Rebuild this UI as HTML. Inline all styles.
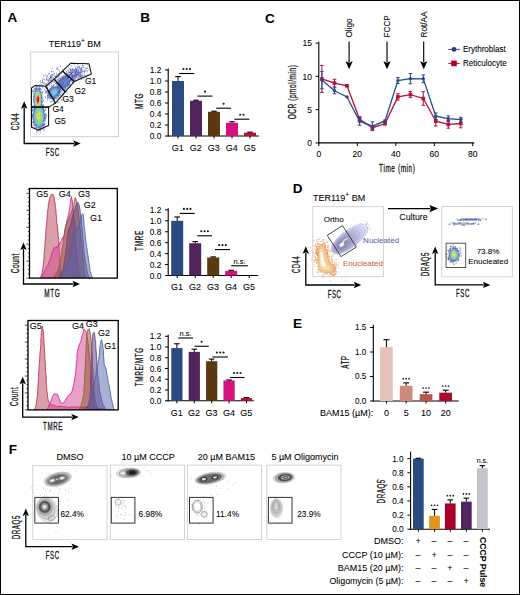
<!DOCTYPE html>
<html><head><meta charset="utf-8"><style>
html,body{margin:0;padding:0;background:#fff;}
body{width:520px;height:595px;overflow:hidden;position:relative;}
svg{position:absolute;left:0;top:0;}
text{font-family:"Liberation Sans", sans-serif;}
</style></head><body>
<svg width="520" height="595" viewBox="0 0 520 595">
<rect x="0" y="0" width="520" height="595" fill="#fff"/>
<clipPath id="h1"><rect x="29.5" y="188.5" width="87.8" height="89.6"/></clipPath>
<g clip-path="url(#h1)">
<path d="M40.00,277.80 L40.00,277.80 L40.24,277.40 L40.59,276.91 L41.02,276.23 L41.31,275.16 L41.70,273.74 L42.32,272.14 L42.51,269.82 L43.01,267.72 L43.25,264.88 L43.77,261.89 L43.96,258.16 L44.16,254.34 L44.54,250.53 L44.86,246.85 L45.08,243.55 L45.33,238.84 L45.69,235.83 L45.91,231.47 L46.15,228.01 L46.42,225.37 L46.83,221.99 L46.95,219.06 L47.17,216.76 L47.39,213.89 L47.44,212.48 L47.84,210.04 L48.25,207.37 L48.15,205.83 L48.58,203.72 L48.87,201.93 L49.19,200.45 L49.42,199.61 L49.82,197.97 L50.12,196.91 L50.58,195.80 L51.06,195.66 L51.19,194.43 L51.39,194.83 L51.90,194.26 L52.27,194.74 L52.43,194.14 L52.89,194.22 L52.94,194.30 L53.18,194.81 L53.28,194.93 L53.54,195.35 L53.81,196.17 L53.95,196.25 L54.14,196.81 L54.26,197.80 L54.43,198.50 L54.38,199.76 L54.70,201.79 L55.24,203.53 L55.13,204.71 L55.44,206.46 L55.54,207.63 L55.79,209.30 L55.91,210.22 L55.99,212.41 L56.20,214.66 L56.49,217.34 L56.60,219.65 L56.66,222.27 L57.14,224.60 L57.45,226.95 L57.73,229.86 L58.04,232.99 L58.08,236.15 L58.65,239.34 L58.69,241.72 L58.81,244.59 L59.04,247.90 L59.17,250.22 L59.27,252.48 L59.50,255.27 L59.61,257.04 L59.66,258.19 L59.78,259.93 L59.87,261.77 L59.97,263.31 L60.16,266.32 L60.46,267.30 L60.46,270.00 L60.73,271.13 L61.07,272.18 L61.21,274.34 L61.45,275.50 L61.58,276.95 L61.70,277.80 L61.70,277.80Z" fill="#b8485a" fill-opacity="0.52" stroke="#c4305a" stroke-width="0.9" stroke-linejoin="round"/>
<path d="M41.40,277.80 L41.40,277.80 L41.40,277.80 L41.37,277.80 L41.38,277.80 L41.50,277.80 L41.80,277.20 L42.31,275.89 L42.91,274.15 L43.81,273.24 L44.70,271.07 L45.45,269.15 L46.22,268.04 L47.03,266.34 L47.86,265.38 L48.46,263.62 L49.30,261.42 L49.81,260.45 L50.49,258.34 L51.06,256.46 L51.65,254.15 L52.09,252.26 L52.60,251.50 L53.16,250.75 L53.29,248.64 L53.80,248.48 L54.39,247.60 L54.42,246.80 L54.93,247.58 L55.19,247.68 L55.28,247.73 L55.60,248.04 L56.03,247.35 L56.30,247.61 L56.47,246.94 L56.73,246.60 L57.02,246.77 L57.42,246.69 L57.54,247.21 L57.97,246.76 L58.10,246.36 L58.58,246.04 L58.71,245.92 L58.97,245.56 L58.77,245.31 L58.96,244.66 L59.34,243.26 L59.71,244.23 L59.98,242.60 L60.48,242.60 L60.85,241.43 L61.28,240.71 L61.54,240.25 L61.87,239.06 L62.21,238.60 L62.34,237.88 L62.46,237.90 L62.96,238.29 L63.05,237.51 L62.85,237.80 L63.29,237.60 L63.39,237.03 L63.73,235.98 L64.06,235.25 L64.48,233.42 L64.57,231.74 L65.06,229.86 L65.26,229.47 L65.43,228.00 L65.65,226.43 L65.97,224.80 L66.36,223.83 L66.65,221.58 L67.36,219.57 L67.70,218.11 L68.06,215.93 L68.69,214.18 L68.93,212.23 L69.28,210.44 L69.54,208.12 L69.92,206.57 L70.16,204.83 L70.33,203.71 L70.63,200.86 L70.74,199.11 L71.28,197.74 L71.28,196.71 L71.56,196.53 L71.63,197.24 L71.87,199.37 L72.34,200.82 L72.46,202.09 L72.60,204.25 L72.69,205.06 L73.20,207.21 L73.17,209.75 L73.45,211.70 L73.73,215.16 L74.04,218.60 L74.27,222.17 L74.53,226.22 L75.00,230.18 L75.05,234.14 L75.31,237.46 L75.36,241.51 L75.82,246.52 L75.82,249.95 L76.21,253.45 L76.82,257.29 L76.80,260.44 L77.19,262.97 L77.38,265.94 L77.68,268.22 L78.21,270.37 L78.35,271.87 L78.69,272.98 L78.96,273.86 L79.17,274.63 L79.65,276.28 L80.11,276.83 L80.30,277.35 L80.50,277.80 L80.50,277.80Z" fill="#d24894" fill-opacity="0.52" stroke="#e0209a" stroke-width="0.9" stroke-linejoin="round"/>
<path d="M53.90,277.80 L53.90,277.80 L54.26,277.14 L54.70,275.61 L55.42,275.20 L56.08,273.89 L56.37,273.07 L57.03,271.74 L57.17,271.31 L57.83,270.70 L58.11,269.79 L58.38,268.30 L58.80,268.43 L59.04,267.29 L59.20,265.96 L59.74,264.82 L60.01,263.36 L60.06,262.51 L60.37,260.62 L60.62,259.05 L60.90,256.99 L61.06,255.14 L61.57,253.69 L61.75,251.31 L61.93,249.73 L62.26,248.37 L62.52,246.72 L62.86,244.49 L63.22,242.25 L63.50,240.62 L63.61,238.82 L64.01,236.96 L64.18,235.44 L64.36,233.14 L64.70,231.46 L65.09,228.79 L65.24,228.19 L65.65,226.03 L66.11,224.80 L66.35,223.82 L66.72,223.26 L67.10,222.15 L67.44,220.52 L68.06,220.59 L68.57,219.05 L69.05,218.04 L69.39,217.67 L69.82,215.50 L70.42,214.66 L70.65,214.47 L71.13,212.68 L71.30,212.49 L71.96,210.76 L72.47,209.31 L72.93,207.16 L73.68,205.35 L73.86,204.69 L73.94,203.15 L74.29,202.60 L74.38,202.13 L74.47,201.22 L74.74,200.99 L74.74,200.88 L74.91,199.09 L75.00,198.33 L75.13,197.89 L75.39,197.81 L75.54,197.80 L75.63,197.90 L75.83,198.70 L76.05,199.53 L76.21,199.52 L76.27,199.83 L76.23,200.35 L76.58,200.69 L76.67,201.09 L76.80,201.97 L77.09,203.51 L77.31,205.54 L77.77,207.81 L78.03,210.11 L78.23,212.89 L78.74,215.59 L79.08,218.51 L79.34,221.31 L79.73,224.92 L79.84,227.87 L80.43,231.02 L80.63,234.23 L81.00,236.38 L80.94,239.91 L81.34,243.13 L81.73,245.60 L82.06,249.56 L82.58,252.27 L82.69,255.74 L82.87,258.02 L83.35,260.79 L83.62,264.15 L83.83,267.22 L84.29,269.46 L84.61,271.90 L84.76,273.64 L84.99,275.10 L85.44,275.59 L85.63,277.09 L85.80,277.80 L85.80,277.80Z" fill="#8c5a2a" fill-opacity="0.52" stroke="#8a6438" stroke-width="0.9" stroke-linejoin="round"/>
<path d="M58.50,277.80 L58.50,277.80 L58.85,277.14 L59.37,276.20 L59.87,274.54 L60.39,273.81 L60.96,272.21 L61.49,272.49 L61.88,271.25 L62.01,270.96 L62.76,269.69 L63.28,268.64 L63.51,267.04 L63.92,264.66 L64.18,262.06 L64.74,260.11 L64.89,257.24 L65.43,254.71 L65.86,251.75 L66.09,248.49 L66.56,245.95 L66.64,243.87 L67.07,240.98 L67.03,239.08 L67.38,237.84 L67.43,235.96 L67.67,234.56 L67.90,233.12 L68.35,231.13 L68.77,229.98 L68.96,229.19 L69.36,228.03 L69.63,227.35 L70.10,226.07 L70.46,226.21 L70.57,224.52 L70.89,223.84 L71.32,221.37 L71.68,219.99 L72.10,217.25 L72.65,216.12 L73.22,214.15 L73.63,212.99 L74.05,211.66 L74.50,210.20 L75.03,209.63 L75.36,207.94 L75.76,207.12 L75.81,205.68 L76.37,205.24 L76.28,204.95 L76.72,204.25 L76.70,203.45 L77.03,203.61 L77.17,203.20 L77.64,203.54 L77.77,203.10 L77.99,202.36 L78.19,203.32 L78.32,204.06 L78.61,203.77 L78.77,204.74 L78.99,205.42 L79.39,205.46 L79.61,207.14 L79.74,208.84 L79.91,209.07 L80.23,211.38 L80.37,214.38 L80.73,217.34 L81.18,220.35 L81.49,223.19 L81.74,226.26 L82.10,229.20 L82.61,233.86 L82.77,237.08 L83.15,239.66 L83.28,243.04 L83.57,246.06 L83.83,249.05 L84.11,251.81 L84.49,255.90 L84.97,257.91 L85.25,261.12 L85.95,263.59 L86.35,266.39 L86.73,269.24 L87.23,270.98 L87.59,273.62 L88.23,274.80 L88.77,276.87 L89.00,277.80 L89.00,277.80Z" fill="#62387e" fill-opacity="0.52" stroke="#6a4890" stroke-width="0.9" stroke-linejoin="round"/>
<path d="M62.20,277.80 L62.20,277.80 L62.38,277.14 L62.46,276.70 L62.88,275.40 L63.27,273.79 L63.28,272.68 L63.59,271.94 L64.02,270.92 L64.40,270.34 L64.37,269.25 L64.80,268.14 L65.42,267.11 L65.71,266.51 L66.50,266.15 L67.13,265.08 L67.70,264.02 L68.32,262.87 L68.91,261.06 L69.43,258.75 L70.03,257.37 L70.67,255.02 L70.80,253.34 L71.28,250.28 L71.58,248.32 L71.91,245.88 L72.22,243.69 L72.71,241.21 L72.78,239.84 L73.06,236.60 L73.30,235.11 L73.70,233.13 L73.89,231.92 L74.06,231.48 L74.54,230.75 L74.87,230.99 L75.15,229.88 L75.58,230.23 L75.74,229.36 L76.11,229.06 L76.43,227.90 L76.92,228.31 L77.28,227.78 L77.75,227.36 L78.57,226.62 L78.73,226.50 L79.23,225.57 L79.51,225.16 L79.85,223.09 L80.18,222.57 L80.47,221.87 L80.58,220.58 L81.17,219.48 L81.21,218.25 L81.58,216.87 L81.59,215.47 L81.88,215.16 L82.03,214.31 L82.20,214.01 L82.24,213.86 L82.63,213.84 L82.67,213.56 L82.75,214.31 L82.90,214.47 L83.40,215.25 L83.27,216.10 L83.41,216.26 L83.63,216.58 L83.60,216.58 L83.65,217.68 L83.49,218.78 L83.78,220.40 L83.99,222.69 L84.03,225.52 L84.68,229.37 L84.97,232.45 L85.25,235.76 L85.59,237.79 L85.76,240.94 L86.14,243.33 L86.63,244.84 L86.66,247.47 L87.20,249.59 L87.36,252.27 L87.77,254.07 L88.04,255.78 L88.24,258.09 L88.61,260.13 L88.86,262.60 L89.34,264.69 L89.61,266.99 L89.86,269.12 L89.97,270.92 L90.25,271.56 L90.69,272.89 L90.64,272.44 L91.08,274.23 L91.30,275.17 L91.72,275.97 L92.10,276.60 L92.29,277.31 L92.50,277.80 L92.50,277.80Z" fill="#5868aa" fill-opacity="0.52" stroke="#4864a8" stroke-width="0.9" stroke-linejoin="round"/>
</g>
<clipPath id="h2"><rect x="28.0" y="320.5" width="90.2" height="89.4"/></clipPath>
<g clip-path="url(#h2)">
<path d="M34.50,410.20 L34.50,410.20 L34.92,408.31 L35.45,407.35 L35.84,405.77 L36.41,403.47 L36.84,399.68 L37.46,395.43 L37.77,390.15 L38.14,383.99 L38.53,377.47 L38.76,372.37 L39.11,367.00 L39.36,362.41 L39.72,358.30 L39.96,353.95 L40.34,350.13 L40.73,346.45 L40.88,343.69 L40.79,341.16 L41.07,338.19 L41.21,336.02 L41.20,333.66 L41.36,331.55 L41.72,329.90 L41.98,328.09 L42.05,327.60 L42.28,326.52 L42.47,326.43 L42.65,328.25 L42.82,329.15 L43.17,331.10 L43.53,334.16 L43.79,338.99 L43.99,343.21 L44.38,348.38 L44.70,353.29 L44.76,358.35 L45.31,362.54 L45.38,367.47 L45.57,372.33 L46.26,377.04 L46.18,381.86 L46.54,385.61 L46.81,390.48 L47.36,393.65 L47.66,397.30 L47.97,398.91 L48.31,400.71 L48.99,402.41 L49.96,403.26 L50.68,404.41 L52.28,405.12 L53.66,405.16 L55.44,405.82 L57.44,406.71 L59.97,406.11 L62.57,406.64 L65.32,406.92 L68.14,407.26 L71.51,406.90 L75.02,407.05 L78.69,406.83 L82.92,407.58 L87.33,407.25 L91.09,408.52 L95.26,408.11 L98.58,408.67 L102.02,408.83 L105.32,409.42 L108.04,409.88 L110.00,410.20 L110.00,410.20Z" fill="#b8485a" fill-opacity="0.52" stroke="#c4305a" stroke-width="0.9" stroke-linejoin="round"/>
<path d="M47.00,410.20 L47.00,410.20 L47.39,409.30 L47.89,407.97 L48.56,406.82 L49.15,404.84 L49.81,403.48 L50.61,401.90 L51.16,400.41 L51.72,398.75 L52.25,397.10 L52.69,396.27 L53.23,395.71 L53.53,394.49 L53.93,394.24 L54.39,394.06 L54.46,393.93 L55.02,393.84 L55.95,394.05 L56.32,394.37 L57.25,394.11 L57.60,394.91 L58.29,395.88 L58.40,396.91 L58.78,397.67 L58.96,398.42 L59.40,399.62 L60.03,400.52 L60.50,402.37 L61.17,402.43 L61.91,403.32 L62.31,403.33 L62.89,402.81 L63.57,403.10 L64.12,401.85 L64.79,401.41 L65.27,400.39 L65.73,399.13 L66.15,399.37 L66.93,397.68 L67.36,396.71 L68.00,395.98 L68.37,395.45 L69.05,395.18 L69.75,394.76 L70.44,394.56 L71.10,392.93 L71.86,391.55 L72.54,389.15 L73.47,385.75 L74.17,382.23 L74.76,379.31 L75.22,375.38 L75.83,372.09 L76.08,368.44 L76.31,364.23 L76.67,361.14 L77.12,358.51 L76.94,355.99 L77.10,353.65 L77.60,351.58 L77.64,350.08 L78.44,348.15 L78.87,345.74 L79.67,343.76 L80.44,342.20 L81.02,340.62 L81.47,339.01 L81.86,336.41 L82.25,335.59 L82.63,334.47 L83.15,332.68 L83.27,332.23 L83.54,331.46 L83.31,330.55 L83.67,329.68 L83.92,329.26 L84.09,329.99 L84.62,329.41 L84.55,330.04 L85.00,330.71 L85.28,330.75 L85.31,331.04 L85.68,331.40 L85.81,331.30 L86.27,331.86 L86.35,332.35 L86.44,333.53 L86.82,334.88 L87.06,336.45 L87.29,337.61 L87.76,340.38 L88.15,343.84 L88.72,347.54 L88.88,351.43 L89.34,355.27 L89.81,360.36 L90.30,364.26 L90.65,368.57 L90.81,372.02 L91.12,375.98 L91.40,379.31 L91.54,383.17 L91.94,385.47 L92.45,388.02 L92.77,390.46 L93.12,392.54 L93.38,395.77 L93.36,399.09 L93.96,401.72 L94.26,405.17 L94.35,406.79 L94.94,408.60 L94.96,409.01 L95.20,409.54 L95.37,409.89 L95.50,410.20 L95.50,410.20Z" fill="#d24894" fill-opacity="0.52" stroke="#e0209a" stroke-width="0.9" stroke-linejoin="round"/>
<path d="M79.00,410.20 L79.00,410.20 L79.69,407.96 L80.54,407.13 L81.51,403.87 L82.52,400.14 L83.08,397.17 L83.66,395.08 L83.94,392.61 L84.00,389.48 L84.28,386.55 L84.47,382.04 L84.68,377.06 L84.98,370.46 L85.45,364.30 L85.51,358.52 L86.00,352.06 L86.08,347.59 L86.28,344.08 L86.37,339.38 L86.73,336.76 L86.80,333.62 L87.17,332.52 L87.39,331.08 L87.36,330.95 L87.82,330.30 L87.78,329.80 L88.32,329.41 L88.26,329.68 L88.63,329.77 L89.11,329.08 L89.22,329.14 L89.45,328.64 L89.29,329.21 L89.78,331.01 L89.76,331.35 L90.17,332.01 L90.14,332.82 L90.24,332.65 L90.21,333.26 L90.43,335.35 L90.69,337.04 L91.05,340.08 L91.28,342.11 L91.37,344.95 L91.53,348.94 L91.76,352.20 L92.29,356.47 L92.35,360.80 L92.42,365.58 L92.91,370.20 L93.05,375.83 L93.34,378.74 L93.62,382.67 L93.86,386.51 L94.09,390.05 L94.32,392.96 L94.73,396.11 L95.19,399.30 L95.77,402.24 L96.11,404.20 L96.78,406.37 L97.40,408.70 L98.18,408.87 L98.74,409.54 L99.36,409.89 L99.80,410.20 L99.80,410.20Z" fill="#8c5a2a" fill-opacity="0.52" stroke="#8a6438" stroke-width="0.9" stroke-linejoin="round"/>
<path d="M84.00,410.20 L84.00,410.20 L84.77,409.30 L86.04,407.61 L86.84,406.40 L88.48,405.60 L89.22,401.84 L89.76,398.98 L90.03,394.79 L90.36,391.32 L90.52,387.24 L90.62,383.32 L90.69,378.19 L91.17,373.05 L91.21,368.47 L91.16,364.17 L91.35,359.68 L91.62,355.32 L91.62,351.39 L91.85,346.71 L92.10,343.27 L92.29,341.13 L92.44,337.68 L92.65,335.34 L93.02,333.73 L93.47,332.91 L93.68,332.46 L94.18,332.38 L94.51,333.83 L94.79,335.27 L95.00,336.60 L95.07,339.55 L95.62,341.16 L95.74,343.39 L95.80,346.47 L95.99,349.21 L96.23,352.06 L96.53,355.79 L96.57,359.87 L97.06,364.48 L97.15,368.14 L97.56,371.87 L97.70,376.10 L98.62,380.40 L98.88,383.60 L99.27,388.28 L99.67,392.09 L100.51,394.65 L100.90,397.19 L101.52,399.67 L102.09,402.32 L102.66,404.01 L103.44,405.70 L104.14,406.09 L104.77,407.95 L105.39,409.41 L105.80,410.20 L105.80,410.20Z" fill="#62387e" fill-opacity="0.52" stroke="#6a4890" stroke-width="0.9" stroke-linejoin="round"/>
<path d="M86.00,410.20 L86.00,410.20 L86.44,409.91 L87.06,409.59 L87.66,409.65 L88.68,407.90 L89.37,407.04 L89.73,405.22 L90.58,402.66 L91.06,400.32 L91.64,397.23 L92.41,394.39 L92.60,392.12 L93.29,389.42 L93.66,387.34 L94.10,384.48 L94.36,381.90 L94.80,380.75 L95.29,378.70 L95.44,377.01 L95.78,375.84 L96.08,373.27 L96.21,371.97 L96.58,370.39 L96.88,368.23 L97.15,367.37 L97.46,365.31 L97.82,364.19 L98.19,362.04 L98.40,360.19 L98.65,359.21 L99.12,356.62 L99.21,354.57 L99.56,352.54 L99.56,349.41 L99.74,347.71 L100.01,345.89 L100.28,344.52 L100.71,342.67 L100.99,340.83 L101.33,340.68 L101.59,339.67 L101.93,340.34 L102.13,342.52 L102.64,344.23 L102.84,346.53 L103.01,348.83 L103.58,351.87 L103.53,355.30 L103.80,358.72 L104.07,362.28 L104.32,365.12 L104.61,366.19 L104.73,366.40 L105.18,366.30 L105.27,366.52 L105.76,367.71 L106.06,368.63 L106.40,370.38 L106.54,371.91 L106.96,374.49 L107.24,376.37 L107.70,378.44 L108.05,381.54 L108.73,384.15 L109.21,385.97 L109.42,388.09 L110.02,390.61 L110.47,393.45 L110.76,396.08 L111.30,398.62 L111.86,400.47 L112.24,402.51 L112.89,404.79 L113.44,407.42 L113.72,408.60 L114.10,410.20 L114.10,410.20Z" fill="#5868aa" fill-opacity="0.52" stroke="#4864a8" stroke-width="0.9" stroke-linejoin="round"/>
</g>
<line x1="26.30" y1="278.10" x2="29.50" y2="278.10" stroke="#111" stroke-width="0.75"/>
<line x1="27.90" y1="273.86" x2="29.50" y2="273.86" stroke="#111" stroke-width="0.75"/>
<line x1="27.90" y1="269.62" x2="29.50" y2="269.62" stroke="#111" stroke-width="0.75"/>
<line x1="27.90" y1="265.39" x2="29.50" y2="265.39" stroke="#111" stroke-width="0.75"/>
<line x1="26.30" y1="261.15" x2="29.50" y2="261.15" stroke="#111" stroke-width="0.75"/>
<line x1="27.90" y1="256.91" x2="29.50" y2="256.91" stroke="#111" stroke-width="0.75"/>
<line x1="27.90" y1="252.67" x2="29.50" y2="252.67" stroke="#111" stroke-width="0.75"/>
<line x1="27.90" y1="248.44" x2="29.50" y2="248.44" stroke="#111" stroke-width="0.75"/>
<line x1="26.30" y1="244.20" x2="29.50" y2="244.20" stroke="#111" stroke-width="0.75"/>
<line x1="27.90" y1="239.96" x2="29.50" y2="239.96" stroke="#111" stroke-width="0.75"/>
<line x1="27.90" y1="235.72" x2="29.50" y2="235.72" stroke="#111" stroke-width="0.75"/>
<line x1="27.90" y1="231.49" x2="29.50" y2="231.49" stroke="#111" stroke-width="0.75"/>
<line x1="26.30" y1="227.25" x2="29.50" y2="227.25" stroke="#111" stroke-width="0.75"/>
<line x1="27.90" y1="223.01" x2="29.50" y2="223.01" stroke="#111" stroke-width="0.75"/>
<line x1="27.90" y1="218.77" x2="29.50" y2="218.77" stroke="#111" stroke-width="0.75"/>
<line x1="27.90" y1="214.54" x2="29.50" y2="214.54" stroke="#111" stroke-width="0.75"/>
<line x1="26.30" y1="210.30" x2="29.50" y2="210.30" stroke="#111" stroke-width="0.75"/>
<line x1="27.90" y1="206.06" x2="29.50" y2="206.06" stroke="#111" stroke-width="0.75"/>
<line x1="27.90" y1="201.82" x2="29.50" y2="201.82" stroke="#111" stroke-width="0.75"/>
<line x1="27.90" y1="197.59" x2="29.50" y2="197.59" stroke="#111" stroke-width="0.75"/>
<line x1="26.30" y1="193.35" x2="29.50" y2="193.35" stroke="#111" stroke-width="0.75"/>
<line x1="27.90" y1="189.11" x2="29.50" y2="189.11" stroke="#111" stroke-width="0.75"/>
<line x1="24.80" y1="409.90" x2="28.00" y2="409.90" stroke="#111" stroke-width="0.75"/>
<line x1="26.40" y1="405.66" x2="28.00" y2="405.66" stroke="#111" stroke-width="0.75"/>
<line x1="26.40" y1="401.42" x2="28.00" y2="401.42" stroke="#111" stroke-width="0.75"/>
<line x1="26.40" y1="397.19" x2="28.00" y2="397.19" stroke="#111" stroke-width="0.75"/>
<line x1="24.80" y1="392.95" x2="28.00" y2="392.95" stroke="#111" stroke-width="0.75"/>
<line x1="26.40" y1="388.71" x2="28.00" y2="388.71" stroke="#111" stroke-width="0.75"/>
<line x1="26.40" y1="384.47" x2="28.00" y2="384.47" stroke="#111" stroke-width="0.75"/>
<line x1="26.40" y1="380.24" x2="28.00" y2="380.24" stroke="#111" stroke-width="0.75"/>
<line x1="24.80" y1="376.00" x2="28.00" y2="376.00" stroke="#111" stroke-width="0.75"/>
<line x1="26.40" y1="371.76" x2="28.00" y2="371.76" stroke="#111" stroke-width="0.75"/>
<line x1="26.40" y1="367.52" x2="28.00" y2="367.52" stroke="#111" stroke-width="0.75"/>
<line x1="26.40" y1="363.29" x2="28.00" y2="363.29" stroke="#111" stroke-width="0.75"/>
<line x1="24.80" y1="359.05" x2="28.00" y2="359.05" stroke="#111" stroke-width="0.75"/>
<line x1="26.40" y1="354.81" x2="28.00" y2="354.81" stroke="#111" stroke-width="0.75"/>
<line x1="26.40" y1="350.57" x2="28.00" y2="350.57" stroke="#111" stroke-width="0.75"/>
<line x1="26.40" y1="346.34" x2="28.00" y2="346.34" stroke="#111" stroke-width="0.75"/>
<line x1="24.80" y1="342.10" x2="28.00" y2="342.10" stroke="#111" stroke-width="0.75"/>
<line x1="26.40" y1="337.86" x2="28.00" y2="337.86" stroke="#111" stroke-width="0.75"/>
<line x1="26.40" y1="333.62" x2="28.00" y2="333.62" stroke="#111" stroke-width="0.75"/>
<line x1="26.40" y1="329.39" x2="28.00" y2="329.39" stroke="#111" stroke-width="0.75"/>
<line x1="24.80" y1="325.15" x2="28.00" y2="325.15" stroke="#111" stroke-width="0.75"/>
<path d="M83.4 62.7h0.85v0.85h-0.85zM78.1 66.6h0.85v0.85h-0.85zM57.3 68.8h0.85v0.85h-0.85zM79.5 68.5h0.85v0.85h-0.85zM51.4 70.8h0.85v0.85h-0.85zM54.3 75.7h0.85v0.85h-0.85zM44.3 79.3h0.85v0.85h-0.85zM51.5 79.7h0.85v0.85h-0.85zM51.5 80.8h0.85v0.85h-0.85zM44.3 82.4h0.85v0.85h-0.85zM49.4 82.5h0.85v0.85h-0.85zM46.3 84.8h0.85v0.85h-0.85zM58.2 98.6h0.85v0.85h-0.85zM61.2 99.3h0.85v0.85h-0.85zM31.5 110.5h0.85v0.85h-0.85z" fill="rgb(40, 48, 144)"/>
<path d="M77.0 63.6h0.85v0.85h-0.85zM86.1 67.8h0.85v0.85h-0.85zM56.4 68.7h0.85v0.85h-0.85zM49.2 73.5h0.85v0.85h-0.85zM55.5 76.4h0.85v0.85h-0.85zM57.4 77.7h0.85v0.85h-0.85zM73.1 77.8h0.85v0.85h-0.85zM71.4 79.8h0.85v0.85h-0.85zM43.1 85.4h0.85v0.85h-0.85zM62.4 92.5h0.85v0.85h-0.85zM61.4 94.4h0.85v0.85h-0.85z" fill="rgb(88, 96, 176)"/>
<path d="M79.0 63.4h0.85v0.85h-0.85zM81.3 66.6h0.85v0.85h-0.85zM87.2 70.6h0.85v0.85h-0.85zM53.4 71.6h0.85v0.85h-0.85zM85.3 75.5h0.85v0.85h-0.85zM52.3 76.5h0.85v0.85h-0.85zM76.3 80.4h0.85v0.85h-0.85zM42.4 86.7h0.85v0.85h-0.85zM47.1 88.7h0.85v0.85h-0.85zM43.2 127.4h0.85v0.85h-0.85z" fill="rgb(104, 112, 192)"/>
<path d="M87.2 63.7h0.85v0.85h-0.85zM81.3 78.6h0.85v0.85h-0.85zM51.4 100.8h0.85v0.85h-0.85z" fill="rgb(56, 64, 152)"/>
<path d="M74.2 64.6h0.85v0.85h-0.85z" fill="rgb(120, 128, 200)"/>
<path d="M82.2 64.8h0.85v0.85h-0.85zM79.1 66.4h0.85v0.85h-0.85zM77.1 67.4h0.85v0.85h-0.85zM84.3 70.7h0.85v0.85h-0.85zM72.2 72.3h0.85v0.85h-0.85zM50.2 76.8h0.85v0.85h-0.85zM51.2 76.7h0.85v0.85h-0.85zM61.2 76.6h0.85v0.85h-0.85zM47.0 79.6h0.85v0.85h-0.85zM48.4 79.8h0.85v0.85h-0.85zM73.1 79.7h0.85v0.85h-0.85zM49.5 80.5h0.85v0.85h-0.85zM48.0 81.4h0.85v0.85h-0.85zM55.2 82.7h0.85v0.85h-0.85zM36.1 84.8h0.85v0.85h-0.85zM34.4 87.8h0.85v0.85h-0.85zM61.3 89.7h0.85v0.85h-0.85zM45.3 90.4h0.85v0.85h-0.85zM59.4 93.4h0.85v0.85h-0.85zM62.2 93.7h0.85v0.85h-0.85zM33.1 95.6h0.85v0.85h-0.85zM32.1 109.5h0.85v0.85h-0.85zM41.5 127.6h0.85v0.85h-0.85zM36.4 129.4h0.85v0.85h-0.85z" fill="rgb(48, 64, 152)"/>
<path d="M60.1 65.8h0.85v0.85h-0.85zM50.3 101.4h0.85v0.85h-0.85zM43.3 129.7h0.85v0.85h-0.85z" fill="rgb(48, 56, 144)"/>
<path d="M70.5 65.5h0.85v0.85h-0.85zM71.5 87.7h0.85v0.85h-0.85zM53.1 102.7h0.85v0.85h-0.85z" fill="rgb(120, 136, 200)"/>
<path d="M71.3 65.7h0.85v0.85h-0.85zM45.4 74.6h0.85v0.85h-0.85zM57.2 82.7h0.85v0.85h-0.85zM62.1 96.5h0.85v0.85h-0.85zM32.3 118.7h0.85v0.85h-0.85zM44.2 125.5h0.85v0.85h-0.85zM33.2 127.4h0.85v0.85h-0.85z" fill="rgb(96, 112, 184)"/>
<path d="M78.1 65.6h0.85v0.85h-0.85zM85.2 76.3h0.85v0.85h-0.85zM42.5 78.5h0.85v0.85h-0.85zM56.4 79.5h0.85v0.85h-0.85zM47.3 86.8h0.85v0.85h-0.85zM62.4 99.5h0.85v0.85h-0.85z" fill="rgb(112, 120, 192)"/>
<path d="M83.3 65.5h0.85v0.85h-0.85zM75.3 66.4h0.85v0.85h-0.85zM77.0 66.7h0.85v0.85h-0.85zM66.2 71.4h0.85v0.85h-0.85zM51.0 75.8h0.85v0.85h-0.85zM55.2 75.8h0.85v0.85h-0.85zM52.2 79.5h0.85v0.85h-0.85zM72.4 80.5h0.85v0.85h-0.85zM46.4 83.6h0.85v0.85h-0.85zM65.5 88.3h0.85v0.85h-0.85zM41.5 89.5h0.85v0.85h-0.85zM42.1 91.6h0.85v0.85h-0.85zM64.2 92.5h0.85v0.85h-0.85zM66.5 92.4h0.85v0.85h-0.85zM63.3 94.3h0.85v0.85h-0.85zM58.1 95.4h0.85v0.85h-0.85zM53.5 103.4h0.85v0.85h-0.85zM32.1 105.8h0.85v0.85h-0.85zM32.1 121.8h0.85v0.85h-0.85zM34.5 123.4h0.85v0.85h-0.85z" fill="rgb(72, 80, 168)"/>
<path d="M60.2 66.5h0.85v0.85h-0.85zM88.3 69.6h0.85v0.85h-0.85zM86.4 76.7h0.85v0.85h-0.85zM57.3 102.6h0.85v0.85h-0.85z" fill="rgb(128, 144, 208)"/>
<path d="M82.5 66.8h0.85v0.85h-0.85zM68.5 67.5h0.85v0.85h-0.85zM85.3 68.3h0.85v0.85h-0.85zM51.0 71.4h0.85v0.85h-0.85zM59.2 72.4h0.85v0.85h-0.85zM84.1 72.5h0.85v0.85h-0.85zM56.4 75.3h0.85v0.85h-0.85zM63.5 75.4h0.85v0.85h-0.85zM54.1 78.5h0.85v0.85h-0.85zM75.2 78.5h0.85v0.85h-0.85zM42.1 82.5h0.85v0.85h-0.85zM43.1 82.5h0.85v0.85h-0.85zM72.1 82.4h0.85v0.85h-0.85zM47.1 83.7h0.85v0.85h-0.85zM46.1 87.6h0.85v0.85h-0.85zM44.2 88.8h0.85v0.85h-0.85zM62.2 89.5h0.85v0.85h-0.85zM61.5 90.6h0.85v0.85h-0.85zM60.1 94.8h0.85v0.85h-0.85zM45.3 120.5h0.85v0.85h-0.85z" fill="rgb(80, 96, 176)"/>
<path d="M56.3 67.6h0.85v0.85h-0.85zM83.4 67.3h0.85v0.85h-0.85zM61.0 71.6h0.85v0.85h-0.85zM48.4 72.7h0.85v0.85h-0.85zM67.5 72.8h0.85v0.85h-0.85zM42.2 80.5h0.85v0.85h-0.85zM38.2 82.5h0.85v0.85h-0.85zM41.2 82.5h0.85v0.85h-0.85zM47.2 84.6h0.85v0.85h-0.85zM64.3 90.7h0.85v0.85h-0.85zM47.1 99.7h0.85v0.85h-0.85zM34.4 125.5h0.85v0.85h-0.85z" fill="rgb(104, 120, 192)"/>
<path d="M57.5 67.4h0.85v0.85h-0.85zM84.1 74.7h0.85v0.85h-0.85zM52.5 77.5h0.85v0.85h-0.85zM77.5 78.8h0.85v0.85h-0.85zM41.4 92.6h0.85v0.85h-0.85zM46.1 92.5h0.85v0.85h-0.85zM48.5 98.4h0.85v0.85h-0.85zM33.4 123.4h0.85v0.85h-0.85z" fill="rgb(40, 56, 144)"/>
<path d="M75.5 67.8h0.85v0.85h-0.85zM83.5 70.8h0.85v0.85h-0.85zM66.1 72.8h0.85v0.85h-0.85zM81.5 74.8h0.85v0.85h-0.85zM48.4 78.6h0.85v0.85h-0.85zM40.1 80.4h0.85v0.85h-0.85zM52.5 80.7h0.85v0.85h-0.85zM53.5 81.5h0.85v0.85h-0.85zM41.3 84.4h0.85v0.85h-0.85zM49.4 84.5h0.85v0.85h-0.85zM45.1 87.4h0.85v0.85h-0.85zM64.1 89.5h0.85v0.85h-0.85zM32.5 91.4h0.85v0.85h-0.85zM32.3 108.5h0.85v0.85h-0.85z" fill="rgb(64, 72, 160)"/>
<path d="M79.0 67.5h0.85v0.85h-0.85zM80.5 67.8h0.85v0.85h-0.85zM81.5 68.6h0.85v0.85h-0.85zM72.3 69.6h0.85v0.85h-0.85zM78.5 69.5h0.85v0.85h-0.85zM80.3 69.4h0.85v0.85h-0.85zM81.1 69.6h0.85v0.85h-0.85zM84.4 69.8h0.85v0.85h-0.85zM71.5 70.4h0.85v0.85h-0.85zM82.1 73.4h0.85v0.85h-0.85zM66.5 74.7h0.85v0.85h-0.85zM64.5 75.4h0.85v0.85h-0.85zM66.1 75.7h0.85v0.85h-0.85zM80.3 75.8h0.85v0.85h-0.85zM70.4 76.6h0.85v0.85h-0.85zM76.4 77.5h0.85v0.85h-0.85zM59.2 79.8h0.85v0.85h-0.85zM58.5 80.6h0.85v0.85h-0.85zM52.4 84.7h0.85v0.85h-0.85zM68.1 84.6h0.85v0.85h-0.85zM42.2 85.5h0.85v0.85h-0.85zM50.5 87.6h0.85v0.85h-0.85zM40.0 88.4h0.85v0.85h-0.85zM35.2 89.4h0.85v0.85h-0.85zM33.2 91.3h0.85v0.85h-0.85zM57.3 96.7h0.85v0.85h-0.85zM54.2 98.3h0.85v0.85h-0.85zM33.3 105.6h0.85v0.85h-0.85zM41.1 105.6h0.85v0.85h-0.85zM34.0 106.5h0.85v0.85h-0.85zM43.3 106.5h0.85v0.85h-0.85zM40.4 127.5h0.85v0.85h-0.85zM39.3 130.4h0.85v0.85h-0.85z" fill="rgb(40, 56, 152)"/>
<path d="M87.1 67.7h0.85v0.85h-0.85zM69.4 68.5h0.85v0.85h-0.85zM72.2 68.6h0.85v0.85h-0.85zM54.4 81.5h0.85v0.85h-0.85zM48.4 84.4h0.85v0.85h-0.85zM43.2 100.5h0.85v0.85h-0.85zM58.5 101.7h0.85v0.85h-0.85z" fill="rgb(32, 40, 136)"/>
<path d="M51.4 68.4h0.85v0.85h-0.85z" fill="rgb(136, 152, 216)"/>
<path d="M52.3 68.5h0.85v0.85h-0.85zM43.0 76.7h0.85v0.85h-0.85z" fill="rgb(128, 136, 208)"/>
<path d="M70.3 68.4h0.85v0.85h-0.85zM68.4 70.7h0.85v0.85h-0.85zM78.2 70.5h0.85v0.85h-0.85zM70.2 72.3h0.85v0.85h-0.85zM52.1 74.3h0.85v0.85h-0.85zM50.1 75.6h0.85v0.85h-0.85zM50.1 77.3h0.85v0.85h-0.85zM59.2 77.8h0.85v0.85h-0.85zM71.4 77.6h0.85v0.85h-0.85zM80.3 77.6h0.85v0.85h-0.85zM71.5 78.3h0.85v0.85h-0.85zM73.2 78.5h0.85v0.85h-0.85zM74.2 78.7h0.85v0.85h-0.85zM46.1 79.4h0.85v0.85h-0.85zM72.2 81.8h0.85v0.85h-0.85zM58.3 84.8h0.85v0.85h-0.85zM51.2 85.5h0.85v0.85h-0.85zM70.1 86.5h0.85v0.85h-0.85zM47.4 89.6h0.85v0.85h-0.85zM46.5 90.7h0.85v0.85h-0.85zM47.3 90.6h0.85v0.85h-0.85zM33.5 93.4h0.85v0.85h-0.85zM47.3 93.7h0.85v0.85h-0.85zM42.0 101.8h0.85v0.85h-0.85zM33.3 111.7h0.85v0.85h-0.85zM32.2 113.7h0.85v0.85h-0.85zM45.3 113.5h0.85v0.85h-0.85zM32.1 115.6h0.85v0.85h-0.85zM45.3 118.4h0.85v0.85h-0.85zM44.3 123.7h0.85v0.85h-0.85zM33.4 124.7h0.85v0.85h-0.85zM42.1 125.3h0.85v0.85h-0.85zM34.2 127.4h0.85v0.85h-0.85zM36.3 127.5h0.85v0.85h-0.85zM40.1 128.5h0.85v0.85h-0.85zM42.5 128.4h0.85v0.85h-0.85zM38.2 129.8h0.85v0.85h-0.85zM40.4 129.5h0.85v0.85h-0.85z" fill="rgb(32, 48, 144)"/>
<path d="M73.1 68.7h0.85v0.85h-0.85zM71.3 69.6h0.85v0.85h-0.85zM70.3 71.6h0.85v0.85h-0.85zM80.2 71.7h0.85v0.85h-0.85zM68.3 72.3h0.85v0.85h-0.85zM56.4 73.7h0.85v0.85h-0.85zM58.1 73.4h0.85v0.85h-0.85zM65.1 74.4h0.85v0.85h-0.85zM83.1 74.7h0.85v0.85h-0.85zM58.4 75.7h0.85v0.85h-0.85zM57.4 76.4h0.85v0.85h-0.85zM73.3 76.4h0.85v0.85h-0.85zM51.3 82.8h0.85v0.85h-0.85zM56.2 82.6h0.85v0.85h-0.85zM35.3 87.6h0.85v0.85h-0.85zM66.5 87.4h0.85v0.85h-0.85zM34.5 89.4h0.85v0.85h-0.85zM40.4 89.5h0.85v0.85h-0.85zM48.5 90.6h0.85v0.85h-0.85zM45.2 96.8h0.85v0.85h-0.85zM58.2 96.5h0.85v0.85h-0.85zM42.4 97.6h0.85v0.85h-0.85zM49.2 97.7h0.85v0.85h-0.85zM53.5 98.4h0.85v0.85h-0.85zM44.1 110.4h0.85v0.85h-0.85zM43.3 123.6h0.85v0.85h-0.85zM41.2 126.4h0.85v0.85h-0.85zM34.3 128.5h0.85v0.85h-0.85z" fill="rgb(64, 80, 168)"/>
<path d="M75.2 68.5h1v1h-1zM78.3 68.7h0.85v0.85h-0.85zM76.1 69.7h0.85v0.85h-0.85zM73.2 70.4h0.85v0.85h-0.85zM74.1 70.4h0.85v0.85h-0.85zM75.5 70.7h0.85v0.85h-0.85zM76.2 70.5h1v1h-1zM80.2 70.5h1v1h-1zM74.5 71.4h0.85v0.85h-0.85zM79.2 71.5h1v1h-1zM82.2 71.4h0.85v0.85h-0.85zM77.4 72.4h0.85v0.85h-0.85zM69.4 73.8h0.85v0.85h-0.85zM73.4 73.4h0.85v0.85h-0.85zM74.3 73.6h0.85v0.85h-0.85zM75.1 73.5h0.85v0.85h-0.85zM76.2 73.5h1v1h-1zM78.2 73.5h1v1h-1zM75.2 74.4h0.85v0.85h-0.85zM76.2 74.5h1v1h-1zM79.2 74.5h1v1h-1zM80.2 74.5h1v1h-1zM65.2 75.5h1v1h-1zM67.2 75.5h1v1h-1zM77.3 75.4h0.85v0.85h-0.85zM62.2 76.5h1v1h-1zM63.2 76.5h1v1h-1zM65.2 76.5h1v1h-1zM72.2 76.5h1v1h-1zM74.2 76.5h1v1h-1zM75.2 76.5h1v1h-1zM72.2 77.5h1v1h-1zM78.4 77.3h0.85v0.85h-0.85zM49.3 78.6h0.85v0.85h-0.85zM70.2 78.5h1v1h-1zM70.2 79.5h1v1h-1zM57.4 81.4h0.85v0.85h-0.85zM69.1 82.4h0.85v0.85h-0.85zM57.1 83.5h0.85v0.85h-0.85zM69.4 83.5h0.85v0.85h-0.85zM67.2 84.5h1v1h-1zM58.2 85.5h1v1h-1zM37.0 86.5h0.85v0.85h-0.85zM38.3 87.7h0.85v0.85h-0.85zM39.3 87.6h0.85v0.85h-0.85zM58.2 87.5h1v1h-1zM35.2 88.5h1v1h-1zM60.2 88.5h1v1h-1zM60.2 89.4h0.85v0.85h-0.85zM34.2 90.5h1v1h-1zM60.4 90.6h0.85v0.85h-0.85zM47.1 92.5h0.85v0.85h-0.85zM34.2 93.5h1v1h-1zM48.2 94.5h1v1h-1zM58.2 94.6h0.85v0.85h-0.85zM59.1 94.5h0.85v0.85h-0.85zM33.2 96.5h1v1h-1zM55.2 97.5h1v1h-1zM33.3 98.5h0.85v0.85h-0.85zM33.2 99.5h1v1h-1zM33.2 101.8h0.85v0.85h-0.85zM41.2 104.5h1v1h-1zM42.2 104.7h0.85v0.85h-0.85zM43.2 108.5h0.85v0.85h-0.85zM33.2 109.5h1v1h-1zM43.1 109.3h0.85v0.85h-0.85zM33.3 110.7h0.85v0.85h-0.85zM33.2 112.5h1v1h-1zM32.2 114.5h1v1h-1zM45.4 116.7h0.85v0.85h-0.85zM33.5 117.7h0.85v0.85h-0.85zM33.3 119.7h0.85v0.85h-0.85zM44.4 119.4h0.85v0.85h-0.85zM33.2 120.8h0.85v0.85h-0.85zM33.2 121.5h1v1h-1zM44.4 122.8h0.85v0.85h-0.85zM34.2 124.5h1v1h-1zM43.2 124.5h1v1h-1zM43.2 125.5h0.85v0.85h-0.85zM36.3 126.8h0.85v0.85h-0.85zM39.2 127.5h1v1h-1zM39.4 128.8h0.85v0.85h-0.85z" fill="rgb(32, 48, 152)"/>
<path d="M76.2 68.6h0.85v0.85h-0.85zM56.3 72.7h0.85v0.85h-0.85zM68.3 74.6h0.85v0.85h-0.85zM58.3 78.6h0.85v0.85h-0.85zM65.1 87.3h0.85v0.85h-0.85zM45.5 115.4h0.85v0.85h-0.85z" fill="rgb(72, 88, 176)"/>
<path d="M80.5 68.4h0.85v0.85h-0.85zM43.4 74.8h0.85v0.85h-0.85zM71.4 74.7h0.85v0.85h-0.85zM81.0 76.8h0.85v0.85h-0.85zM55.5 77.3h0.85v0.85h-0.85zM70.1 77.3h0.85v0.85h-0.85zM79.4 77.7h0.85v0.85h-0.85zM46.1 78.4h0.85v0.85h-0.85zM51.5 78.4h0.85v0.85h-0.85zM42.0 81.6h0.85v0.85h-0.85zM53.2 84.6h0.85v0.85h-0.85zM66.4 90.8h0.85v0.85h-0.85zM59.4 97.3h0.85v0.85h-0.85zM52.2 98.7h0.85v0.85h-0.85zM45.4 108.6h0.85v0.85h-0.85zM37.4 130.4h0.85v0.85h-0.85z" fill="rgb(72, 88, 168)"/>
<path d="M62.1 69.4h0.85v0.85h-0.85zM54.2 73.5h0.85v0.85h-0.85zM64.2 73.5h0.85v0.85h-0.85zM47.1 75.6h0.85v0.85h-0.85zM82.3 75.8h0.85v0.85h-0.85zM60.4 77.6h0.85v0.85h-0.85zM70.5 84.4h0.85v0.85h-0.85zM40.2 85.3h0.85v0.85h-0.85zM47.2 97.8h0.85v0.85h-0.85zM56.3 98.5h0.85v0.85h-0.85zM32.3 110.4h0.85v0.85h-0.85zM44.2 111.4h0.85v0.85h-0.85zM43.3 126.7h0.85v0.85h-0.85zM37.1 128.7h0.85v0.85h-0.85z" fill="rgb(48, 56, 152)"/>
<path d="M67.4 69.6h0.85v0.85h-0.85zM73.4 69.7h0.85v0.85h-0.85zM82.3 70.5h0.85v0.85h-0.85zM76.4 72.8h0.85v0.85h-0.85zM66.5 73.6h0.85v0.85h-0.85zM51.2 74.6h0.85v0.85h-0.85zM77.1 74.5h0.85v0.85h-0.85zM81.4 75.7h0.85v0.85h-0.85zM46.1 76.4h0.85v0.85h-0.85zM71.1 76.4h0.85v0.85h-0.85zM78.4 76.6h0.85v0.85h-0.85zM51.2 77.7h0.85v0.85h-0.85zM57.1 79.6h0.85v0.85h-0.85zM48.0 80.4h0.85v0.85h-0.85zM70.5 83.5h0.85v0.85h-0.85zM39.1 85.5h0.85v0.85h-0.85zM55.5 85.8h0.85v0.85h-0.85zM57.1 85.8h0.85v0.85h-0.85zM66.1 85.8h0.85v0.85h-0.85zM60.2 87.4h0.85v0.85h-0.85zM62.0 88.7h0.85v0.85h-0.85zM64.5 88.7h0.85v0.85h-0.85zM48.5 89.7h0.85v0.85h-0.85zM41.4 91.7h0.85v0.85h-0.85zM46.4 91.6h0.85v0.85h-0.85zM60.5 92.5h0.85v0.85h-0.85zM42.0 93.5h0.85v0.85h-0.85zM33.4 97.5h0.85v0.85h-0.85zM50.1 97.7h0.85v0.85h-0.85zM43.3 104.4h0.85v0.85h-0.85zM42.3 105.5h0.85v0.85h-0.85zM44.3 109.6h0.85v0.85h-0.85zM45.4 114.4h0.85v0.85h-0.85zM35.4 126.7h0.85v0.85h-0.85z" fill="rgb(56, 72, 160)"/>
<path d="M70.1 69.3h0.85v0.85h-0.85zM70.2 70.3h0.85v0.85h-0.85zM42.4 79.6h0.85v0.85h-0.85zM74.5 79.5h0.85v0.85h-0.85zM45.2 84.5h0.85v0.85h-0.85zM63.2 88.7h0.85v0.85h-0.85zM65.5 89.4h0.85v0.85h-0.85zM63.1 96.7h0.85v0.85h-0.85zM56.5 97.6h0.85v0.85h-0.85zM42.2 99.4h0.85v0.85h-0.85zM46.3 115.4h0.85v0.85h-0.85zM32.3 116.5h0.85v0.85h-0.85zM32.1 117.5h0.85v0.85h-0.85z" fill="rgb(56, 64, 160)"/>
<path d="M74.2 69.4h0.85v0.85h-0.85zM81.3 71.8h0.85v0.85h-0.85zM69.2 72.5h0.85v0.85h-0.85zM74.1 72.4h0.85v0.85h-0.85zM80.5 73.8h0.85v0.85h-0.85zM67.4 74.3h0.85v0.85h-0.85zM69.3 74.7h0.85v0.85h-0.85zM73.3 74.7h0.85v0.85h-0.85zM52.5 75.5h0.85v0.85h-0.85zM78.1 75.5h0.85v0.85h-0.85zM79.2 75.6h0.85v0.85h-0.85zM46.5 77.4h0.85v0.85h-0.85zM74.4 77.7h0.85v0.85h-0.85zM77.5 77.5h0.85v0.85h-0.85zM50.1 79.6h0.85v0.85h-0.85zM56.0 83.4h0.85v0.85h-0.85zM69.2 84.6h0.85v0.85h-0.85zM53.4 85.4h0.85v0.85h-0.85zM68.5 85.4h0.85v0.85h-0.85zM51.1 86.4h0.85v0.85h-0.85zM49.4 88.6h0.85v0.85h-0.85zM33.4 92.8h0.85v0.85h-0.85zM47.3 96.5h0.85v0.85h-0.85zM48.4 96.8h0.85v0.85h-0.85zM50.5 98.3h0.85v0.85h-0.85zM33.2 100.5h0.85v0.85h-0.85zM42.1 106.6h0.85v0.85h-0.85zM45.2 117.6h0.85v0.85h-0.85zM37.5 129.7h0.85v0.85h-0.85z" fill="rgb(48, 64, 160)"/>
<path d="M75.2 69.5h1v1h-1zM71.2 71.5h1v1h-1zM72.2 71.5h1v1h-1zM73.2 71.5h1v1h-1zM75.2 71.5h1v1h-1zM77.2 71.5h1v1h-1zM75.2 72.5h1v1h-1zM78.2 72.5h1v1h-1zM79.2 72.5h1v1h-1zM68.2 75.5h1v1h-1zM73.2 75.5h1v1h-1zM74.2 75.5h1v1h-1zM64.2 76.5h1v1h-1zM66.2 76.5h1v1h-1zM67.2 76.5h1v1h-1zM67.2 77.5h1v1h-1zM62.2 78.5h1v1h-1zM63.2 78.5h1v1h-1zM65.2 78.5h1v1h-1zM64.2 79.5h1v1h-1zM68.2 79.5h1v1h-1zM69.2 79.5h1v1h-1zM59.2 80.5h1v1h-1zM61.2 80.5h1v1h-1zM70.2 80.5h1v1h-1zM59.2 82.5h1v1h-1zM58.2 83.5h1v1h-1zM57.2 84.5h1v1h-1zM57.2 86.5h1v1h-1zM58.2 86.5h1v1h-1zM62.2 86.5h1v1h-1zM65.2 86.5h1v1h-1zM36.2 88.5h1v1h-1zM59.2 88.5h1v1h-1zM39.2 89.5h1v1h-1zM50.2 89.5h1v1h-1zM49.2 90.5h1v1h-1zM40.2 91.5h1v1h-1zM48.2 92.5h1v1h-1zM57.2 94.5h1v1h-1zM41.2 95.5h1v1h-1zM48.2 95.5h1v1h-1zM57.2 95.5h1v1h-1zM49.2 96.5h1v1h-1zM50.2 96.5h1v1h-1zM52.2 97.5h1v1h-1zM53.2 97.5h1v1h-1zM54.2 97.5h1v1h-1zM44.2 114.5h1v1h-1zM44.2 116.5h1v1h-1zM33.2 118.5h1v1h-1zM44.2 118.5h1v1h-1zM35.2 125.5h1v1h-1zM40.2 126.5h1v1h-1z" fill="rgb(32, 56, 160)"/>
<path d="M77.2 69.5h1v1h-1zM78.2 71.5h1v1h-1zM71.2 72.5h1v1h-1zM80.2 72.5h1v1h-1zM70.2 73.5h1v1h-1zM71.2 73.5h1v1h-1zM70.2 74.5h1v1h-1zM72.2 74.5h1v1h-1zM78.2 74.5h0.85v0.85h-0.85zM69.2 75.5h1v1h-1zM71.2 75.5h1v1h-1zM72.2 75.5h1v1h-1zM75.2 75.5h1v1h-1zM76.2 75.5h1v1h-1zM68.2 76.5h1v1h-1zM62.2 77.5h1v1h-1zM63.2 77.5h1v1h-1zM64.2 77.5h1v1h-1zM68.2 77.5h1v1h-1zM75.2 77.5h1v1h-1zM60.2 78.5h1v1h-1zM60.2 79.5h1v1h-1zM61.2 79.5h1v1h-1zM58.4 81.8h0.85v0.85h-0.85zM68.2 83.5h1v1h-1zM38.4 86.4h0.85v0.85h-0.85zM63.2 86.5h1v1h-1zM36.2 87.5h1v1h-1zM59.2 87.5h1v1h-1zM39.2 88.5h1v1h-1zM47.1 95.6h0.85v0.85h-0.85zM41.2 103.5h1v1h-1zM34.2 107.5h1v1h-1zM44.2 113.5h1v1h-1zM44.2 115.5h1v1h-1zM44.2 117.5h1v1h-1zM44.1 120.5h0.85v0.85h-0.85zM33.1 122.7h0.85v0.85h-0.85zM42.2 124.5h1v1h-1z" fill="rgb(32, 56, 152)"/>
<path d="M59.2 70.6h0.85v0.85h-0.85zM84.2 71.4h0.85v0.85h-0.85zM62.3 75.7h0.85v0.85h-0.85zM41.5 85.4h0.85v0.85h-0.85zM44.3 124.4h0.85v0.85h-0.85zM36.1 130.8h0.85v0.85h-0.85z" fill="rgb(80, 88, 176)"/>
<path d="M81.5 70.8h0.85v0.85h-0.85zM68.4 71.4h0.85v0.85h-0.85zM48.3 73.6h0.85v0.85h-0.85zM73.3 82.8h0.85v0.85h-0.85zM36.3 86.3h0.85v0.85h-0.85zM33.4 88.8h0.85v0.85h-0.85zM45.2 92.7h0.85v0.85h-0.85z" fill="rgb(96, 104, 184)"/>
<path d="M85.5 70.5h0.85v0.85h-0.85zM53.1 78.5h0.85v0.85h-0.85zM45.3 83.5h0.85v0.85h-0.85zM39.5 84.3h0.85v0.85h-0.85zM42.3 87.5h0.85v0.85h-0.85zM44.3 126.5h0.85v0.85h-0.85z" fill="rgb(96, 112, 192)"/>
<path d="M69.3 71.8h0.85v0.85h-0.85zM53.5 73.5h0.85v0.85h-0.85zM59.3 74.6h0.85v0.85h-0.85zM80.1 76.4h0.85v0.85h-0.85zM49.4 81.7h0.85v0.85h-0.85zM40.3 82.5h0.85v0.85h-0.85zM56.1 84.4h0.85v0.85h-0.85zM47.1 87.6h0.85v0.85h-0.85zM45.2 91.5h0.85v0.85h-0.85zM60.1 91.5h0.85v0.85h-0.85zM47.5 94.8h0.85v0.85h-0.85zM61.1 96.4h0.85v0.85h-0.85zM33.5 107.3h0.85v0.85h-0.85zM45.4 109.7h0.85v0.85h-0.85zM31.0 115.5h0.85v0.85h-0.85zM31.0 116.8h0.85v0.85h-0.85zM32.2 125.5h0.85v0.85h-0.85zM44.3 128.5h0.85v0.85h-0.85z" fill="rgb(64, 80, 160)"/>
<path d="M76.2 71.5h1v1h-1zM77.2 73.5h1v1h-1zM74.2 74.5h1v1h-1zM61.2 82.5h1v1h-1zM65.2 84.5h1v1h-1zM66.2 84.5h1v1h-1zM63.2 85.5h1v1h-1zM65.2 85.5h1v1h-1zM67.2 85.5h1v1h-1zM52.2 86.5h1v1h-1zM53.2 86.5h1v1h-1zM64.2 86.5h1v1h-1zM61.2 87.5h1v1h-1zM58.2 88.5h1v1h-1zM49.2 89.5h1v1h-1zM59.2 89.5h1v1h-1zM59.2 90.5h1v1h-1zM48.2 91.5h1v1h-1zM41.2 94.5h1v1h-1zM49.2 95.5h1v1h-1zM51.2 97.5h1v1h-1zM34.2 105.5h1v1h-1zM41.2 106.5h1v1h-1zM42.2 107.5h1v1h-1zM33.2 114.5h1v1h-1zM33.2 116.5h1v1h-1z" fill="rgb(32, 64, 160)"/>
<path d="M86.1 71.5h0.85v0.85h-0.85zM54.3 99.3h0.85v0.85h-0.85z" fill="rgb(88, 104, 176)"/>
<path d="M61.3 72.6h0.85v0.85h-0.85z" fill="rgb(32, 48, 136)"/>
<path d="M86.2 75.7h0.85v0.85h-0.85z" fill="rgb(40, 48, 136)"/>
<path d="M58.1 76.4h0.85v0.85h-0.85z" fill="rgb(112, 128, 192)"/>
<path d="M69.2 76.5h1v1h-1zM66.2 77.5h1v1h-1zM61.2 78.5h1v1h-1zM64.2 78.5h1v1h-1zM67.2 78.5h1v1h-1zM68.2 78.5h1v1h-1zM62.2 79.5h1v1h-1zM60.2 80.5h1v1h-1zM67.2 80.5h1v1h-1zM68.2 80.5h1v1h-1zM69.2 80.5h1v1h-1zM59.2 81.5h1v1h-1zM69.2 81.5h1v1h-1zM58.2 82.5h1v1h-1zM67.2 82.5h1v1h-1zM68.2 82.5h1v1h-1zM59.2 83.5h1v1h-1zM61.2 83.5h1v1h-1zM67.2 83.5h1v1h-1zM59.2 84.5h1v1h-1zM60.2 84.5h1v1h-1zM61.2 84.5h1v1h-1zM64.2 84.5h1v1h-1zM59.2 85.5h1v1h-1zM62.2 85.5h1v1h-1zM55.2 86.5h1v1h-1zM56.2 86.5h1v1h-1zM61.2 86.5h1v1h-1zM51.2 87.5h1v1h-1zM52.2 87.5h1v1h-1zM57.2 87.5h1v1h-1zM62.2 87.5h1v1h-1zM63.2 87.5h1v1h-1zM64.2 87.5h1v1h-1zM38.2 88.5h1v1h-1zM50.2 88.5h1v1h-1zM59.2 91.5h1v1h-1zM59.2 92.5h1v1h-1zM48.2 93.5h1v1h-1zM58.2 93.5h1v1h-1zM56.2 95.5h1v1h-1zM51.2 96.5h1v1h-1zM55.2 96.5h1v1h-1zM34.2 104.5h1v1h-1zM34.2 108.5h1v1h-1zM34.2 109.5h1v1h-1zM43.2 110.5h1v1h-1zM33.2 113.5h1v1h-1zM43.2 121.5h1v1h-1zM42.2 123.5h1v1h-1zM35.2 124.5h1v1h-1zM41.2 125.5h1v1h-1zM38.2 127.5h1v1h-1z" fill="rgb(32, 64, 168)"/>
<path d="M65.2 77.5h1v1h-1zM66.2 78.5h1v1h-1zM63.2 79.5h1v1h-1zM62.2 80.5h1v1h-1zM64.2 80.5h1v1h-1zM66.2 80.5h1v1h-1zM60.2 81.5h1v1h-1zM63.2 81.5h1v1h-1zM67.2 81.5h1v1h-1zM60.2 82.5h1v1h-1zM62.2 82.5h1v1h-1zM63.2 82.5h1v1h-1zM66.2 82.5h1v1h-1zM62.2 83.5h1v1h-1zM62.2 84.5h1v1h-1zM63.2 84.5h1v1h-1zM60.2 85.5h1v1h-1zM61.2 85.5h1v1h-1zM64.2 85.5h1v1h-1zM54.2 86.5h1v1h-1zM59.2 86.5h1v1h-1zM60.2 86.5h1v1h-1zM53.2 87.5h1v1h-1zM56.2 87.5h1v1h-1zM51.2 88.5h1v1h-1zM35.2 90.5h1v1h-1zM58.2 90.5h1v1h-1zM58.2 91.5h1v1h-1zM58.2 92.5h1v1h-1zM49.2 93.5h1v1h-1zM57.2 93.5h1v1h-1zM50.2 95.5h1v1h-1zM55.2 95.5h1v1h-1zM41.2 96.5h1v1h-1zM52.2 96.5h1v1h-1zM53.2 96.5h1v1h-1zM41.2 97.5h1v1h-1zM41.2 100.5h1v1h-1zM41.2 101.5h1v1h-1zM33.2 115.5h1v1h-1zM34.2 122.5h1v1h-1zM36.2 125.5h1v1h-1z" fill="rgb(40, 72, 176)"/>
<path d="M83.2 78.4h0.85v0.85h-0.85zM40.1 132.4h0.85v0.85h-0.85z" fill="rgb(112, 128, 200)"/>
<path d="M58.2 79.7h0.85v0.85h-0.85z" fill="rgb(40, 64, 160)"/>
<path d="M65.2 79.5h1v1h-1zM61.2 81.5h1v1h-1zM62.2 81.5h1v1h-1zM64.2 81.5h1v1h-1zM65.2 81.5h1v1h-1zM35.2 91.5h1v1h-1zM34.2 94.5h1v1h-1zM34.2 102.5h1v1h-1zM43.2 116.5h1v1h-1zM39.2 126.5h1v1h-1z" fill="rgb(40, 88, 192)"/>
<path d="M66.2 79.5h1v1h-1zM65.2 80.5h1v1h-1zM66.2 81.5h1v1h-1zM68.2 81.5h1v1h-1zM60.2 83.5h1v1h-1zM63.2 83.5h1v1h-1zM64.2 83.5h1v1h-1zM54.2 87.5h1v1h-1zM55.2 87.5h1v1h-1zM37.2 88.5h1v1h-1zM52.2 88.5h1v1h-1zM36.2 89.5h1v1h-1zM50.2 90.5h1v1h-1zM49.2 91.5h1v1h-1zM40.2 92.5h1v1h-1zM49.2 94.5h1v1h-1zM34.2 95.5h1v1h-1zM41.2 98.5h1v1h-1zM41.2 102.5h1v1h-1zM35.2 107.5h1v1h-1zM43.2 111.5h1v1h-1zM43.2 112.5h1v1h-1zM43.2 120.5h1v1h-1zM41.2 124.5h1v1h-1zM37.2 126.5h1v1h-1z" fill="rgb(40, 80, 184)"/>
<path d="M67.2 79.5h1v1h-1zM65.2 82.5h1v1h-1zM39.2 90.5h1v1h-1zM50.2 91.5h1v1h-1zM49.2 92.5h1v1h-1zM53.2 95.5h1v1h-1zM54.2 95.5h1v1h-1zM35.2 106.5h1v1h-1zM42.2 108.5h1v1h-1zM43.2 118.5h1v1h-1zM34.2 121.5h1v1h-1zM38.2 126.5h1v1h-1z" fill="rgb(40, 96, 192)"/>
<path d="M63.2 80.5h1v1h-1zM64.2 82.5h1v1h-1zM40.2 93.5h1v1h-1zM50.2 93.5h1v1h-1zM50.2 94.5h1v1h-1zM51.2 95.5h1v1h-1zM34.2 111.5h1v1h-1zM42.2 122.5h1v1h-1zM35.2 123.5h1v1h-1zM39.2 125.5h1v1h-1z" fill="rgb(40, 104, 192)"/>
<path d="M71.3 80.7h0.85v0.85h-0.85zM67.4 86.6h0.85v0.85h-0.85z" fill="rgb(40, 64, 152)"/>
<path d="M47.5 81.7h0.85v0.85h-0.85zM43.5 83.6h0.85v0.85h-0.85zM63.0 92.6h0.85v0.85h-0.85zM43.1 105.3h0.85v0.85h-0.85zM40.1 130.5h0.85v0.85h-0.85z" fill="rgb(88, 104, 184)"/>
<path d="M79.3 82.5h0.85v0.85h-0.85zM32.1 90.3h0.85v0.85h-0.85zM36.4 132.5h0.85v0.85h-0.85z" fill="rgb(80, 88, 168)"/>
<path d="M65.2 83.5h1v1h-1zM66.2 83.5h1v1h-1zM57.2 88.5h1v1h-1zM58.2 89.5h1v1h-1zM54.2 96.5h1v1h-1zM41.2 99.5h1v1h-1z" fill="rgb(40, 80, 176)"/>
<path d="M53.2 88.5h1v1h-1zM54.2 88.5h1v1h-1zM56.2 88.5h1v1h-1zM37.2 89.5h1v1h-1zM36.2 90.5h1v1h-1zM55.2 94.5h1v1h-1zM35.2 108.5h1v1h-1zM37.2 125.5h1v1h-1z" fill="rgb(40, 120, 200)"/>
<path d="M55.2 88.5h1v1h-1zM51.2 90.5h1v1h-1zM36.2 107.5h1v1h-1zM34.2 118.5h1v1h-1zM42.2 120.5h1v1h-1z" fill="rgb(40, 136, 208)"/>
<path d="M38.2 89.5h1v1h-1zM34.2 98.5h1v1h-1zM34.2 101.5h1v1h-1zM34.2 112.5h1v1h-1zM43.2 117.5h1v1h-1zM40.2 124.5h1v1h-1z" fill="rgb(48, 136, 208)"/>
<path d="M51.2 89.5h1v1h-1z" fill="rgb(40, 128, 200)"/>
<path d="M52.2 89.5h1v1h-1zM53.2 89.5h1v1h-1zM38.2 90.5h1v1h-1zM56.2 90.5h1v1h-1zM51.2 91.5h1v1h-1zM40.2 95.5h1v1h-1zM40.2 106.5h1v1h-1zM35.2 109.5h1v1h-1zM34.2 117.5h1v1h-1zM42.2 121.5h1v1h-1zM36.2 123.5h1v1h-1z" fill="rgb(48, 152, 216)"/>
<path d="M54.2 89.5h1v1h-1zM36.2 91.5h1v1h-1zM52.2 91.5h1v1h-1zM56.2 91.5h1v1h-1zM35.2 93.5h1v1h-1zM53.2 94.5h1v1h-1zM40.2 101.5h1v1h-1zM40.2 103.5h1v1h-1zM39.2 107.5h1v1h-1zM42.2 111.5h1v1h-1zM34.2 113.5h1v1h-1zM36.2 122.5h1v1h-1zM39.2 124.5h1v1h-1z" fill="rgb(56, 176, 192)"/>
<path d="M55.2 89.5h1v1h-1zM52.2 90.5h1v1h-1zM35.2 92.5h1v1h-1zM55.2 93.5h1v1h-1zM34.2 96.5h1v1h-1zM34.2 116.5h1v1h-1zM35.2 122.5h1v1h-1z" fill="rgb(48, 160, 208)"/>
<path d="M56.2 89.5h1v1h-1zM37.2 90.5h1v1h-1zM34.2 99.5h1v1h-1zM35.2 105.5h1v1h-1zM41.2 108.5h1v1h-1z" fill="rgb(48, 144, 216)"/>
<path d="M57.2 89.5h1v1h-1zM57.2 91.5h1v1h-1zM57.2 92.5h1v1h-1zM56.2 93.5h1v1h-1zM56.2 94.5h1v1h-1zM52.2 95.5h1v1h-1zM34.2 103.5h1v1h-1zM40.2 105.5h1v1h-1zM34.2 110.5h1v1h-1zM43.2 113.5h1v1h-1zM43.2 115.5h1v1h-1zM36.2 124.5h1v1h-1zM40.2 125.5h1v1h-1z" fill="rgb(40, 112, 200)"/>
<path d="M53.2 90.5h1v1h-1zM55.2 90.5h1v1h-1zM35.2 94.5h1v1h-1zM35.2 103.5h1v1h-1zM36.2 108.5h1v1h-1zM36.2 109.5h1v1h-1zM42.2 112.5h1v1h-1zM42.2 114.5h1v1h-1zM42.2 118.5h1v1h-1zM35.2 120.5h1v1h-1z" fill="rgb(64, 192, 160)"/>
<path d="M54.2 90.5h1v1h-1z" fill="rgb(56, 192, 176)"/>
<path d="M57.2 90.5h1v1h-1zM39.2 91.5h1v1h-1zM50.2 92.5h1v1h-1zM51.2 94.5h1v1h-1zM54.2 94.5h1v1h-1zM41.2 107.5h1v1h-1zM42.2 109.5h1v1h-1zM34.2 119.5h1v1h-1zM41.2 123.5h1v1h-1z" fill="rgb(40, 128, 208)"/>
<path d="M37.2 91.5h1v1h-1zM39.2 104.5h1v1h-1zM37.2 110.5h1v1h-1zM39.2 111.5h1v1h-1zM36.2 112.5h1v1h-1zM36.2 113.5h1v1h-1zM41.2 115.5h1v1h-1zM42.2 115.5h1v1h-1zM41.2 119.5h1v1h-1zM36.2 120.5h1v1h-1zM38.2 123.5h1v1h-1zM39.2 123.5h1v1h-1z" fill="rgb(96, 192, 88)"/>
<path d="M38.2 91.5h1v1h-1zM55.2 91.5h1v1h-1zM39.2 109.5h1v1h-1zM42.2 116.5h1v1h-1zM35.2 118.5h1v1h-1z" fill="rgb(80, 192, 128)"/>
<path d="M53.2 91.5h1v1h-1zM37.2 108.5h1v1h-1zM35.2 112.5h1v1h-1z" fill="rgb(72, 192, 136)"/>
<path d="M54.2 91.5h1v1h-1zM39.2 108.5h1v1h-1zM40.2 109.5h1v1h-1z" fill="rgb(80, 192, 104)"/>
<path d="M36.2 92.5h1v1h-1zM36.2 105.5h1v1h-1zM40.2 110.5h1v1h-1zM35.2 113.5h1v1h-1zM35.2 116.5h1v1h-1zM36.2 117.5h1v1h-1zM36.2 119.5h1v1h-1zM40.2 120.5h1v1h-1zM40.2 122.5h1v1h-1z" fill="rgb(88, 192, 96)"/>
<path d="M37.2 92.5h1v1h-1zM35.2 98.5h1v1h-1zM39.2 110.5h1v1h-1zM41.2 114.5h1v1h-1zM36.2 115.5h1v1h-1zM41.2 116.5h1v1h-1zM37.2 119.5h1v1h-1z" fill="rgb(120, 200, 64)"/>
<path d="M38.2 92.5h1v1h-1zM36.2 110.5h1v1h-1zM39.2 121.5h1v1h-1zM40.2 121.5h1v1h-1z" fill="rgb(104, 200, 80)"/>
<path d="M39.2 92.5h1v1h-1zM53.2 92.5h1v1h-1zM54.2 92.5h1v1h-1zM39.2 93.5h1v1h-1zM40.2 98.5h1v1h-1zM35.2 102.5h1v1h-1zM41.2 120.5h1v1h-1zM41.2 121.5h1v1h-1z" fill="rgb(80, 192, 112)"/>
<path d="M51.2 92.5h1v1h-1zM53.2 93.5h1v1h-1zM39.2 106.5h1v1h-1zM37.2 107.5h1v1h-1zM40.2 107.5h1v1h-1zM34.2 114.5h1v1h-1zM34.2 115.5h1v1h-1z" fill="rgb(48, 168, 200)"/>
<path d="M52.2 92.5h1v1h-1zM40.2 102.5h1v1h-1z" fill="rgb(64, 192, 168)"/>
<path d="M55.2 92.5h1v1h-1zM54.2 93.5h1v1h-1zM41.2 109.5h1v1h-1zM35.2 110.5h1v1h-1zM35.2 119.5h1v1h-1zM42.2 119.5h1v1h-1zM35.2 121.5h1v1h-1zM41.2 122.5h1v1h-1z" fill="rgb(56, 184, 184)"/>
<path d="M56.2 92.5h1v1h-1zM40.2 94.5h1v1h-1zM42.2 110.5h1v1h-1z" fill="rgb(48, 152, 208)"/>
<path d="M36.2 93.5h1v1h-1zM37.2 105.5h1v1h-1zM36.2 111.5h1v1h-1zM37.2 112.5h1v1h-1zM40.2 113.5h1v1h-1zM40.2 118.5h1v1h-1z" fill="rgb(128, 200, 64)"/>
<path d="M37.2 93.5h1v1h-1zM36.2 103.5h1v1h-1z" fill="rgb(232, 200, 40)"/>
<path d="M38.2 93.5h1v1h-1zM37.2 113.5h1v1h-1zM39.2 118.5h1v1h-1z" fill="rgb(168, 208, 48)"/>
<path d="M51.2 93.5h1v1h-1z" fill="rgb(48, 160, 200)"/>
<path d="M52.2 93.5h1v1h-1zM40.2 123.5h1v1h-1z" fill="rgb(56, 168, 192)"/>
<path d="M36.2 94.5h1v1h-1zM39.2 95.5h1v1h-1z" fill="rgb(192, 216, 48)"/>
<path d="M37.2 94.5h1v1h-1zM37.2 104.5h1v1h-1z" fill="rgb(232, 192, 32)"/>
<path d="M38.2 94.5h1v1h-1zM39.2 97.5h1v1h-1z" fill="rgb(240, 144, 32)"/>
<path d="M39.2 94.5h1v1h-1zM40.2 112.5h1v1h-1zM38.2 119.5h1v1h-1z" fill="rgb(128, 200, 56)"/>
<path d="M52.2 94.5h1v1h-1zM34.2 97.5h1v1h-1zM34.2 100.5h1v1h-1zM40.2 104.5h1v1h-1zM38.2 125.5h1v1h-1z" fill="rgb(48, 144, 208)"/>
<path d="M35.2 95.5h1v1h-1zM40.2 96.5h1v1h-1zM40.2 108.5h1v1h-1zM42.2 117.5h1v1h-1z" fill="rgb(72, 192, 144)"/>
<path d="M36.2 95.5h1v1h-1zM39.2 98.5h1v1h-1zM38.2 114.5h1v1h-1zM39.2 115.5h1v1h-1zM38.2 116.5h1v1h-1z" fill="rgb(232, 176, 32)"/>
<path d="M37.2 95.5h1v1h-1z" fill="rgb(216, 56, 24)"/>
<path d="M38.2 95.5h1v1h-1z" fill="rgb(224, 80, 24)"/>
<path d="M35.2 96.5h1v1h-1zM40.2 97.5h1v1h-1zM41.2 112.5h1v1h-1zM41.2 118.5h1v1h-1zM37.2 122.5h1v1h-1z" fill="rgb(96, 192, 80)"/>
<path d="M36.2 96.5h1v1h-1zM39.2 99.5h1v1h-1zM36.2 101.5h1v1h-1z" fill="rgb(240, 128, 32)"/>
<path d="M37.2 96.5h1v1h-1zM38.2 96.5h1v1h-1zM37.2 97.5h1v1h-1zM38.2 97.5h1v1h-1zM36.2 98.5h1v1h-1zM37.2 98.5h1v1h-1zM38.2 98.5h1v1h-1zM37.2 99.5h1v1h-1zM38.2 99.5h1v1h-1zM36.2 100.5h1v1h-1zM37.2 100.5h1v1h-1zM38.2 100.5h1v1h-1zM37.2 101.5h1v1h-1zM38.2 101.5h1v1h-1zM37.2 102.5h1v1h-1z" fill="rgb(208, 24, 24)"/>
<path d="M39.2 96.5h1v1h-1zM39.2 116.5h1v1h-1zM38.2 117.5h1v1h-1z" fill="rgb(232, 184, 32)"/>
<path d="M35.2 97.5h1v1h-1zM35.2 101.5h1v1h-1zM36.2 104.5h1v1h-1zM41.2 111.5h1v1h-1zM41.2 113.5h1v1h-1zM39.2 119.5h1v1h-1zM39.2 122.5h1v1h-1z" fill="rgb(112, 200, 72)"/>
<path d="M36.2 97.5h1v1h-1z" fill="rgb(216, 64, 24)"/>
<path d="M35.2 99.5h1v1h-1zM37.2 111.5h1v1h-1zM40.2 111.5h1v1h-1zM35.2 115.5h1v1h-1zM35.2 117.5h1v1h-1zM41.2 117.5h1v1h-1zM37.2 120.5h1v1h-1zM39.2 120.5h1v1h-1zM38.2 121.5h1v1h-1z" fill="rgb(104, 192, 80)"/>
<path d="M36.2 99.5h1v1h-1z" fill="rgb(224, 64, 24)"/>
<path d="M40.2 99.5h1v1h-1zM39.2 105.5h1v1h-1zM41.2 110.5h1v1h-1z" fill="rgb(72, 192, 152)"/>
<path d="M35.2 100.5h1v1h-1zM38.2 105.5h1v1h-1zM40.2 117.5h1v1h-1zM37.2 118.5h1v1h-1z" fill="rgb(144, 200, 56)"/>
<path d="M39.2 100.5h1v1h-1z" fill="rgb(240, 152, 32)"/>
<path d="M40.2 100.5h1v1h-1zM38.2 108.5h1v1h-1z" fill="rgb(80, 192, 120)"/>
<path d="M39.2 101.5h1v1h-1zM36.2 102.5h1v1h-1zM39.2 114.5h1v1h-1zM37.2 115.5h1v1h-1z" fill="rgb(224, 208, 40)"/>
<path d="M38.2 102.5h1v1h-1z" fill="rgb(224, 88, 24)"/>
<path d="M39.2 102.5h1v1h-1zM38.2 113.5h1v1h-1zM39.2 113.5h1v1h-1zM37.2 114.5h1v1h-1zM39.2 117.5h1v1h-1zM38.2 118.5h1v1h-1z" fill="rgb(224, 216, 40)"/>
<path d="M37.2 103.5h1v1h-1z" fill="rgb(232, 112, 32)"/>
<path d="M38.2 103.5h1v1h-1z" fill="rgb(240, 160, 32)"/>
<path d="M39.2 103.5h1v1h-1zM39.2 112.5h1v1h-1z" fill="rgb(176, 208, 48)"/>
<path d="M35.2 104.5h1v1h-1zM36.2 106.5h1v1h-1z" fill="rgb(56, 192, 184)"/>
<path d="M38.2 104.5h1v1h-1zM38.2 111.5h1v1h-1z" fill="rgb(160, 208, 48)"/>
<path d="M37.2 106.5h1v1h-1zM37.2 109.5h1v1h-1zM35.2 114.5h1v1h-1z" fill="rgb(88, 192, 104)"/>
<path d="M38.2 106.5h1v1h-1zM38.2 109.5h1v1h-1zM36.2 121.5h1v1h-1zM37.2 121.5h1v1h-1zM38.2 122.5h1v1h-1z" fill="rgb(88, 192, 88)"/>
<path d="M38.2 107.5h1v1h-1zM35.2 111.5h1v1h-1zM42.2 113.5h1v1h-1zM37.2 123.5h1v1h-1z" fill="rgb(64, 192, 176)"/>
<path d="M38.2 110.5h1v1h-1zM36.2 116.5h1v1h-1z" fill="rgb(112, 200, 80)"/>
<path d="M38.2 112.5h1v1h-1zM40.2 115.5h1v1h-1zM40.2 116.5h1v1h-1z" fill="rgb(152, 208, 56)"/>
<path d="M36.2 114.5h1v1h-1zM40.2 114.5h1v1h-1zM40.2 119.5h1v1h-1z" fill="rgb(136, 200, 56)"/>
<path d="M43.2 114.5h1v1h-1zM43.2 119.5h1v1h-1zM34.2 120.5h1v1h-1z" fill="rgb(40, 88, 184)"/>
<path d="M46.2 114.8h0.85v0.85h-0.85z" fill="rgb(120, 136, 208)"/>
<path d="M38.2 115.5h1v1h-1z" fill="rgb(240, 136, 32)"/>
<path d="M37.2 116.5h1v1h-1z" fill="rgb(224, 200, 40)"/>
<path d="M37.2 117.5h1v1h-1z" fill="rgb(208, 216, 40)"/>
<path d="M36.2 118.5h1v1h-1z" fill="rgb(120, 200, 72)"/>
<path d="M38.2 120.5h1v1h-1z" fill="rgb(160, 208, 56)"/>
<path d="M37.2 124.5h1v1h-1z" fill="rgb(48, 168, 192)"/>
<path d="M38.2 124.5h1v1h-1z" fill="rgb(64, 192, 152)"/>
<path d="M52.4 495.9h0.6v0.6h-0.6zM66.7 480.9h0.6v0.6h-0.6zM48.4 480.8h0.6v0.6h-0.6zM58.8 484.6h0.6v0.6h-0.6zM61.0 470.2h0.6v0.6h-0.6zM70.8 484.2h0.6v0.6h-0.6zM60.2 483.9h0.6v0.6h-0.6zM47.5 488.7h0.6v0.6h-0.6zM61.9 483.4h0.6v0.6h-0.6zM50.2 490.5h0.6v0.6h-0.6zM41.6 472.9h0.6v0.6h-0.6zM56.7 479.6h0.6v0.6h-0.6zM29.0 478.5h0.6v0.6h-0.6zM46.4 475.5h0.6v0.6h-0.6zM34.1 485.3h0.6v0.6h-0.6zM62.8 483.1h0.6v0.6h-0.6zM43.1 488.1h0.6v0.6h-0.6zM60.6 482.6h0.6v0.6h-0.6zM58.5 493.3h0.6v0.6h-0.6zM49.5 478.5h0.6v0.6h-0.6zM56.2 487.0h0.6v0.6h-0.6zM65.2 474.7h0.6v0.6h-0.6zM44.1 478.3h0.6v0.6h-0.6zM31.2 486.0h0.6v0.6h-0.6zM58.3 479.1h0.6v0.6h-0.6zM68.6 491.6h0.6v0.6h-0.6zM59.5 488.2h0.6v0.6h-0.6zM63.5 474.3h0.6v0.6h-0.6zM59.4 489.8h0.6v0.6h-0.6zM30.8 487.8h0.6v0.6h-0.6zM49.0 491.3h0.6v0.6h-0.6zM46.7 484.9h0.6v0.6h-0.6zM56.1 478.0h0.6v0.6h-0.6zM59.2 484.2h0.6v0.6h-0.6zM57.9 480.8h0.6v0.6h-0.6zM65.0 489.8h0.6v0.6h-0.6zM49.9 490.1h0.6v0.6h-0.6zM67.1 499.3h0.6v0.6h-0.6zM33.1 492.1h0.6v0.6h-0.6zM57.6 484.2h0.6v0.6h-0.6zM39.9 495.1h0.6v0.6h-0.6zM36.9 489.5h0.6v0.6h-0.6zM67.6 472.2h0.6v0.6h-0.6zM48.4 474.5h0.6v0.6h-0.6zM54.9 497.1h0.6v0.6h-0.6zM76.3 470.8h0.6v0.6h-0.6zM45.1 490.6h0.6v0.6h-0.6zM71.0 488.4h0.6v0.6h-0.6zM43.0 487.4h0.6v0.6h-0.6zM51.8 483.4h0.6v0.6h-0.6zM43.2 488.1h0.6v0.6h-0.6zM55.7 484.3h0.6v0.6h-0.6zM49.3 474.7h0.6v0.6h-0.6zM46.2 494.7h0.6v0.6h-0.6zM49.7 473.5h0.6v0.6h-0.6zM68.0 489.2h0.6v0.6h-0.6zM77.3 485.5h0.6v0.6h-0.6zM46.5 473.4h0.6v0.6h-0.6zM67.9 505.6h0.6v0.6h-0.6zM42.1 479.8h0.6v0.6h-0.6z" fill="#999"/>
<path d="M46.9 521.4h0.6v0.6h-0.6zM52.9 518.5h0.6v0.6h-0.6zM60.0 501.1h0.6v0.6h-0.6zM42.0 500.1h0.6v0.6h-0.6zM46.1 521.0h0.6v0.6h-0.6zM46.8 516.5h0.6v0.6h-0.6zM31.7 513.3h0.6v0.6h-0.6zM39.7 528.0h0.6v0.6h-0.6zM54.1 520.5h0.6v0.6h-0.6zM46.5 517.5h0.6v0.6h-0.6zM52.3 508.9h0.6v0.6h-0.6zM43.0 511.0h0.6v0.6h-0.6zM42.2 506.7h0.6v0.6h-0.6zM44.7 505.4h0.6v0.6h-0.6zM53.1 497.6h0.6v0.6h-0.6zM53.6 506.4h0.6v0.6h-0.6zM42.6 499.8h0.6v0.6h-0.6zM45.8 509.8h0.6v0.6h-0.6zM48.5 507.2h0.6v0.6h-0.6zM47.8 528.4h0.6v0.6h-0.6zM50.3 506.8h0.6v0.6h-0.6zM54.6 510.8h0.6v0.6h-0.6zM51.8 517.5h0.6v0.6h-0.6zM43.9 494.6h0.6v0.6h-0.6zM44.2 517.0h0.6v0.6h-0.6zM44.0 516.0h0.6v0.6h-0.6zM54.8 507.1h0.6v0.6h-0.6zM56.9 526.6h0.6v0.6h-0.6zM55.6 522.5h0.6v0.6h-0.6zM55.8 532.3h0.6v0.6h-0.6zM48.5 512.0h0.6v0.6h-0.6zM51.8 503.8h0.6v0.6h-0.6zM34.6 504.1h0.6v0.6h-0.6zM50.0 516.3h0.6v0.6h-0.6zM34.7 495.0h0.6v0.6h-0.6zM44.5 510.3h0.6v0.6h-0.6zM46.6 518.0h0.6v0.6h-0.6zM56.8 514.1h0.6v0.6h-0.6zM51.9 502.1h0.6v0.6h-0.6zM37.6 514.1h0.6v0.6h-0.6z" fill="#999"/>
<ellipse cx="57.90" cy="479.30" rx="14.00" ry="6.80" fill="#dadada" stroke="#bbb" stroke-width="0.4" opacity="1.0" transform="rotate(-14 57.90 479.30)"/>
<ellipse cx="57.90" cy="479.30" rx="12.60" ry="5.90" fill="#bdbdbd" stroke="#999" stroke-width="0.4" opacity="1.0" transform="rotate(-14 57.90 479.30)"/>
<ellipse cx="57.70" cy="479.40" rx="11.00" ry="4.90" fill="#989898" stroke="#777" stroke-width="0.4" opacity="1.0" transform="rotate(-14 57.70 479.40)"/>
<ellipse cx="57.50" cy="479.50" rx="9.20" ry="3.90" fill="#6a6a6a" stroke="#555" stroke-width="0.4" opacity="1.0" transform="rotate(-14 57.50 479.50)"/>
<ellipse cx="52.30" cy="480.50" rx="3.20" ry="1.80" fill="#b8b8b8" stroke="none" stroke-width="0.5" opacity="1.0" transform="rotate(-14 52.30 480.50)"/>
<ellipse cx="62.00" cy="478.10" rx="3.20" ry="1.70" fill="#b8b8b8" stroke="none" stroke-width="0.5" opacity="1.0" transform="rotate(-14 62.00 478.10)"/>
<ellipse cx="52.30" cy="480.50" rx="1.70" ry="0.90" fill="#f4f4f4" stroke="none" stroke-width="0.5" opacity="1.0" transform="rotate(-14 52.30 480.50)"/>
<ellipse cx="62.00" cy="478.10" rx="1.70" ry="0.90" fill="#f0f0f0" stroke="none" stroke-width="0.5" opacity="1.0" transform="rotate(-14 62.00 478.10)"/>
<ellipse cx="57.20" cy="479.30" rx="1.20" ry="0.80" fill="#d0d0d0" stroke="none" stroke-width="0.5" opacity="1.0" transform="rotate(-14 57.20 479.30)"/>
<ellipse cx="47.00" cy="509.50" rx="10.50" ry="13.00" fill="#e8e8e8" stroke="#bbb" stroke-width="0.4" opacity="1.0" transform="rotate(-15 47.00 509.50)"/>
<ellipse cx="46.00" cy="508.50" rx="9.00" ry="11.00" fill="#d0d0d0" stroke="#999" stroke-width="0.4" opacity="1.0" transform="rotate(-15 46.00 508.50)"/>
<ellipse cx="45.20" cy="507.50" rx="7.20" ry="8.00" fill="#b0b0b0" stroke="#777" stroke-width="0.4" opacity="1.0"/>
<ellipse cx="44.80" cy="507.00" rx="5.60" ry="5.80" fill="#555" stroke="#333" stroke-width="0.4" opacity="1.0"/>
<ellipse cx="44.60" cy="506.80" rx="3.60" ry="3.80" fill="#909090" stroke="none" stroke-width="0.5" opacity="1.0"/>
<ellipse cx="44.60" cy="506.80" rx="2.20" ry="2.30" fill="#d0d0d0" stroke="none" stroke-width="0.5" opacity="1.0"/>
<ellipse cx="44.60" cy="506.80" rx="0.90" ry="0.90" fill="#fff" stroke="none" stroke-width="0.5" opacity="1.0"/>
<ellipse cx="51.50" cy="518.00" rx="3.50" ry="2.20" fill="none" stroke="#777" stroke-width="0.5" opacity="1.0" transform="rotate(-20 51.50 518.00)"/>
<path d="M123.8 519.1h0.6v0.6h-0.6zM113.1 520.5h0.6v0.6h-0.6zM121.8 500.6h0.6v0.6h-0.6zM118.0 498.3h0.6v0.6h-0.6zM120.9 513.7h0.6v0.6h-0.6zM124.9 512.1h0.6v0.6h-0.6zM113.5 494.4h0.6v0.6h-0.6zM129.8 514.8h0.6v0.6h-0.6zM132.9 516.7h0.6v0.6h-0.6zM116.9 517.3h0.6v0.6h-0.6zM125.1 508.7h0.6v0.6h-0.6zM117.9 507.0h0.6v0.6h-0.6zM121.3 514.1h0.6v0.6h-0.6zM122.6 519.7h0.6v0.6h-0.6zM118.1 510.8h0.6v0.6h-0.6zM124.5 500.1h0.6v0.6h-0.6zM116.1 515.1h0.6v0.6h-0.6zM124.6 505.7h0.6v0.6h-0.6zM124.0 501.6h0.6v0.6h-0.6zM123.2 502.2h0.6v0.6h-0.6zM122.9 514.9h0.6v0.6h-0.6zM120.3 513.8h0.6v0.6h-0.6zM116.8 504.7h0.6v0.6h-0.6zM115.2 506.2h0.6v0.6h-0.6zM122.4 505.4h0.6v0.6h-0.6zM120.7 517.7h0.6v0.6h-0.6zM129.1 497.3h0.6v0.6h-0.6zM127.9 493.2h0.6v0.6h-0.6zM118.3 505.6h0.6v0.6h-0.6zM122.6 498.6h0.6v0.6h-0.6zM118.4 507.6h0.6v0.6h-0.6zM118.5 501.9h0.6v0.6h-0.6zM125.3 514.5h0.6v0.6h-0.6zM121.7 507.1h0.6v0.6h-0.6zM121.9 503.4h0.6v0.6h-0.6zM119.4 498.7h0.6v0.6h-0.6zM125.2 506.3h0.6v0.6h-0.6zM121.3 508.6h0.6v0.6h-0.6zM124.7 518.4h0.6v0.6h-0.6zM120.6 503.8h0.6v0.6h-0.6zM123.0 500.2h0.6v0.6h-0.6zM128.4 514.4h0.6v0.6h-0.6zM125.5 506.0h0.6v0.6h-0.6zM125.7 515.4h0.6v0.6h-0.6zM124.5 504.8h0.6v0.6h-0.6z" fill="#999"/>
<path d="M119.4 468.4h0.6v0.6h-0.6zM120.3 470.1h0.6v0.6h-0.6zM145.0 467.2h0.6v0.6h-0.6zM140.5 475.8h0.6v0.6h-0.6zM128.8 469.9h0.6v0.6h-0.6zM136.2 475.6h0.6v0.6h-0.6zM151.4 474.7h0.6v0.6h-0.6zM146.3 470.6h0.6v0.6h-0.6zM124.1 466.8h0.6v0.6h-0.6zM121.6 470.9h0.6v0.6h-0.6zM133.7 468.1h0.6v0.6h-0.6zM139.3 471.7h0.6v0.6h-0.6zM126.2 469.7h0.6v0.6h-0.6zM150.2 472.5h0.6v0.6h-0.6zM123.9 469.1h0.6v0.6h-0.6zM148.5 470.3h0.6v0.6h-0.6zM142.7 476.3h0.6v0.6h-0.6zM111.1 476.1h0.6v0.6h-0.6zM130.1 468.7h0.6v0.6h-0.6zM127.1 473.7h0.6v0.6h-0.6z" fill="#999"/>
<ellipse cx="128.60" cy="473.00" rx="12.20" ry="4.80" fill="#e4e4e4" stroke="#999" stroke-width="0.45" opacity="1.0" transform="rotate(-4 128.60 473.00)"/>
<ellipse cx="129.40" cy="472.90" rx="10.40" ry="4.10" fill="#d2d2d2" stroke="#888" stroke-width="0.45" opacity="1.0" transform="rotate(-4 129.40 472.90)"/>
<ellipse cx="130.60" cy="472.70" rx="8.40" ry="3.50" fill="#a8a8a8" stroke="#666" stroke-width="0.45" opacity="1.0" transform="rotate(-4 130.60 472.70)"/>
<ellipse cx="131.80" cy="472.60" rx="6.00" ry="2.90" fill="#555" stroke="#444" stroke-width="0.4" opacity="1.0" transform="rotate(-4 131.80 472.60)"/>
<ellipse cx="132.40" cy="472.50" rx="3.60" ry="2.10" fill="#222" stroke="none" stroke-width="0.5" opacity="1.0" transform="rotate(-4 132.40 472.50)"/>
<ellipse cx="122.80" cy="473.20" rx="3.20" ry="2.20" fill="#f0f0f0" stroke="#777" stroke-width="0.45" opacity="1.0" transform="rotate(-4 122.80 473.20)"/>
<ellipse cx="122.80" cy="473.20" rx="1.80" ry="1.20" fill="#fff" stroke="#999" stroke-width="0.4" opacity="1.0" transform="rotate(-4 122.80 473.20)"/>
<ellipse cx="118.00" cy="502.30" rx="3.00" ry="3.00" fill="#f2f2f2" stroke="#777" stroke-width="0.5" opacity="1.0"/>
<path d="M197.2 512.1h0.6v0.6h-0.6zM204.2 502.2h0.6v0.6h-0.6zM205.4 512.0h0.6v0.6h-0.6zM205.5 512.2h0.6v0.6h-0.6zM208.1 502.5h0.6v0.6h-0.6zM212.4 519.6h0.6v0.6h-0.6zM195.8 515.3h0.6v0.6h-0.6zM203.1 496.0h0.6v0.6h-0.6zM204.2 505.3h0.6v0.6h-0.6zM198.2 505.2h0.6v0.6h-0.6zM197.0 510.6h0.6v0.6h-0.6zM200.7 497.5h0.6v0.6h-0.6zM198.1 499.2h0.6v0.6h-0.6zM191.1 507.2h0.6v0.6h-0.6zM206.0 515.0h0.6v0.6h-0.6zM195.8 504.3h0.6v0.6h-0.6zM194.2 511.1h0.6v0.6h-0.6zM206.6 510.1h0.6v0.6h-0.6zM204.8 512.5h0.6v0.6h-0.6zM210.5 493.9h0.6v0.6h-0.6zM185.1 508.4h0.6v0.6h-0.6zM204.5 506.7h0.6v0.6h-0.6zM203.0 500.6h0.6v0.6h-0.6zM191.2 504.3h0.6v0.6h-0.6zM205.9 515.6h0.6v0.6h-0.6zM195.0 511.4h0.6v0.6h-0.6zM195.5 510.2h0.6v0.6h-0.6zM192.2 509.6h0.6v0.6h-0.6zM194.8 509.6h0.6v0.6h-0.6zM195.4 503.4h0.6v0.6h-0.6zM200.8 507.3h0.6v0.6h-0.6zM200.2 506.6h0.6v0.6h-0.6zM204.3 503.5h0.6v0.6h-0.6zM205.4 520.7h0.6v0.6h-0.6zM198.1 524.0h0.6v0.6h-0.6zM214.2 513.5h0.6v0.6h-0.6zM190.5 497.1h0.6v0.6h-0.6zM198.8 524.2h0.6v0.6h-0.6zM204.0 516.1h0.6v0.6h-0.6zM198.2 504.0h0.6v0.6h-0.6zM202.6 501.1h0.6v0.6h-0.6zM198.6 514.1h0.6v0.6h-0.6zM200.3 514.2h0.6v0.6h-0.6zM196.9 514.8h0.6v0.6h-0.6zM202.8 496.8h0.6v0.6h-0.6zM192.7 504.2h0.6v0.6h-0.6zM204.6 512.4h0.6v0.6h-0.6zM202.0 511.4h0.6v0.6h-0.6zM204.5 517.6h0.6v0.6h-0.6zM196.1 497.3h0.6v0.6h-0.6zM204.7 508.3h0.6v0.6h-0.6zM200.3 508.6h0.6v0.6h-0.6zM192.2 497.9h0.6v0.6h-0.6zM206.7 518.7h0.6v0.6h-0.6zM206.5 511.7h0.6v0.6h-0.6zM201.9 506.6h0.6v0.6h-0.6zM200.5 506.8h0.6v0.6h-0.6zM196.2 511.6h0.6v0.6h-0.6zM211.9 494.9h0.6v0.6h-0.6zM204.2 515.4h0.6v0.6h-0.6z" fill="#999"/>
<path d="M222.9 485.8h0.6v0.6h-0.6zM211.7 485.3h0.6v0.6h-0.6zM204.2 472.9h0.6v0.6h-0.6zM232.1 484.4h0.6v0.6h-0.6zM187.2 476.7h0.6v0.6h-0.6zM204.6 483.7h0.6v0.6h-0.6zM227.9 483.5h0.6v0.6h-0.6zM206.8 484.3h0.6v0.6h-0.6zM209.3 482.9h0.6v0.6h-0.6zM204.0 476.0h0.6v0.6h-0.6zM227.4 480.4h0.6v0.6h-0.6zM213.4 479.0h0.6v0.6h-0.6zM205.5 480.2h0.6v0.6h-0.6zM219.9 488.1h0.6v0.6h-0.6zM218.5 479.2h0.6v0.6h-0.6zM245.6 486.2h0.6v0.6h-0.6zM223.3 479.3h0.6v0.6h-0.6zM209.1 485.0h0.6v0.6h-0.6zM191.1 478.1h0.6v0.6h-0.6zM216.8 494.1h0.6v0.6h-0.6zM217.1 476.8h0.6v0.6h-0.6zM197.4 486.9h0.6v0.6h-0.6zM202.3 480.3h0.6v0.6h-0.6zM235.6 482.3h0.6v0.6h-0.6zM207.7 478.1h0.6v0.6h-0.6zM227.9 488.6h0.6v0.6h-0.6zM203.9 474.9h0.6v0.6h-0.6zM210.5 488.9h0.6v0.6h-0.6zM217.5 475.9h0.6v0.6h-0.6zM216.0 485.8h0.6v0.6h-0.6z" fill="#999"/>
<ellipse cx="210.40" cy="478.20" rx="15.60" ry="5.60" fill="#dcdcdc" stroke="#aaa" stroke-width="0.4" opacity="1.0" transform="rotate(-10 210.40 478.20)"/>
<ellipse cx="210.00" cy="478.30" rx="13.80" ry="4.70" fill="#b4b4b4" stroke="#888" stroke-width="0.4" opacity="1.0" transform="rotate(-10 210.00 478.30)"/>
<ellipse cx="209.60" cy="478.40" rx="12.00" ry="3.80" fill="#6e6e6e" stroke="#444" stroke-width="0.4" opacity="1.0" transform="rotate(-10 209.60 478.40)"/>
<ellipse cx="203.80" cy="479.30" rx="3.40" ry="2.20" fill="#303030" stroke="none" stroke-width="0.5" opacity="1.0" transform="rotate(-10 203.80 479.30)"/>
<ellipse cx="215.00" cy="477.40" rx="3.40" ry="2.00" fill="#303030" stroke="none" stroke-width="0.5" opacity="1.0" transform="rotate(-10 215.00 477.40)"/>
<ellipse cx="203.80" cy="479.30" rx="2.20" ry="1.20" fill="#e0e0e0" stroke="none" stroke-width="0.5" opacity="1.0" transform="rotate(-10 203.80 479.30)"/>
<ellipse cx="215.00" cy="477.40" rx="2.20" ry="1.00" fill="#e0e0e0" stroke="none" stroke-width="0.5" opacity="1.0" transform="rotate(-10 215.00 477.40)"/>
<ellipse cx="197.30" cy="506.60" rx="5.00" ry="6.50" fill="#f0f0f0" stroke="#666" stroke-width="0.6" opacity="1.0"/>
<ellipse cx="197.30" cy="506.60" rx="3.60" ry="5.00" fill="#fff" stroke="#888" stroke-width="0.5" opacity="1.0"/>
<ellipse cx="204.20" cy="514.30" rx="3.20" ry="3.00" fill="#f0f0f0" stroke="#777" stroke-width="0.5" opacity="1.0"/>
<ellipse cx="204.20" cy="514.30" rx="1.80" ry="1.60" fill="#fff" stroke="#999" stroke-width="0.4" opacity="1.0"/>
<path d="M270.6 512.4h0.6v0.6h-0.6zM278.0 514.5h0.6v0.6h-0.6zM270.0 520.0h0.6v0.6h-0.6zM278.6 499.5h0.6v0.6h-0.6zM269.9 498.2h0.6v0.6h-0.6zM273.7 520.7h0.6v0.6h-0.6zM283.4 505.1h0.6v0.6h-0.6zM274.7 527.4h0.6v0.6h-0.6zM283.4 502.8h0.6v0.6h-0.6zM277.1 506.1h0.6v0.6h-0.6zM278.9 517.9h0.6v0.6h-0.6zM276.4 513.3h0.6v0.6h-0.6zM281.4 517.1h0.6v0.6h-0.6zM274.2 508.0h0.6v0.6h-0.6zM289.8 508.3h0.6v0.6h-0.6zM278.2 514.0h0.6v0.6h-0.6zM274.5 506.5h0.6v0.6h-0.6zM288.1 521.7h0.6v0.6h-0.6zM271.4 510.6h0.6v0.6h-0.6zM270.3 496.2h0.6v0.6h-0.6zM278.0 523.7h0.6v0.6h-0.6zM277.5 523.2h0.6v0.6h-0.6zM271.7 511.2h0.6v0.6h-0.6zM278.5 510.8h0.6v0.6h-0.6zM284.0 515.2h0.6v0.6h-0.6zM274.7 497.8h0.6v0.6h-0.6zM274.7 509.8h0.6v0.6h-0.6zM274.7 496.3h0.6v0.6h-0.6zM267.4 517.3h0.6v0.6h-0.6zM279.5 504.7h0.6v0.6h-0.6z" fill="#aaa"/>
<ellipse cx="283.80" cy="477.70" rx="10.80" ry="5.20" fill="#d8d8d8" stroke="#aaa" stroke-width="0.4" opacity="1.0" transform="rotate(-5 283.80 477.70)"/>
<ellipse cx="284.30" cy="477.60" rx="9.00" ry="4.30" fill="#a8a8a8" stroke="#777" stroke-width="0.4" opacity="1.0" transform="rotate(-5 284.30 477.60)"/>
<ellipse cx="285.00" cy="477.50" rx="6.80" ry="3.30" fill="#4a4a4a" stroke="#333" stroke-width="0.4" opacity="1.0" transform="rotate(-5 285.00 477.50)"/>
<ellipse cx="285.40" cy="477.50" rx="4.60" ry="2.20" fill="#9a9a9a" stroke="none" stroke-width="0.5" opacity="1.0" transform="rotate(-5 285.40 477.50)"/>
<ellipse cx="285.60" cy="477.50" rx="2.40" ry="1.20" fill="#5a5a5a" stroke="none" stroke-width="0.5" opacity="1.0" transform="rotate(-5 285.60 477.50)"/>
<ellipse cx="285.60" cy="477.50" rx="0.80" ry="0.60" fill="#ddd" stroke="none" stroke-width="0.5" opacity="1.0" transform="rotate(-5 285.60 477.50)"/>
<ellipse cx="276.50" cy="508.00" rx="6.00" ry="9.50" fill="#e0e0e0" stroke="#aaa" stroke-width="0.5" opacity="1.0"/>
<ellipse cx="276.30" cy="507.60" rx="4.80" ry="7.80" fill="#d0d0d0" stroke="#999" stroke-width="0.5" opacity="1.0"/>
<ellipse cx="276.20" cy="507.00" rx="3.60" ry="6.00" fill="#c8c8c8" stroke="#888" stroke-width="0.5" opacity="1.0"/>
<ellipse cx="276.10" cy="506.50" rx="2.40" ry="3.80" fill="#e0e0e0" stroke="#888" stroke-width="0.5" opacity="1.0"/>
<ellipse cx="276.10" cy="506.00" rx="1.20" ry="1.40" fill="#fff" stroke="#777" stroke-width="0.4" opacity="1.0"/>
<path d="M344.7 241.9h0.6v0.6h-0.6zM353.1 240.6h0.6v0.6h-0.6zM352.2 242.5h0.6v0.6h-0.6zM358.2 228.1h0.6v0.6h-0.6zM366.3 224.6h0.6v0.6h-0.6zM359.4 230.0h0.6v0.6h-0.6zM362.1 233.3h0.6v0.6h-0.6zM342.2 246.8h0.6v0.6h-0.6zM341.5 241.3h0.6v0.6h-0.6zM367.5 223.3h0.6v0.6h-0.6zM356.6 236.4h0.6v0.6h-0.6zM357.8 234.1h0.6v0.6h-0.6zM349.6 239.3h0.6v0.6h-0.6zM365.0 233.8h0.6v0.6h-0.6zM358.1 235.2h0.6v0.6h-0.6zM339.7 246.9h0.6v0.6h-0.6zM351.4 230.7h0.6v0.6h-0.6zM340.5 248.5h0.6v0.6h-0.6zM342.0 246.2h0.6v0.6h-0.6zM353.1 233.0h0.6v0.6h-0.6zM369.3 227.3h0.6v0.6h-0.6zM332.8 234.6h0.6v0.6h-0.6zM351.0 232.7h0.6v0.6h-0.6zM357.3 233.0h0.6v0.6h-0.6zM354.1 234.6h0.6v0.6h-0.6zM359.1 233.5h0.6v0.6h-0.6zM363.3 234.9h0.6v0.6h-0.6zM367.9 229.5h0.6v0.6h-0.6zM342.7 250.0h0.6v0.6h-0.6zM351.1 241.1h0.6v0.6h-0.6zM360.0 232.5h0.6v0.6h-0.6zM336.5 249.0h0.6v0.6h-0.6zM350.2 244.4h0.6v0.6h-0.6zM347.4 238.2h0.6v0.6h-0.6zM349.1 238.8h0.6v0.6h-0.6zM366.7 228.5h0.6v0.6h-0.6zM338.2 247.0h0.6v0.6h-0.6zM348.4 242.0h0.6v0.6h-0.6zM335.8 248.1h0.6v0.6h-0.6zM349.1 240.7h0.6v0.6h-0.6zM346.3 243.3h0.6v0.6h-0.6zM353.9 237.6h0.6v0.6h-0.6zM358.9 223.6h0.6v0.6h-0.6zM351.0 247.1h0.6v0.6h-0.6zM348.2 244.3h0.6v0.6h-0.6zM365.9 224.2h0.6v0.6h-0.6zM341.9 247.4h0.6v0.6h-0.6zM351.7 241.1h0.6v0.6h-0.6zM338.9 243.8h0.6v0.6h-0.6zM366.8 232.5h0.6v0.6h-0.6zM350.9 242.1h0.6v0.6h-0.6zM355.0 233.2h0.6v0.6h-0.6zM361.3 230.6h0.6v0.6h-0.6zM368.5 225.4h0.6v0.6h-0.6zM348.5 234.5h0.6v0.6h-0.6zM339.7 249.8h0.6v0.6h-0.6zM355.4 233.2h0.6v0.6h-0.6zM363.5 229.1h0.6v0.6h-0.6zM364.4 234.8h0.6v0.6h-0.6zM360.0 226.7h0.6v0.6h-0.6zM343.3 250.1h0.6v0.6h-0.6zM342.3 245.4h0.6v0.6h-0.6zM336.7 238.9h0.6v0.6h-0.6zM338.4 252.2h0.6v0.6h-0.6zM347.5 236.3h0.6v0.6h-0.6zM364.9 229.0h0.6v0.6h-0.6zM354.1 235.8h0.6v0.6h-0.6zM335.2 252.0h0.6v0.6h-0.6zM343.9 241.3h0.6v0.6h-0.6zM340.3 250.6h0.6v0.6h-0.6zM351.3 238.5h0.6v0.6h-0.6zM352.6 241.1h0.6v0.6h-0.6zM339.4 243.6h0.6v0.6h-0.6zM367.0 223.2h0.6v0.6h-0.6zM365.4 222.1h0.6v0.6h-0.6zM355.1 228.7h0.6v0.6h-0.6zM366.0 230.6h0.6v0.6h-0.6zM342.8 240.7h0.6v0.6h-0.6zM347.4 245.9h0.6v0.6h-0.6zM342.1 242.5h0.6v0.6h-0.6zM357.8 230.4h0.6v0.6h-0.6zM343.1 249.2h0.6v0.6h-0.6zM343.5 242.1h0.6v0.6h-0.6zM341.0 243.7h0.6v0.6h-0.6zM348.9 240.5h0.6v0.6h-0.6zM358.4 229.8h0.6v0.6h-0.6zM336.9 249.3h0.6v0.6h-0.6zM342.8 247.7h0.6v0.6h-0.6zM338.3 244.6h0.6v0.6h-0.6zM358.2 234.0h0.6v0.6h-0.6zM366.2 227.2h0.6v0.6h-0.6zM346.8 242.4h0.6v0.6h-0.6zM350.5 240.2h0.6v0.6h-0.6zM336.8 248.0h0.6v0.6h-0.6zM340.5 251.6h0.6v0.6h-0.6zM338.4 249.4h0.6v0.6h-0.6zM363.1 233.4h0.6v0.6h-0.6zM364.2 230.2h0.6v0.6h-0.6zM364.3 225.3h0.6v0.6h-0.6zM336.1 246.2h0.6v0.6h-0.6zM340.7 247.6h0.6v0.6h-0.6zM341.4 245.9h0.6v0.6h-0.6zM362.2 228.4h0.6v0.6h-0.6zM356.3 235.7h0.6v0.6h-0.6zM332.8 247.6h0.6v0.6h-0.6zM348.9 235.2h0.6v0.6h-0.6zM350.5 237.5h0.6v0.6h-0.6zM343.1 233.4h0.6v0.6h-0.6z" fill="#9090c8"/>
<path d="M343.0 240.4h0.6v0.6h-0.6zM342.5 249.4h0.6v0.6h-0.6zM371.1 228.0h0.6v0.6h-0.6zM338.5 255.8h0.6v0.6h-0.6zM356.4 229.5h0.6v0.6h-0.6zM365.5 230.6h0.6v0.6h-0.6zM347.1 248.8h0.6v0.6h-0.6zM338.1 244.6h0.6v0.6h-0.6zM363.7 227.1h0.6v0.6h-0.6zM339.2 247.8h0.6v0.6h-0.6zM372.7 235.1h0.6v0.6h-0.6zM350.1 242.0h0.6v0.6h-0.6zM346.7 242.1h0.6v0.6h-0.6zM352.2 234.3h0.6v0.6h-0.6zM357.0 234.3h0.6v0.6h-0.6zM359.6 234.5h0.6v0.6h-0.6zM358.1 238.4h0.6v0.6h-0.6zM358.0 225.9h0.6v0.6h-0.6zM357.9 231.2h0.6v0.6h-0.6zM364.6 226.4h0.6v0.6h-0.6zM348.4 228.1h0.6v0.6h-0.6zM355.7 230.9h0.6v0.6h-0.6zM364.7 228.9h0.6v0.6h-0.6zM356.3 234.7h0.6v0.6h-0.6zM339.1 246.8h0.6v0.6h-0.6zM336.7 249.8h0.6v0.6h-0.6zM358.1 239.4h0.6v0.6h-0.6zM355.9 238.4h0.6v0.6h-0.6zM347.1 241.7h0.6v0.6h-0.6zM343.7 238.6h0.6v0.6h-0.6zM339.2 247.3h0.6v0.6h-0.6zM354.1 238.3h0.6v0.6h-0.6zM359.5 231.0h0.6v0.6h-0.6zM361.4 228.5h0.6v0.6h-0.6zM339.1 245.2h0.6v0.6h-0.6zM351.3 240.9h0.6v0.6h-0.6zM363.1 229.7h0.6v0.6h-0.6zM340.7 247.2h0.6v0.6h-0.6zM357.4 232.2h0.6v0.6h-0.6zM344.1 244.3h0.6v0.6h-0.6zM367.1 227.2h0.6v0.6h-0.6zM338.8 248.0h0.6v0.6h-0.6zM349.9 238.1h0.6v0.6h-0.6zM330.7 251.6h0.6v0.6h-0.6zM340.4 244.7h0.6v0.6h-0.6zM349.4 244.9h0.6v0.6h-0.6zM375.3 230.1h0.6v0.6h-0.6zM356.5 229.2h0.6v0.6h-0.6zM357.7 242.8h0.6v0.6h-0.6zM354.5 224.8h0.6v0.6h-0.6zM360.0 231.4h0.6v0.6h-0.6zM361.7 226.2h0.6v0.6h-0.6zM333.5 251.5h0.6v0.6h-0.6zM362.1 227.9h0.6v0.6h-0.6zM359.6 229.7h0.6v0.6h-0.6zM351.9 228.7h0.6v0.6h-0.6zM344.6 245.2h0.6v0.6h-0.6zM359.3 229.3h0.6v0.6h-0.6zM354.4 228.8h0.6v0.6h-0.6zM339.9 244.8h0.6v0.6h-0.6zM347.6 243.3h0.6v0.6h-0.6zM361.5 232.2h0.6v0.6h-0.6zM345.1 241.6h0.6v0.6h-0.6zM361.7 220.3h0.6v0.6h-0.6zM360.2 233.3h0.6v0.6h-0.6zM335.3 248.9h0.6v0.6h-0.6zM370.6 225.2h0.6v0.6h-0.6zM336.1 249.5h0.6v0.6h-0.6zM364.6 227.0h0.6v0.6h-0.6zM363.8 230.4h0.6v0.6h-0.6zM349.8 243.4h0.6v0.6h-0.6zM351.6 240.8h0.6v0.6h-0.6zM354.3 236.6h0.6v0.6h-0.6zM336.2 250.4h0.6v0.6h-0.6zM348.0 239.9h0.6v0.6h-0.6zM355.1 236.8h0.6v0.6h-0.6zM364.3 234.8h0.6v0.6h-0.6zM336.1 248.7h0.6v0.6h-0.6zM361.0 233.7h0.6v0.6h-0.6zM352.5 234.4h0.6v0.6h-0.6zM351.6 244.7h0.6v0.6h-0.6zM350.3 240.8h0.6v0.6h-0.6zM363.9 230.8h0.6v0.6h-0.6zM346.0 238.6h0.6v0.6h-0.6zM353.0 235.4h0.6v0.6h-0.6zM365.5 233.2h0.6v0.6h-0.6zM364.8 230.9h0.6v0.6h-0.6zM363.8 226.8h0.6v0.6h-0.6zM351.3 235.3h0.6v0.6h-0.6zM365.3 229.4h0.6v0.6h-0.6zM334.8 244.6h0.6v0.6h-0.6zM357.4 233.8h0.6v0.6h-0.6zM346.5 244.3h0.6v0.6h-0.6zM355.1 236.2h0.6v0.6h-0.6zM337.4 244.7h0.6v0.6h-0.6zM342.2 245.2h0.6v0.6h-0.6zM362.0 227.4h0.6v0.6h-0.6zM364.8 230.3h0.6v0.6h-0.6zM350.5 237.8h0.6v0.6h-0.6zM333.1 255.8h0.6v0.6h-0.6zM365.4 226.1h0.6v0.6h-0.6zM355.5 235.9h0.6v0.6h-0.6zM362.6 229.9h0.6v0.6h-0.6zM336.5 247.0h0.6v0.6h-0.6zM337.8 250.3h0.6v0.6h-0.6zM345.2 241.8h0.6v0.6h-0.6zM345.2 243.3h0.6v0.6h-0.6zM352.9 232.2h0.6v0.6h-0.6zM332.1 249.6h0.6v0.6h-0.6zM335.0 250.8h0.6v0.6h-0.6zM334.6 247.7h0.6v0.6h-0.6zM356.4 230.5h0.6v0.6h-0.6zM354.1 236.0h0.6v0.6h-0.6zM345.4 240.6h0.6v0.6h-0.6zM352.0 234.5h0.6v0.6h-0.6zM345.0 241.5h0.6v0.6h-0.6zM345.0 240.0h0.6v0.6h-0.6zM346.6 250.7h0.6v0.6h-0.6zM347.4 247.6h0.6v0.6h-0.6zM370.0 230.5h0.6v0.6h-0.6zM347.2 233.6h0.6v0.6h-0.6zM354.9 234.0h0.6v0.6h-0.6zM347.9 243.2h0.6v0.6h-0.6zM350.0 236.0h0.6v0.6h-0.6zM357.3 235.0h0.6v0.6h-0.6zM362.8 233.8h0.6v0.6h-0.6zM351.9 239.6h0.6v0.6h-0.6zM357.6 227.5h0.6v0.6h-0.6zM366.3 225.9h0.6v0.6h-0.6zM338.9 249.3h0.6v0.6h-0.6zM339.4 256.3h0.6v0.6h-0.6zM363.9 230.9h0.6v0.6h-0.6zM343.0 246.8h0.6v0.6h-0.6zM331.2 250.4h0.6v0.6h-0.6zM357.7 233.5h0.6v0.6h-0.6zM334.5 250.9h0.6v0.6h-0.6zM360.9 223.0h0.6v0.6h-0.6zM358.2 236.5h0.6v0.6h-0.6zM340.9 246.1h0.6v0.6h-0.6zM364.7 227.9h0.6v0.6h-0.6zM336.8 248.9h0.6v0.6h-0.6zM364.0 227.9h0.6v0.6h-0.6zM336.5 247.7h0.6v0.6h-0.6zM346.3 241.5h0.6v0.6h-0.6zM346.8 243.3h0.6v0.6h-0.6zM354.8 245.3h0.6v0.6h-0.6z" fill="#b8b8e0"/>
<path d="M340.4 246.7h0.6v0.6h-0.6zM352.3 231.1h0.6v0.6h-0.6zM344.9 243.2h0.6v0.6h-0.6zM367.4 221.5h0.6v0.6h-0.6zM354.7 241.5h0.6v0.6h-0.6zM367.4 231.8h0.6v0.6h-0.6zM345.1 241.0h0.6v0.6h-0.6zM336.1 250.9h0.6v0.6h-0.6zM362.0 228.5h0.6v0.6h-0.6zM335.4 247.9h0.6v0.6h-0.6zM342.8 247.7h0.6v0.6h-0.6zM359.2 231.7h0.6v0.6h-0.6zM336.5 250.0h0.6v0.6h-0.6zM351.8 234.4h0.6v0.6h-0.6zM360.0 234.2h0.6v0.6h-0.6zM330.9 245.2h0.6v0.6h-0.6zM352.2 235.6h0.6v0.6h-0.6zM348.4 237.7h0.6v0.6h-0.6zM357.1 232.1h0.6v0.6h-0.6zM342.5 247.0h0.6v0.6h-0.6zM339.2 244.0h0.6v0.6h-0.6zM354.6 246.9h0.6v0.6h-0.6zM339.1 245.6h0.6v0.6h-0.6zM347.6 236.7h0.6v0.6h-0.6zM343.0 246.6h0.6v0.6h-0.6zM368.8 229.3h0.6v0.6h-0.6zM350.9 238.3h0.6v0.6h-0.6zM362.4 229.1h0.6v0.6h-0.6zM352.9 235.4h0.6v0.6h-0.6zM355.2 236.0h0.6v0.6h-0.6zM331.9 251.3h0.6v0.6h-0.6zM340.4 249.5h0.6v0.6h-0.6zM363.0 227.4h0.6v0.6h-0.6zM354.2 231.8h0.6v0.6h-0.6zM337.0 254.0h0.6v0.6h-0.6zM353.9 232.8h0.6v0.6h-0.6zM361.9 228.9h0.6v0.6h-0.6zM339.4 249.4h0.6v0.6h-0.6zM366.8 227.1h0.6v0.6h-0.6zM342.1 245.2h0.6v0.6h-0.6zM354.9 241.5h0.6v0.6h-0.6zM339.5 243.5h0.6v0.6h-0.6zM355.2 235.3h0.6v0.6h-0.6zM338.7 248.2h0.6v0.6h-0.6zM359.4 245.6h0.6v0.6h-0.6zM339.2 252.8h0.6v0.6h-0.6zM333.6 254.8h0.6v0.6h-0.6zM358.0 234.5h0.6v0.6h-0.6zM349.6 234.6h0.6v0.6h-0.6zM369.7 227.9h0.6v0.6h-0.6zM362.8 239.0h0.6v0.6h-0.6zM336.0 248.9h0.6v0.6h-0.6zM360.1 238.4h0.6v0.6h-0.6zM359.8 231.4h0.6v0.6h-0.6zM345.7 244.1h0.6v0.6h-0.6zM363.1 232.7h0.6v0.6h-0.6zM358.5 229.5h0.6v0.6h-0.6zM351.2 232.9h0.6v0.6h-0.6zM359.8 235.1h0.6v0.6h-0.6zM343.8 244.5h0.6v0.6h-0.6zM345.2 244.1h0.6v0.6h-0.6zM353.1 236.7h0.6v0.6h-0.6zM362.1 233.9h0.6v0.6h-0.6zM342.5 247.1h0.6v0.6h-0.6zM364.8 234.3h0.6v0.6h-0.6zM340.8 241.6h0.6v0.6h-0.6zM353.9 233.3h0.6v0.6h-0.6zM349.7 233.8h0.6v0.6h-0.6zM349.5 240.6h0.6v0.6h-0.6zM336.0 242.2h0.6v0.6h-0.6zM337.9 251.3h0.6v0.6h-0.6zM345.9 243.9h0.6v0.6h-0.6zM339.7 250.8h0.6v0.6h-0.6zM365.4 225.1h0.6v0.6h-0.6zM344.2 242.0h0.6v0.6h-0.6zM355.0 228.7h0.6v0.6h-0.6zM357.1 241.3h0.6v0.6h-0.6zM341.4 246.7h0.6v0.6h-0.6zM350.2 232.8h0.6v0.6h-0.6zM338.0 247.7h0.6v0.6h-0.6zM337.5 244.4h0.6v0.6h-0.6zM361.7 241.8h0.6v0.6h-0.6zM365.7 229.6h0.6v0.6h-0.6zM358.9 233.2h0.6v0.6h-0.6zM349.4 241.9h0.6v0.6h-0.6zM360.7 223.3h0.6v0.6h-0.6zM353.7 241.4h0.6v0.6h-0.6zM362.0 235.0h0.6v0.6h-0.6zM356.3 231.8h0.6v0.6h-0.6zM358.9 235.2h0.6v0.6h-0.6zM358.3 231.6h0.6v0.6h-0.6zM352.3 244.2h0.6v0.6h-0.6zM349.8 235.9h0.6v0.6h-0.6zM343.3 250.4h0.6v0.6h-0.6zM351.6 238.0h0.6v0.6h-0.6zM330.8 244.8h0.6v0.6h-0.6zM338.8 240.3h0.6v0.6h-0.6zM359.1 233.3h0.6v0.6h-0.6zM340.9 244.4h0.6v0.6h-0.6zM360.7 227.1h0.6v0.6h-0.6zM350.3 236.0h0.6v0.6h-0.6zM341.3 250.6h0.6v0.6h-0.6zM333.6 250.0h0.6v0.6h-0.6zM331.5 256.8h0.6v0.6h-0.6zM355.7 236.2h0.6v0.6h-0.6zM356.0 236.5h0.6v0.6h-0.6zM353.7 238.8h0.6v0.6h-0.6zM333.0 250.0h0.6v0.6h-0.6zM347.4 235.8h0.6v0.6h-0.6zM356.5 233.7h0.6v0.6h-0.6zM357.6 228.1h0.6v0.6h-0.6zM358.1 229.1h0.6v0.6h-0.6zM342.7 247.4h0.6v0.6h-0.6zM345.2 241.3h0.6v0.6h-0.6zM341.6 248.4h0.6v0.6h-0.6zM349.3 243.4h0.6v0.6h-0.6zM346.1 244.0h0.6v0.6h-0.6zM342.8 246.4h0.6v0.6h-0.6zM339.6 251.3h0.6v0.6h-0.6zM356.0 233.8h0.6v0.6h-0.6zM365.3 227.0h0.6v0.6h-0.6zM359.6 231.8h0.6v0.6h-0.6zM343.9 243.9h0.6v0.6h-0.6zM352.3 234.9h0.6v0.6h-0.6zM347.5 241.0h0.6v0.6h-0.6zM357.9 230.9h0.6v0.6h-0.6zM355.8 231.9h0.6v0.6h-0.6zM347.6 248.2h0.6v0.6h-0.6z" fill="#a0a0d4"/>
<path d="M344.3 237.7h0.6v0.6h-0.6zM354.7 234.5h0.6v0.6h-0.6zM334.8 246.0h0.6v0.6h-0.6zM351.4 245.7h0.6v0.6h-0.6zM365.2 225.9h0.6v0.6h-0.6zM356.2 240.1h0.6v0.6h-0.6zM327.7 255.4h0.6v0.6h-0.6zM339.2 244.2h0.6v0.6h-0.6zM343.2 249.1h0.6v0.6h-0.6zM346.0 242.1h0.6v0.6h-0.6zM338.5 246.3h0.6v0.6h-0.6zM344.2 243.5h0.6v0.6h-0.6zM355.2 235.0h0.6v0.6h-0.6zM340.5 244.1h0.6v0.6h-0.6zM339.1 247.0h0.6v0.6h-0.6zM363.5 233.7h0.6v0.6h-0.6zM359.7 239.7h0.6v0.6h-0.6zM351.9 237.4h0.6v0.6h-0.6zM363.4 233.2h0.6v0.6h-0.6zM345.7 244.6h0.6v0.6h-0.6zM343.0 239.6h0.6v0.6h-0.6zM339.3 249.1h0.6v0.6h-0.6zM362.9 226.9h0.6v0.6h-0.6zM350.5 241.4h0.6v0.6h-0.6zM348.8 239.1h0.6v0.6h-0.6zM360.0 235.3h0.6v0.6h-0.6zM347.3 244.8h0.6v0.6h-0.6zM356.2 232.1h0.6v0.6h-0.6zM351.1 240.5h0.6v0.6h-0.6zM345.5 242.0h0.6v0.6h-0.6zM338.6 244.5h0.6v0.6h-0.6zM350.4 246.3h0.6v0.6h-0.6zM344.1 239.0h0.6v0.6h-0.6zM367.8 225.8h0.6v0.6h-0.6zM345.3 242.2h0.6v0.6h-0.6zM360.8 225.5h0.6v0.6h-0.6zM343.0 248.7h0.6v0.6h-0.6zM365.7 231.5h0.6v0.6h-0.6zM365.6 223.5h0.6v0.6h-0.6zM357.8 239.1h0.6v0.6h-0.6zM367.2 224.5h0.6v0.6h-0.6zM358.7 235.8h0.6v0.6h-0.6zM371.6 233.3h0.6v0.6h-0.6zM360.1 223.0h0.6v0.6h-0.6zM352.4 235.9h0.6v0.6h-0.6zM332.5 247.6h0.6v0.6h-0.6zM355.1 236.8h0.6v0.6h-0.6zM360.5 232.2h0.6v0.6h-0.6zM358.0 227.5h0.6v0.6h-0.6zM363.7 226.5h0.6v0.6h-0.6zM366.6 230.7h0.6v0.6h-0.6zM342.0 248.5h0.6v0.6h-0.6zM358.0 231.1h0.6v0.6h-0.6zM347.2 246.9h0.6v0.6h-0.6zM340.9 253.4h0.6v0.6h-0.6zM357.4 240.2h0.6v0.6h-0.6zM332.5 250.1h0.6v0.6h-0.6zM339.6 247.2h0.6v0.6h-0.6zM341.8 245.5h0.6v0.6h-0.6zM362.1 235.7h0.6v0.6h-0.6zM352.7 239.1h0.6v0.6h-0.6zM349.7 243.2h0.6v0.6h-0.6zM335.8 250.1h0.6v0.6h-0.6zM346.5 239.3h0.6v0.6h-0.6zM344.0 240.7h0.6v0.6h-0.6zM344.0 248.6h0.6v0.6h-0.6zM362.5 229.9h0.6v0.6h-0.6zM350.5 242.5h0.6v0.6h-0.6zM351.2 239.7h0.6v0.6h-0.6zM347.5 246.2h0.6v0.6h-0.6zM332.5 256.0h0.6v0.6h-0.6zM361.7 234.0h0.6v0.6h-0.6zM345.6 243.9h0.6v0.6h-0.6zM350.5 239.8h0.6v0.6h-0.6zM359.4 224.0h0.6v0.6h-0.6zM334.0 251.8h0.6v0.6h-0.6zM367.4 229.3h0.6v0.6h-0.6zM351.7 242.4h0.6v0.6h-0.6zM334.6 250.6h0.6v0.6h-0.6zM347.1 240.0h0.6v0.6h-0.6zM366.0 229.3h0.6v0.6h-0.6zM338.9 244.3h0.6v0.6h-0.6zM337.8 246.8h0.6v0.6h-0.6zM340.1 247.9h0.6v0.6h-0.6zM353.2 226.3h0.6v0.6h-0.6zM366.6 220.9h0.6v0.6h-0.6zM347.1 246.0h0.6v0.6h-0.6zM346.7 248.0h0.6v0.6h-0.6zM343.2 248.6h0.6v0.6h-0.6zM357.6 230.5h0.6v0.6h-0.6zM337.6 242.6h0.6v0.6h-0.6zM355.3 238.9h0.6v0.6h-0.6zM342.4 244.0h0.6v0.6h-0.6zM330.3 249.0h0.6v0.6h-0.6zM366.6 228.4h0.6v0.6h-0.6zM367.1 228.0h0.6v0.6h-0.6zM342.7 240.7h0.6v0.6h-0.6zM335.6 247.3h0.6v0.6h-0.6zM339.5 246.8h0.6v0.6h-0.6zM332.0 248.5h0.6v0.6h-0.6zM352.6 229.4h0.6v0.6h-0.6zM357.0 239.8h0.6v0.6h-0.6zM360.8 225.7h0.6v0.6h-0.6zM365.9 224.5h0.6v0.6h-0.6zM362.8 229.9h0.6v0.6h-0.6zM347.1 246.8h0.6v0.6h-0.6zM357.1 231.2h0.6v0.6h-0.6zM352.8 234.4h0.6v0.6h-0.6zM374.1 227.0h0.6v0.6h-0.6zM358.9 237.7h0.6v0.6h-0.6zM360.0 232.2h0.6v0.6h-0.6zM350.9 239.2h0.6v0.6h-0.6zM352.8 239.5h0.6v0.6h-0.6zM355.0 228.5h0.6v0.6h-0.6zM345.2 241.4h0.6v0.6h-0.6zM357.2 237.3h0.6v0.6h-0.6zM346.7 245.7h0.6v0.6h-0.6zM350.2 242.4h0.6v0.6h-0.6z" fill="#c8c8ea"/>
<ellipse cx="349.50" cy="239.00" rx="21.50" ry="8.80" fill="rgb(230,230,255)" stroke="#8080c0" stroke-width="0.35" opacity="0.9" transform="rotate(-37 349.50 239.00)"/>
<ellipse cx="348.50" cy="239.80" rx="19.50" ry="8.00" fill="rgb(219,219,247)" stroke="#8080c0" stroke-width="0.35" opacity="0.9" transform="rotate(-37 348.50 239.80)"/>
<ellipse cx="347.50" cy="240.60" rx="17.50" ry="7.40" fill="rgb(208,208,236)" stroke="#8080c0" stroke-width="0.35" opacity="0.9" transform="rotate(-37 347.50 240.60)"/>
<ellipse cx="346.50" cy="241.40" rx="15.50" ry="6.80" fill="rgb(197,197,225)" stroke="#8080c0" stroke-width="0.35" opacity="0.9" transform="rotate(-37 346.50 241.40)"/>
<ellipse cx="345.50" cy="242.20" rx="13.50" ry="6.20" fill="rgb(186,186,214)" stroke="#8080c0" stroke-width="0.35" opacity="0.9" transform="rotate(-37 345.50 242.20)"/>
<ellipse cx="344.60" cy="242.90" rx="11.50" ry="5.60" fill="rgb(175,175,203)" stroke="#8080c0" stroke-width="0.35" opacity="0.9" transform="rotate(-37 344.60 242.90)"/>
<ellipse cx="343.80" cy="243.50" rx="9.50" ry="4.90" fill="rgb(164,164,192)" stroke="#8080c0" stroke-width="0.35" opacity="0.9" transform="rotate(-37 343.80 243.50)"/>
<ellipse cx="343.00" cy="244.00" rx="7.50" ry="4.10" fill="rgb(153,153,181)" stroke="#8080c0" stroke-width="0.35" opacity="0.9" transform="rotate(-37 343.00 244.00)"/>
<ellipse cx="342.30" cy="244.40" rx="5.50" ry="3.30" fill="rgb(142,142,170)" stroke="#8080c0" stroke-width="0.35" opacity="0.9" transform="rotate(-37 342.30 244.40)"/>
<ellipse cx="341.80" cy="244.60" rx="3.00" ry="2.00" fill="#f4f4fb" stroke="#7878b8" stroke-width="0.35" opacity="1.0" transform="rotate(-37 341.80 244.60)"/>
<path d="M342.6,242.4 Q344.6,239.6 347.8,238.6" fill="none" stroke="#f8f8ff" stroke-width="1.1"/>
<path d="M332.6 270.3h0.7v0.7h-0.7zM329.9 275.6h0.7v0.7h-0.7zM331.0 248.3h0.7v0.7h-0.7zM319.2 264.5h0.7v0.7h-0.7zM315.7 250.4h0.7v0.7h-0.7zM320.4 259.7h0.7v0.7h-0.7zM335.5 262.7h0.7v0.7h-0.7zM311.5 250.0h0.7v0.7h-0.7zM330.4 271.5h0.7v0.7h-0.7zM318.0 266.0h0.7v0.7h-0.7zM328.7 268.7h0.7v0.7h-0.7zM330.5 268.8h0.7v0.7h-0.7zM331.2 271.2h0.7v0.7h-0.7zM319.5 243.8h0.7v0.7h-0.7zM334.3 267.6h0.7v0.7h-0.7zM329.0 256.6h0.7v0.7h-0.7zM321.1 265.5h0.7v0.7h-0.7zM321.4 241.3h0.7v0.7h-0.7zM331.1 268.8h0.7v0.7h-0.7zM333.8 268.8h0.7v0.7h-0.7zM324.2 261.0h0.7v0.7h-0.7zM327.7 265.3h0.7v0.7h-0.7zM327.0 272.3h0.7v0.7h-0.7zM320.2 258.8h0.7v0.7h-0.7zM327.0 268.7h0.7v0.7h-0.7zM321.8 249.6h0.7v0.7h-0.7zM317.6 255.7h0.7v0.7h-0.7zM317.6 256.5h0.7v0.7h-0.7zM322.4 243.2h0.7v0.7h-0.7zM318.8 264.6h0.7v0.7h-0.7zM328.9 267.0h0.7v0.7h-0.7zM340.2 270.4h0.7v0.7h-0.7zM331.9 248.1h0.7v0.7h-0.7zM329.3 265.5h0.7v0.7h-0.7zM323.9 264.9h0.7v0.7h-0.7zM331.1 262.7h0.7v0.7h-0.7zM329.2 269.1h0.7v0.7h-0.7zM315.0 250.1h0.7v0.7h-0.7zM322.3 250.4h0.7v0.7h-0.7zM322.4 250.3h0.7v0.7h-0.7zM335.9 267.0h0.7v0.7h-0.7zM318.9 255.6h0.7v0.7h-0.7zM329.6 268.3h0.7v0.7h-0.7zM321.2 249.4h0.7v0.7h-0.7zM321.0 267.4h0.7v0.7h-0.7zM335.7 261.7h0.7v0.7h-0.7zM323.7 256.8h0.7v0.7h-0.7zM320.5 268.0h0.7v0.7h-0.7zM327.1 259.3h0.7v0.7h-0.7zM314.9 258.9h0.7v0.7h-0.7zM328.9 270.1h0.7v0.7h-0.7zM328.9 266.3h0.7v0.7h-0.7zM323.5 264.7h0.7v0.7h-0.7zM320.1 255.4h0.7v0.7h-0.7zM323.3 248.3h0.7v0.7h-0.7zM314.9 251.4h0.7v0.7h-0.7zM331.4 259.9h0.7v0.7h-0.7zM324.2 257.1h0.7v0.7h-0.7zM319.1 243.8h0.7v0.7h-0.7zM324.2 266.6h0.7v0.7h-0.7zM318.9 266.2h0.7v0.7h-0.7zM313.6 264.2h0.7v0.7h-0.7zM315.3 257.2h0.7v0.7h-0.7zM318.6 252.3h0.7v0.7h-0.7zM332.6 261.2h0.7v0.7h-0.7zM321.4 248.5h0.7v0.7h-0.7zM318.9 245.6h0.7v0.7h-0.7zM326.9 253.2h0.7v0.7h-0.7zM322.0 255.4h0.7v0.7h-0.7zM334.9 271.1h0.7v0.7h-0.7zM336.0 264.6h0.7v0.7h-0.7zM322.9 261.4h0.7v0.7h-0.7zM327.0 258.4h0.7v0.7h-0.7zM327.1 271.3h0.7v0.7h-0.7zM319.2 255.7h0.7v0.7h-0.7zM322.3 255.3h0.7v0.7h-0.7zM323.6 261.4h0.7v0.7h-0.7zM335.2 270.1h0.7v0.7h-0.7zM321.4 247.9h0.7v0.7h-0.7zM321.3 253.9h0.7v0.7h-0.7zM321.6 251.6h0.7v0.7h-0.7zM327.5 268.4h0.7v0.7h-0.7zM322.8 271.7h0.7v0.7h-0.7zM326.2 265.2h0.7v0.7h-0.7zM329.9 268.6h0.7v0.7h-0.7zM325.9 261.0h0.7v0.7h-0.7zM324.1 250.9h0.7v0.7h-0.7zM317.9 273.6h0.7v0.7h-0.7zM320.3 262.7h0.7v0.7h-0.7zM328.1 258.2h0.7v0.7h-0.7zM314.6 263.7h0.7v0.7h-0.7zM332.4 274.9h0.7v0.7h-0.7zM325.9 266.9h0.7v0.7h-0.7zM322.5 252.9h0.7v0.7h-0.7zM323.8 256.2h0.7v0.7h-0.7zM324.4 270.6h0.7v0.7h-0.7zM320.8 258.0h0.7v0.7h-0.7zM333.0 264.9h0.7v0.7h-0.7zM312.7 255.2h0.7v0.7h-0.7zM325.6 249.4h0.7v0.7h-0.7zM320.2 260.8h0.7v0.7h-0.7zM325.4 250.4h0.7v0.7h-0.7zM324.3 272.6h0.7v0.7h-0.7zM330.0 266.9h0.7v0.7h-0.7zM317.6 272.3h0.7v0.7h-0.7zM319.5 269.9h0.7v0.7h-0.7zM334.6 268.8h0.7v0.7h-0.7zM317.4 254.2h0.7v0.7h-0.7zM319.8 267.4h0.7v0.7h-0.7zM312.3 248.1h0.7v0.7h-0.7zM327.4 267.4h0.7v0.7h-0.7zM325.2 268.9h0.7v0.7h-0.7zM322.3 269.0h0.7v0.7h-0.7zM311.4 247.6h0.7v0.7h-0.7zM329.0 250.8h0.7v0.7h-0.7zM327.4 242.3h0.7v0.7h-0.7zM320.9 264.7h0.7v0.7h-0.7zM324.9 265.3h0.7v0.7h-0.7zM322.4 259.5h0.7v0.7h-0.7zM316.6 251.8h0.7v0.7h-0.7zM324.4 248.7h0.7v0.7h-0.7zM320.9 248.8h0.7v0.7h-0.7zM328.6 260.6h0.7v0.7h-0.7zM317.6 257.9h0.7v0.7h-0.7zM327.4 246.4h0.7v0.7h-0.7zM321.6 248.0h0.7v0.7h-0.7zM323.8 254.0h0.7v0.7h-0.7zM321.6 255.6h0.7v0.7h-0.7zM321.3 263.9h0.7v0.7h-0.7zM330.2 269.4h0.7v0.7h-0.7zM321.0 257.8h0.7v0.7h-0.7zM322.4 248.8h0.7v0.7h-0.7zM328.1 248.7h0.7v0.7h-0.7zM319.1 257.8h0.7v0.7h-0.7zM323.1 264.6h0.7v0.7h-0.7zM323.2 264.2h0.7v0.7h-0.7zM321.7 250.6h0.7v0.7h-0.7zM329.7 270.0h0.7v0.7h-0.7zM330.2 267.9h0.7v0.7h-0.7zM328.0 246.7h0.7v0.7h-0.7zM320.3 254.7h0.7v0.7h-0.7zM317.7 243.0h0.7v0.7h-0.7zM330.8 261.9h0.7v0.7h-0.7zM328.1 271.0h0.7v0.7h-0.7zM314.7 257.2h0.7v0.7h-0.7zM316.6 250.3h0.7v0.7h-0.7zM328.3 259.0h0.7v0.7h-0.7zM328.1 258.9h0.7v0.7h-0.7zM322.5 258.7h0.7v0.7h-0.7zM336.4 266.5h0.7v0.7h-0.7zM334.5 265.6h0.7v0.7h-0.7zM330.7 251.9h0.7v0.7h-0.7zM322.0 259.4h0.7v0.7h-0.7zM324.9 245.8h0.7v0.7h-0.7zM327.0 240.9h0.7v0.7h-0.7zM322.9 248.1h0.7v0.7h-0.7zM317.4 239.2h0.7v0.7h-0.7zM324.4 252.7h0.7v0.7h-0.7zM323.2 260.1h0.7v0.7h-0.7zM325.1 250.5h0.7v0.7h-0.7zM334.7 269.6h0.7v0.7h-0.7zM322.2 263.7h0.7v0.7h-0.7zM325.4 267.0h0.7v0.7h-0.7zM315.6 253.9h0.7v0.7h-0.7zM318.2 255.8h0.7v0.7h-0.7zM325.0 249.4h0.7v0.7h-0.7zM329.9 267.9h0.7v0.7h-0.7zM323.8 262.0h0.7v0.7h-0.7zM320.3 259.6h0.7v0.7h-0.7zM318.3 248.0h0.7v0.7h-0.7zM327.0 247.5h0.7v0.7h-0.7zM327.6 267.2h0.7v0.7h-0.7zM316.6 240.8h0.7v0.7h-0.7zM316.8 253.1h0.7v0.7h-0.7zM329.1 261.6h0.7v0.7h-0.7zM320.7 240.6h0.7v0.7h-0.7zM327.0 253.4h0.7v0.7h-0.7zM327.6 267.0h0.7v0.7h-0.7zM323.5 258.1h0.7v0.7h-0.7zM332.1 244.3h0.7v0.7h-0.7zM321.3 252.9h0.7v0.7h-0.7zM323.9 250.8h0.7v0.7h-0.7zM316.3 250.7h0.7v0.7h-0.7zM321.8 267.2h0.7v0.7h-0.7zM333.8 273.7h0.7v0.7h-0.7zM323.1 248.0h0.7v0.7h-0.7zM322.0 245.5h0.7v0.7h-0.7zM319.8 258.8h0.7v0.7h-0.7zM323.7 269.8h0.7v0.7h-0.7zM316.0 254.6h0.7v0.7h-0.7zM333.8 262.5h0.7v0.7h-0.7zM335.1 267.4h0.7v0.7h-0.7zM323.4 268.8h0.7v0.7h-0.7zM324.9 263.6h0.7v0.7h-0.7zM329.5 263.7h0.7v0.7h-0.7zM319.1 249.1h0.7v0.7h-0.7zM322.8 252.2h0.7v0.7h-0.7zM320.0 262.0h0.7v0.7h-0.7zM333.5 275.6h0.7v0.7h-0.7zM324.5 268.5h0.7v0.7h-0.7zM343.9 272.9h0.7v0.7h-0.7zM329.9 255.9h0.7v0.7h-0.7zM333.4 268.5h0.7v0.7h-0.7zM319.1 268.3h0.7v0.7h-0.7zM324.6 272.2h0.7v0.7h-0.7zM327.9 274.7h0.7v0.7h-0.7zM324.2 258.2h0.7v0.7h-0.7zM323.7 257.0h0.7v0.7h-0.7zM319.6 248.9h0.7v0.7h-0.7zM329.7 269.3h0.7v0.7h-0.7zM321.5 264.3h0.7v0.7h-0.7zM331.0 268.4h0.7v0.7h-0.7zM318.5 275.1h0.7v0.7h-0.7zM323.2 253.8h0.7v0.7h-0.7zM328.0 249.3h0.7v0.7h-0.7zM321.9 253.5h0.7v0.7h-0.7zM323.4 249.8h0.7v0.7h-0.7zM319.3 243.5h0.7v0.7h-0.7zM319.5 250.9h0.7v0.7h-0.7zM327.8 266.2h0.7v0.7h-0.7zM318.8 256.8h0.7v0.7h-0.7zM328.2 245.0h0.7v0.7h-0.7zM325.5 250.7h0.7v0.7h-0.7zM326.6 253.1h0.7v0.7h-0.7zM321.6 260.4h0.7v0.7h-0.7zM319.2 252.4h0.7v0.7h-0.7zM325.8 251.8h0.7v0.7h-0.7zM331.7 265.7h0.7v0.7h-0.7zM327.9 266.8h0.7v0.7h-0.7zM319.5 255.3h0.7v0.7h-0.7zM324.7 252.8h0.7v0.7h-0.7zM325.1 257.0h0.7v0.7h-0.7zM323.0 267.4h0.7v0.7h-0.7zM321.8 262.1h0.7v0.7h-0.7z" fill="#f0b878"/>
<path d="M329.9 271.3h0.7v0.7h-0.7zM314.0 254.5h0.7v0.7h-0.7zM318.9 261.2h0.7v0.7h-0.7zM330.0 267.7h0.7v0.7h-0.7zM325.6 264.2h0.7v0.7h-0.7zM315.8 246.1h0.7v0.7h-0.7zM328.9 256.4h0.7v0.7h-0.7zM318.2 244.9h0.7v0.7h-0.7zM322.1 251.5h0.7v0.7h-0.7zM332.8 265.0h0.7v0.7h-0.7zM324.1 242.6h0.7v0.7h-0.7zM315.5 253.2h0.7v0.7h-0.7zM320.6 244.5h0.7v0.7h-0.7zM315.3 259.2h0.7v0.7h-0.7zM330.4 266.7h0.7v0.7h-0.7zM326.8 269.0h0.7v0.7h-0.7zM322.5 261.2h0.7v0.7h-0.7zM325.2 256.3h0.7v0.7h-0.7zM330.5 262.6h0.7v0.7h-0.7zM333.7 265.4h0.7v0.7h-0.7zM325.2 258.2h0.7v0.7h-0.7zM321.2 247.2h0.7v0.7h-0.7zM317.4 269.2h0.7v0.7h-0.7zM320.0 268.3h0.7v0.7h-0.7zM327.0 261.5h0.7v0.7h-0.7zM323.8 248.7h0.7v0.7h-0.7zM330.4 268.2h0.7v0.7h-0.7zM326.3 267.6h0.7v0.7h-0.7zM322.4 258.7h0.7v0.7h-0.7zM335.5 265.3h0.7v0.7h-0.7zM324.9 255.3h0.7v0.7h-0.7zM321.7 251.5h0.7v0.7h-0.7zM334.7 274.2h0.7v0.7h-0.7zM319.0 252.4h0.7v0.7h-0.7zM322.3 251.7h0.7v0.7h-0.7zM325.2 263.8h0.7v0.7h-0.7zM324.7 265.8h0.7v0.7h-0.7zM322.4 244.2h0.7v0.7h-0.7zM327.3 250.1h0.7v0.7h-0.7zM330.1 267.0h0.7v0.7h-0.7zM320.4 271.6h0.7v0.7h-0.7zM332.5 271.4h0.7v0.7h-0.7zM316.9 262.1h0.7v0.7h-0.7zM325.7 272.7h0.7v0.7h-0.7zM322.2 256.1h0.7v0.7h-0.7zM317.1 261.7h0.7v0.7h-0.7zM331.3 267.8h0.7v0.7h-0.7zM326.2 260.4h0.7v0.7h-0.7zM324.7 245.7h0.7v0.7h-0.7zM323.0 260.8h0.7v0.7h-0.7zM326.1 268.7h0.7v0.7h-0.7zM329.0 269.3h0.7v0.7h-0.7zM328.3 260.3h0.7v0.7h-0.7zM311.2 259.8h0.7v0.7h-0.7zM320.9 261.3h0.7v0.7h-0.7zM318.1 258.2h0.7v0.7h-0.7zM327.2 270.6h0.7v0.7h-0.7zM325.1 268.9h0.7v0.7h-0.7zM322.5 243.3h0.7v0.7h-0.7zM312.7 258.9h0.7v0.7h-0.7zM323.9 265.9h0.7v0.7h-0.7zM326.0 239.8h0.7v0.7h-0.7zM321.5 257.8h0.7v0.7h-0.7zM317.3 244.7h0.7v0.7h-0.7zM327.7 267.6h0.7v0.7h-0.7zM320.2 251.8h0.7v0.7h-0.7zM322.3 252.2h0.7v0.7h-0.7zM324.6 262.5h0.7v0.7h-0.7zM332.5 275.3h0.7v0.7h-0.7zM335.4 267.6h0.7v0.7h-0.7zM327.3 264.8h0.7v0.7h-0.7zM323.5 262.4h0.7v0.7h-0.7zM328.5 257.9h0.7v0.7h-0.7zM328.8 265.2h0.7v0.7h-0.7zM319.1 256.2h0.7v0.7h-0.7zM318.0 263.8h0.7v0.7h-0.7zM332.4 270.3h0.7v0.7h-0.7zM329.8 267.1h0.7v0.7h-0.7zM322.1 266.2h0.7v0.7h-0.7zM326.6 269.5h0.7v0.7h-0.7zM324.8 252.2h0.7v0.7h-0.7zM329.8 270.7h0.7v0.7h-0.7zM333.3 274.0h0.7v0.7h-0.7zM324.2 256.5h0.7v0.7h-0.7zM313.9 259.8h0.7v0.7h-0.7zM319.2 254.6h0.7v0.7h-0.7zM316.9 254.4h0.7v0.7h-0.7zM332.7 267.8h0.7v0.7h-0.7zM318.6 253.9h0.7v0.7h-0.7zM327.2 242.3h0.7v0.7h-0.7zM326.6 259.2h0.7v0.7h-0.7zM331.3 272.5h0.7v0.7h-0.7zM329.2 271.1h0.7v0.7h-0.7zM327.3 262.4h0.7v0.7h-0.7zM321.8 263.4h0.7v0.7h-0.7zM318.5 239.0h0.7v0.7h-0.7zM324.1 267.3h0.7v0.7h-0.7zM317.2 255.1h0.7v0.7h-0.7zM327.8 261.7h0.7v0.7h-0.7zM319.2 257.2h0.7v0.7h-0.7zM310.3 246.8h0.7v0.7h-0.7zM334.5 267.2h0.7v0.7h-0.7zM323.6 248.6h0.7v0.7h-0.7zM330.1 268.8h0.7v0.7h-0.7zM325.4 248.7h0.7v0.7h-0.7zM319.2 249.5h0.7v0.7h-0.7zM318.7 248.6h0.7v0.7h-0.7zM327.5 247.0h0.7v0.7h-0.7zM317.8 263.3h0.7v0.7h-0.7zM323.1 265.0h0.7v0.7h-0.7zM316.7 246.4h0.7v0.7h-0.7zM323.5 259.9h0.7v0.7h-0.7zM316.9 248.0h0.7v0.7h-0.7zM338.7 268.1h0.7v0.7h-0.7zM322.4 258.0h0.7v0.7h-0.7zM334.8 268.9h0.7v0.7h-0.7zM318.0 249.6h0.7v0.7h-0.7zM332.7 269.7h0.7v0.7h-0.7zM317.1 249.2h0.7v0.7h-0.7zM326.2 263.7h0.7v0.7h-0.7zM326.2 256.2h0.7v0.7h-0.7zM316.4 248.0h0.7v0.7h-0.7zM324.8 251.4h0.7v0.7h-0.7zM325.6 261.0h0.7v0.7h-0.7zM327.3 254.3h0.7v0.7h-0.7zM327.6 256.5h0.7v0.7h-0.7zM329.4 272.3h0.7v0.7h-0.7zM330.4 249.4h0.7v0.7h-0.7zM316.4 262.7h0.7v0.7h-0.7zM320.4 248.6h0.7v0.7h-0.7zM324.5 259.6h0.7v0.7h-0.7zM316.6 249.6h0.7v0.7h-0.7zM330.7 265.0h0.7v0.7h-0.7zM325.8 260.1h0.7v0.7h-0.7zM321.8 254.4h0.7v0.7h-0.7zM320.8 256.4h0.7v0.7h-0.7zM311.1 257.7h0.7v0.7h-0.7zM315.3 258.6h0.7v0.7h-0.7zM322.3 251.8h0.7v0.7h-0.7zM325.0 265.4h0.7v0.7h-0.7zM328.1 261.2h0.7v0.7h-0.7zM317.1 252.6h0.7v0.7h-0.7zM326.3 268.4h0.7v0.7h-0.7zM318.3 254.3h0.7v0.7h-0.7zM317.4 255.0h0.7v0.7h-0.7zM319.1 259.3h0.7v0.7h-0.7zM319.9 249.9h0.7v0.7h-0.7zM318.9 257.6h0.7v0.7h-0.7zM330.8 264.1h0.7v0.7h-0.7zM330.3 264.0h0.7v0.7h-0.7zM328.1 261.2h0.7v0.7h-0.7zM325.0 260.2h0.7v0.7h-0.7zM328.3 267.3h0.7v0.7h-0.7zM331.4 269.7h0.7v0.7h-0.7zM320.5 269.4h0.7v0.7h-0.7zM319.7 250.2h0.7v0.7h-0.7zM320.0 255.0h0.7v0.7h-0.7zM335.8 264.8h0.7v0.7h-0.7zM320.6 260.9h0.7v0.7h-0.7zM325.3 256.3h0.7v0.7h-0.7zM322.1 261.5h0.7v0.7h-0.7zM312.1 254.9h0.7v0.7h-0.7zM318.9 261.4h0.7v0.7h-0.7zM325.4 245.0h0.7v0.7h-0.7zM319.4 257.0h0.7v0.7h-0.7zM323.2 239.1h0.7v0.7h-0.7zM321.9 255.5h0.7v0.7h-0.7zM317.0 259.6h0.7v0.7h-0.7zM321.0 254.2h0.7v0.7h-0.7zM332.4 259.0h0.7v0.7h-0.7zM337.4 262.5h0.7v0.7h-0.7zM313.2 251.0h0.7v0.7h-0.7zM335.1 273.0h0.7v0.7h-0.7zM322.2 250.4h0.7v0.7h-0.7zM329.2 250.0h0.7v0.7h-0.7zM329.5 255.3h0.7v0.7h-0.7zM321.1 246.6h0.7v0.7h-0.7zM322.4 247.6h0.7v0.7h-0.7zM321.2 251.9h0.7v0.7h-0.7zM328.0 254.3h0.7v0.7h-0.7zM327.8 255.8h0.7v0.7h-0.7zM325.0 249.8h0.7v0.7h-0.7zM325.7 264.0h0.7v0.7h-0.7zM323.7 259.0h0.7v0.7h-0.7zM319.8 252.5h0.7v0.7h-0.7zM320.9 244.5h0.7v0.7h-0.7zM320.3 266.2h0.7v0.7h-0.7zM330.1 265.5h0.7v0.7h-0.7zM322.2 261.8h0.7v0.7h-0.7zM323.6 260.7h0.7v0.7h-0.7zM328.0 265.9h0.7v0.7h-0.7zM326.9 266.9h0.7v0.7h-0.7zM331.0 269.2h0.7v0.7h-0.7zM324.9 256.0h0.7v0.7h-0.7zM328.3 268.5h0.7v0.7h-0.7zM325.1 254.5h0.7v0.7h-0.7zM325.0 249.5h0.7v0.7h-0.7zM328.5 267.7h0.7v0.7h-0.7zM317.1 265.9h0.7v0.7h-0.7zM326.1 257.9h0.7v0.7h-0.7zM325.6 258.3h0.7v0.7h-0.7zM322.4 245.7h0.7v0.7h-0.7zM329.1 265.7h0.7v0.7h-0.7zM323.6 262.8h0.7v0.7h-0.7zM320.2 264.4h0.7v0.7h-0.7zM331.5 269.3h0.7v0.7h-0.7zM319.4 247.6h0.7v0.7h-0.7zM328.2 265.2h0.7v0.7h-0.7zM324.2 258.4h0.7v0.7h-0.7zM317.9 250.5h0.7v0.7h-0.7zM328.2 265.0h0.7v0.7h-0.7zM316.5 247.7h0.7v0.7h-0.7zM333.8 267.4h0.7v0.7h-0.7zM316.0 247.0h0.7v0.7h-0.7zM321.5 248.6h0.7v0.7h-0.7zM317.2 257.5h0.7v0.7h-0.7zM318.7 247.8h0.7v0.7h-0.7zM328.4 265.9h0.7v0.7h-0.7zM323.6 267.6h0.7v0.7h-0.7zM317.1 254.4h0.7v0.7h-0.7zM324.9 246.5h0.7v0.7h-0.7zM323.3 251.8h0.7v0.7h-0.7zM326.2 259.0h0.7v0.7h-0.7zM315.6 246.3h0.7v0.7h-0.7zM324.4 253.3h0.7v0.7h-0.7zM321.2 255.0h0.7v0.7h-0.7zM323.2 255.5h0.7v0.7h-0.7zM326.8 271.0h0.7v0.7h-0.7zM325.6 254.3h0.7v0.7h-0.7zM307.2 265.6h0.7v0.7h-0.7zM320.7 261.1h0.7v0.7h-0.7zM325.2 251.1h0.7v0.7h-0.7zM323.5 256.4h0.7v0.7h-0.7z" fill="#e49050"/>
<path d="M332.3 266.6h0.7v0.7h-0.7zM322.9 248.7h0.7v0.7h-0.7zM321.5 261.5h0.7v0.7h-0.7zM332.3 270.6h0.7v0.7h-0.7zM326.6 263.8h0.7v0.7h-0.7zM320.2 257.7h0.7v0.7h-0.7zM320.6 253.8h0.7v0.7h-0.7zM318.8 252.3h0.7v0.7h-0.7zM316.8 258.8h0.7v0.7h-0.7zM327.1 246.8h0.7v0.7h-0.7zM315.2 249.1h0.7v0.7h-0.7zM318.8 268.2h0.7v0.7h-0.7zM319.4 237.0h0.7v0.7h-0.7zM324.0 252.9h0.7v0.7h-0.7zM326.7 260.4h0.7v0.7h-0.7zM332.1 273.6h0.7v0.7h-0.7zM335.5 264.6h0.7v0.7h-0.7zM327.6 269.3h0.7v0.7h-0.7zM320.3 263.5h0.7v0.7h-0.7zM327.4 253.5h0.7v0.7h-0.7zM328.5 271.3h0.7v0.7h-0.7zM332.8 272.8h0.7v0.7h-0.7zM335.3 258.7h0.7v0.7h-0.7zM323.0 275.5h0.7v0.7h-0.7zM316.4 250.3h0.7v0.7h-0.7zM315.8 262.5h0.7v0.7h-0.7zM329.7 264.8h0.7v0.7h-0.7zM321.0 255.6h0.7v0.7h-0.7zM334.9 274.5h0.7v0.7h-0.7zM319.6 260.0h0.7v0.7h-0.7zM327.0 267.8h0.7v0.7h-0.7zM317.7 245.4h0.7v0.7h-0.7zM317.4 240.9h0.7v0.7h-0.7zM324.9 268.1h0.7v0.7h-0.7zM319.8 249.1h0.7v0.7h-0.7zM322.0 252.5h0.7v0.7h-0.7zM313.2 260.0h0.7v0.7h-0.7zM326.1 261.6h0.7v0.7h-0.7zM330.7 262.6h0.7v0.7h-0.7zM330.8 267.2h0.7v0.7h-0.7zM331.0 268.1h0.7v0.7h-0.7zM321.2 245.3h0.7v0.7h-0.7zM317.9 250.0h0.7v0.7h-0.7zM316.1 260.2h0.7v0.7h-0.7zM336.4 271.5h0.7v0.7h-0.7zM323.6 260.3h0.7v0.7h-0.7zM321.0 257.8h0.7v0.7h-0.7zM323.2 244.4h0.7v0.7h-0.7zM328.0 258.4h0.7v0.7h-0.7zM324.1 260.7h0.7v0.7h-0.7zM319.6 265.4h0.7v0.7h-0.7zM323.0 246.7h0.7v0.7h-0.7zM332.6 268.2h0.7v0.7h-0.7zM318.1 247.0h0.7v0.7h-0.7zM318.7 258.7h0.7v0.7h-0.7zM322.4 260.4h0.7v0.7h-0.7zM314.6 266.3h0.7v0.7h-0.7zM326.6 253.1h0.7v0.7h-0.7zM325.4 257.4h0.7v0.7h-0.7zM321.2 255.4h0.7v0.7h-0.7zM323.7 254.0h0.7v0.7h-0.7zM314.5 253.2h0.7v0.7h-0.7zM325.3 256.6h0.7v0.7h-0.7zM314.2 245.4h0.7v0.7h-0.7zM320.5 250.9h0.7v0.7h-0.7zM329.5 270.8h0.7v0.7h-0.7zM318.8 253.5h0.7v0.7h-0.7zM322.9 260.4h0.7v0.7h-0.7zM327.1 245.2h0.7v0.7h-0.7zM324.7 250.5h0.7v0.7h-0.7zM318.9 246.9h0.7v0.7h-0.7zM324.3 249.5h0.7v0.7h-0.7zM325.3 250.2h0.7v0.7h-0.7zM324.0 263.1h0.7v0.7h-0.7zM323.3 267.4h0.7v0.7h-0.7zM334.2 264.7h0.7v0.7h-0.7zM321.8 251.1h0.7v0.7h-0.7zM329.6 266.7h0.7v0.7h-0.7zM327.8 264.7h0.7v0.7h-0.7zM313.9 261.5h0.7v0.7h-0.7zM331.8 274.0h0.7v0.7h-0.7zM319.6 271.4h0.7v0.7h-0.7zM325.2 261.1h0.7v0.7h-0.7zM323.0 249.2h0.7v0.7h-0.7zM323.5 263.4h0.7v0.7h-0.7zM324.1 247.6h0.7v0.7h-0.7zM324.5 269.0h0.7v0.7h-0.7zM324.3 262.0h0.7v0.7h-0.7zM333.9 274.6h0.7v0.7h-0.7zM326.4 269.7h0.7v0.7h-0.7zM326.8 252.6h0.7v0.7h-0.7zM332.3 265.4h0.7v0.7h-0.7zM333.6 251.9h0.7v0.7h-0.7zM316.7 244.3h0.7v0.7h-0.7zM328.5 265.7h0.7v0.7h-0.7zM332.4 272.3h0.7v0.7h-0.7zM326.5 255.9h0.7v0.7h-0.7zM318.0 255.2h0.7v0.7h-0.7zM322.0 249.0h0.7v0.7h-0.7zM331.4 271.9h0.7v0.7h-0.7zM327.8 240.2h0.7v0.7h-0.7zM327.1 256.0h0.7v0.7h-0.7zM324.4 253.3h0.7v0.7h-0.7zM321.9 257.1h0.7v0.7h-0.7zM319.7 266.0h0.7v0.7h-0.7zM328.6 261.8h0.7v0.7h-0.7zM321.4 246.8h0.7v0.7h-0.7zM322.9 247.9h0.7v0.7h-0.7zM318.9 251.8h0.7v0.7h-0.7zM321.9 268.8h0.7v0.7h-0.7zM326.3 253.9h0.7v0.7h-0.7zM320.2 268.0h0.7v0.7h-0.7zM330.1 266.8h0.7v0.7h-0.7zM335.4 272.7h0.7v0.7h-0.7zM335.8 262.9h0.7v0.7h-0.7zM329.4 274.0h0.7v0.7h-0.7zM326.1 263.1h0.7v0.7h-0.7zM315.3 260.2h0.7v0.7h-0.7zM324.2 256.8h0.7v0.7h-0.7zM318.5 243.7h0.7v0.7h-0.7zM307.5 247.2h0.7v0.7h-0.7zM326.7 262.7h0.7v0.7h-0.7zM322.0 247.1h0.7v0.7h-0.7zM317.2 255.5h0.7v0.7h-0.7zM318.0 261.6h0.7v0.7h-0.7zM319.1 260.0h0.7v0.7h-0.7zM328.4 256.2h0.7v0.7h-0.7zM324.1 260.1h0.7v0.7h-0.7zM322.3 247.7h0.7v0.7h-0.7zM320.4 255.7h0.7v0.7h-0.7zM331.9 254.6h0.7v0.7h-0.7zM313.1 240.4h0.7v0.7h-0.7zM325.6 271.2h0.7v0.7h-0.7zM321.4 257.2h0.7v0.7h-0.7zM318.6 246.2h0.7v0.7h-0.7zM323.5 268.3h0.7v0.7h-0.7zM332.6 272.2h0.7v0.7h-0.7zM335.8 266.8h0.7v0.7h-0.7zM320.5 246.5h0.7v0.7h-0.7zM331.0 266.2h0.7v0.7h-0.7zM327.0 254.2h0.7v0.7h-0.7zM331.1 267.8h0.7v0.7h-0.7zM322.4 241.3h0.7v0.7h-0.7zM316.1 254.9h0.7v0.7h-0.7zM327.6 249.1h0.7v0.7h-0.7zM318.3 243.8h0.7v0.7h-0.7zM323.5 255.4h0.7v0.7h-0.7zM326.4 262.9h0.7v0.7h-0.7zM319.9 263.2h0.7v0.7h-0.7zM331.7 263.3h0.7v0.7h-0.7zM321.7 246.6h0.7v0.7h-0.7zM315.2 255.8h0.7v0.7h-0.7zM321.5 245.3h0.7v0.7h-0.7zM329.7 266.2h0.7v0.7h-0.7zM316.2 253.6h0.7v0.7h-0.7zM318.3 247.6h0.7v0.7h-0.7zM325.8 270.7h0.7v0.7h-0.7zM314.6 249.4h0.7v0.7h-0.7zM326.1 263.9h0.7v0.7h-0.7zM331.4 264.2h0.7v0.7h-0.7zM323.6 247.5h0.7v0.7h-0.7zM322.5 254.0h0.7v0.7h-0.7zM318.1 253.0h0.7v0.7h-0.7zM334.6 267.6h0.7v0.7h-0.7zM317.7 237.6h0.7v0.7h-0.7zM330.5 252.0h0.7v0.7h-0.7zM327.5 267.1h0.7v0.7h-0.7zM326.4 265.6h0.7v0.7h-0.7zM326.5 261.3h0.7v0.7h-0.7zM315.3 259.9h0.7v0.7h-0.7zM331.0 265.1h0.7v0.7h-0.7zM324.7 245.8h0.7v0.7h-0.7zM319.9 265.0h0.7v0.7h-0.7zM323.7 258.7h0.7v0.7h-0.7zM320.2 265.5h0.7v0.7h-0.7zM329.3 268.8h0.7v0.7h-0.7zM321.3 271.6h0.7v0.7h-0.7zM329.1 267.5h0.7v0.7h-0.7zM314.9 244.3h0.7v0.7h-0.7zM324.3 266.5h0.7v0.7h-0.7zM324.9 268.2h0.7v0.7h-0.7zM320.0 262.2h0.7v0.7h-0.7zM317.1 259.4h0.7v0.7h-0.7zM324.3 260.7h0.7v0.7h-0.7zM326.1 260.8h0.7v0.7h-0.7zM334.5 273.8h0.7v0.7h-0.7zM335.7 268.7h0.7v0.7h-0.7zM320.5 266.7h0.7v0.7h-0.7zM317.9 247.8h0.7v0.7h-0.7zM330.6 265.9h0.7v0.7h-0.7zM315.7 252.9h0.7v0.7h-0.7zM333.9 263.0h0.7v0.7h-0.7zM317.7 262.5h0.7v0.7h-0.7zM322.2 268.5h0.7v0.7h-0.7zM321.2 254.0h0.7v0.7h-0.7zM325.2 268.4h0.7v0.7h-0.7zM323.9 262.8h0.7v0.7h-0.7zM331.2 259.0h0.7v0.7h-0.7zM326.5 265.6h0.7v0.7h-0.7zM315.4 243.2h0.7v0.7h-0.7zM325.3 247.3h0.7v0.7h-0.7zM330.3 251.1h0.7v0.7h-0.7zM325.2 266.0h0.7v0.7h-0.7zM314.5 260.8h0.7v0.7h-0.7zM324.3 249.4h0.7v0.7h-0.7zM322.5 266.1h0.7v0.7h-0.7zM327.3 267.2h0.7v0.7h-0.7zM324.4 265.7h0.7v0.7h-0.7zM319.5 270.8h0.7v0.7h-0.7zM326.8 266.8h0.7v0.7h-0.7zM328.3 263.2h0.7v0.7h-0.7zM326.0 267.4h0.7v0.7h-0.7zM329.3 271.2h0.7v0.7h-0.7zM323.8 274.4h0.7v0.7h-0.7zM324.2 263.4h0.7v0.7h-0.7zM324.6 273.0h0.7v0.7h-0.7zM325.8 245.9h0.7v0.7h-0.7zM324.2 254.1h0.7v0.7h-0.7zM323.1 262.5h0.7v0.7h-0.7zM316.3 250.7h0.7v0.7h-0.7zM332.2 261.7h0.7v0.7h-0.7zM321.7 257.3h0.7v0.7h-0.7zM326.1 267.1h0.7v0.7h-0.7zM328.6 248.3h0.7v0.7h-0.7zM318.8 254.6h0.7v0.7h-0.7zM326.7 262.9h0.7v0.7h-0.7zM330.4 272.2h0.7v0.7h-0.7zM330.5 259.2h0.7v0.7h-0.7zM326.2 263.5h0.7v0.7h-0.7zM333.3 254.4h0.7v0.7h-0.7zM321.6 254.1h0.7v0.7h-0.7zM319.6 256.8h0.7v0.7h-0.7zM325.4 268.5h0.7v0.7h-0.7zM325.4 251.1h0.7v0.7h-0.7zM330.2 270.0h0.7v0.7h-0.7zM326.9 271.2h0.7v0.7h-0.7zM323.3 259.4h0.7v0.7h-0.7zM315.3 252.1h0.7v0.7h-0.7zM326.9 260.3h0.7v0.7h-0.7zM317.7 246.2h0.7v0.7h-0.7zM314.0 246.0h0.7v0.7h-0.7zM319.6 251.6h0.7v0.7h-0.7zM319.9 252.1h0.7v0.7h-0.7zM317.3 251.8h0.7v0.7h-0.7zM324.9 249.0h0.7v0.7h-0.7zM333.2 267.2h0.7v0.7h-0.7zM325.9 265.0h0.7v0.7h-0.7zM330.2 267.2h0.7v0.7h-0.7zM325.6 266.4h0.7v0.7h-0.7zM324.5 255.0h0.7v0.7h-0.7zM331.4 272.6h0.7v0.7h-0.7zM330.0 257.8h0.7v0.7h-0.7zM328.7 265.0h0.7v0.7h-0.7zM309.8 253.6h0.7v0.7h-0.7zM330.9 269.5h0.7v0.7h-0.7zM335.1 268.4h0.7v0.7h-0.7zM321.1 264.4h0.7v0.7h-0.7z" fill="#eaa060"/>
<path d="M330.1 273.9h0.7v0.7h-0.7zM320.2 255.3h0.7v0.7h-0.7zM324.5 264.7h0.7v0.7h-0.7zM317.5 255.6h0.7v0.7h-0.7zM322.5 246.9h0.7v0.7h-0.7zM317.1 254.0h0.7v0.7h-0.7zM327.9 271.0h0.7v0.7h-0.7zM321.0 255.8h0.7v0.7h-0.7zM330.7 266.9h0.7v0.7h-0.7zM318.2 259.7h0.7v0.7h-0.7zM328.4 268.1h0.7v0.7h-0.7zM317.5 247.9h0.7v0.7h-0.7zM327.0 272.5h0.7v0.7h-0.7zM333.3 265.5h0.7v0.7h-0.7zM323.4 253.7h0.7v0.7h-0.7zM316.6 259.2h0.7v0.7h-0.7zM321.4 259.3h0.7v0.7h-0.7zM321.4 244.6h0.7v0.7h-0.7zM318.2 249.5h0.7v0.7h-0.7zM333.0 268.1h0.7v0.7h-0.7zM326.5 252.0h0.7v0.7h-0.7zM328.6 256.6h0.7v0.7h-0.7zM326.4 265.6h0.7v0.7h-0.7zM325.6 269.7h0.7v0.7h-0.7zM329.5 267.3h0.7v0.7h-0.7zM318.0 253.4h0.7v0.7h-0.7zM338.9 271.9h0.7v0.7h-0.7zM323.1 240.6h0.7v0.7h-0.7zM327.9 260.2h0.7v0.7h-0.7zM328.5 265.0h0.7v0.7h-0.7zM329.4 267.3h0.7v0.7h-0.7zM332.1 263.7h0.7v0.7h-0.7zM319.9 265.6h0.7v0.7h-0.7zM316.0 239.6h0.7v0.7h-0.7zM332.4 274.7h0.7v0.7h-0.7zM317.4 241.5h0.7v0.7h-0.7zM321.8 247.9h0.7v0.7h-0.7zM324.9 268.9h0.7v0.7h-0.7zM319.8 257.1h0.7v0.7h-0.7zM328.6 267.4h0.7v0.7h-0.7zM329.7 271.5h0.7v0.7h-0.7zM328.5 266.0h0.7v0.7h-0.7zM328.9 269.1h0.7v0.7h-0.7zM316.2 252.4h0.7v0.7h-0.7zM325.1 269.5h0.7v0.7h-0.7zM321.1 267.0h0.7v0.7h-0.7zM320.0 253.0h0.7v0.7h-0.7zM320.5 246.6h0.7v0.7h-0.7zM320.0 254.6h0.7v0.7h-0.7zM327.2 259.0h0.7v0.7h-0.7zM316.8 247.7h0.7v0.7h-0.7zM319.4 246.0h0.7v0.7h-0.7zM318.4 249.4h0.7v0.7h-0.7zM322.6 239.5h0.7v0.7h-0.7zM323.1 261.2h0.7v0.7h-0.7zM321.1 251.9h0.7v0.7h-0.7zM336.8 263.9h0.7v0.7h-0.7zM313.0 240.6h0.7v0.7h-0.7zM330.2 265.6h0.7v0.7h-0.7zM328.1 271.5h0.7v0.7h-0.7zM321.5 246.1h0.7v0.7h-0.7zM325.4 271.2h0.7v0.7h-0.7zM325.1 247.6h0.7v0.7h-0.7zM321.1 255.0h0.7v0.7h-0.7zM323.0 268.3h0.7v0.7h-0.7zM319.3 251.2h0.7v0.7h-0.7zM322.2 256.7h0.7v0.7h-0.7zM326.0 260.4h0.7v0.7h-0.7zM334.6 270.2h0.7v0.7h-0.7zM327.3 256.2h0.7v0.7h-0.7zM320.2 262.2h0.7v0.7h-0.7zM313.7 256.1h0.7v0.7h-0.7zM324.7 250.6h0.7v0.7h-0.7zM326.6 267.0h0.7v0.7h-0.7zM340.8 277.7h0.7v0.7h-0.7zM322.4 244.9h0.7v0.7h-0.7zM326.2 262.8h0.7v0.7h-0.7zM320.4 244.1h0.7v0.7h-0.7zM338.1 266.4h0.7v0.7h-0.7zM320.5 241.5h0.7v0.7h-0.7zM321.6 266.1h0.7v0.7h-0.7zM319.9 246.4h0.7v0.7h-0.7zM317.9 254.2h0.7v0.7h-0.7zM318.8 253.5h0.7v0.7h-0.7zM326.0 258.3h0.7v0.7h-0.7zM322.4 263.2h0.7v0.7h-0.7zM325.4 252.8h0.7v0.7h-0.7zM330.9 256.8h0.7v0.7h-0.7zM321.9 244.2h0.7v0.7h-0.7zM327.1 266.7h0.7v0.7h-0.7zM321.5 258.0h0.7v0.7h-0.7zM321.8 261.5h0.7v0.7h-0.7zM326.5 260.2h0.7v0.7h-0.7zM317.7 251.4h0.7v0.7h-0.7zM324.4 273.7h0.7v0.7h-0.7zM326.1 249.0h0.7v0.7h-0.7zM334.1 261.5h0.7v0.7h-0.7zM325.4 249.4h0.7v0.7h-0.7zM325.3 267.3h0.7v0.7h-0.7zM327.8 269.7h0.7v0.7h-0.7zM324.3 247.4h0.7v0.7h-0.7zM318.2 269.7h0.7v0.7h-0.7zM316.9 252.9h0.7v0.7h-0.7zM320.0 261.0h0.7v0.7h-0.7zM324.7 264.2h0.7v0.7h-0.7zM322.1 246.5h0.7v0.7h-0.7zM319.5 255.3h0.7v0.7h-0.7zM325.5 258.9h0.7v0.7h-0.7zM326.2 263.0h0.7v0.7h-0.7zM321.7 248.6h0.7v0.7h-0.7zM320.1 249.4h0.7v0.7h-0.7zM323.4 264.1h0.7v0.7h-0.7zM325.4 248.9h0.7v0.7h-0.7zM332.6 264.4h0.7v0.7h-0.7zM329.6 270.5h0.7v0.7h-0.7zM325.4 243.7h0.7v0.7h-0.7zM325.7 252.7h0.7v0.7h-0.7zM331.5 269.4h0.7v0.7h-0.7zM327.6 271.6h0.7v0.7h-0.7zM332.1 274.2h0.7v0.7h-0.7zM322.7 252.8h0.7v0.7h-0.7zM328.1 270.2h0.7v0.7h-0.7zM324.8 269.6h0.7v0.7h-0.7zM316.5 243.0h0.7v0.7h-0.7zM322.2 250.2h0.7v0.7h-0.7zM324.9 264.3h0.7v0.7h-0.7zM320.9 249.4h0.7v0.7h-0.7zM318.6 262.7h0.7v0.7h-0.7zM317.8 250.1h0.7v0.7h-0.7zM324.4 256.1h0.7v0.7h-0.7zM323.5 269.4h0.7v0.7h-0.7zM323.6 269.2h0.7v0.7h-0.7zM335.3 270.2h0.7v0.7h-0.7zM334.2 272.4h0.7v0.7h-0.7zM318.4 254.1h0.7v0.7h-0.7zM319.9 248.0h0.7v0.7h-0.7zM320.5 263.4h0.7v0.7h-0.7zM331.9 266.2h0.7v0.7h-0.7zM322.3 253.6h0.7v0.7h-0.7zM331.0 255.6h0.7v0.7h-0.7zM312.1 251.9h0.7v0.7h-0.7zM328.3 251.1h0.7v0.7h-0.7zM330.5 267.9h0.7v0.7h-0.7zM324.9 256.6h0.7v0.7h-0.7zM322.6 259.0h0.7v0.7h-0.7zM321.5 265.5h0.7v0.7h-0.7zM327.2 265.9h0.7v0.7h-0.7zM328.7 268.7h0.7v0.7h-0.7zM316.3 253.1h0.7v0.7h-0.7zM329.1 276.0h0.7v0.7h-0.7zM317.5 246.8h0.7v0.7h-0.7zM322.9 262.9h0.7v0.7h-0.7zM324.0 245.9h0.7v0.7h-0.7zM329.0 272.4h0.7v0.7h-0.7zM326.5 269.0h0.7v0.7h-0.7zM327.1 259.9h0.7v0.7h-0.7zM321.9 263.9h0.7v0.7h-0.7zM330.8 266.3h0.7v0.7h-0.7zM331.6 266.5h0.7v0.7h-0.7zM322.7 277.0h0.7v0.7h-0.7zM315.1 245.6h0.7v0.7h-0.7zM326.8 268.7h0.7v0.7h-0.7zM325.9 256.7h0.7v0.7h-0.7zM318.2 256.0h0.7v0.7h-0.7zM324.4 243.6h0.7v0.7h-0.7zM324.3 276.2h0.7v0.7h-0.7zM327.4 268.1h0.7v0.7h-0.7zM316.3 262.1h0.7v0.7h-0.7zM327.3 273.0h0.7v0.7h-0.7zM327.1 269.0h0.7v0.7h-0.7zM326.4 261.3h0.7v0.7h-0.7zM318.4 257.7h0.7v0.7h-0.7zM323.2 258.6h0.7v0.7h-0.7zM328.6 257.0h0.7v0.7h-0.7zM334.0 269.3h0.7v0.7h-0.7zM326.6 269.1h0.7v0.7h-0.7zM324.7 272.6h0.7v0.7h-0.7zM328.9 260.5h0.7v0.7h-0.7zM330.5 273.5h0.7v0.7h-0.7zM323.2 267.9h0.7v0.7h-0.7zM321.4 271.5h0.7v0.7h-0.7zM332.6 270.9h0.7v0.7h-0.7zM324.6 253.2h0.7v0.7h-0.7zM318.9 249.5h0.7v0.7h-0.7zM318.8 246.1h0.7v0.7h-0.7zM334.9 273.9h0.7v0.7h-0.7zM324.6 259.4h0.7v0.7h-0.7zM327.3 259.5h0.7v0.7h-0.7zM323.1 251.9h0.7v0.7h-0.7zM318.9 269.0h0.7v0.7h-0.7zM335.1 267.8h0.7v0.7h-0.7zM333.3 272.6h0.7v0.7h-0.7zM323.8 239.4h0.7v0.7h-0.7zM321.9 257.8h0.7v0.7h-0.7zM325.7 263.3h0.7v0.7h-0.7zM327.0 253.8h0.7v0.7h-0.7zM316.7 260.6h0.7v0.7h-0.7zM325.9 253.5h0.7v0.7h-0.7zM331.4 264.0h0.7v0.7h-0.7zM331.4 270.5h0.7v0.7h-0.7zM320.4 248.2h0.7v0.7h-0.7zM319.9 263.5h0.7v0.7h-0.7zM321.3 252.0h0.7v0.7h-0.7zM324.0 251.4h0.7v0.7h-0.7zM315.9 249.7h0.7v0.7h-0.7zM327.1 252.6h0.7v0.7h-0.7zM318.0 251.2h0.7v0.7h-0.7zM326.5 274.3h0.7v0.7h-0.7zM321.3 251.9h0.7v0.7h-0.7zM318.9 254.0h0.7v0.7h-0.7zM324.1 252.4h0.7v0.7h-0.7zM323.4 244.0h0.7v0.7h-0.7zM334.0 264.0h0.7v0.7h-0.7zM320.2 249.9h0.7v0.7h-0.7zM318.8 255.2h0.7v0.7h-0.7zM317.2 251.4h0.7v0.7h-0.7zM318.4 254.3h0.7v0.7h-0.7zM321.7 268.4h0.7v0.7h-0.7zM333.0 267.9h0.7v0.7h-0.7zM322.0 269.6h0.7v0.7h-0.7z" fill="#d47838"/>
<path d="M312.9 245.2h0.7v0.7h-0.7zM317.3 271.7h0.7v0.7h-0.7zM334.6 271.0h0.7v0.7h-0.7zM319.3 245.9h0.7v0.7h-0.7zM325.1 265.2h0.7v0.7h-0.7zM326.9 264.4h0.7v0.7h-0.7zM319.9 248.9h0.7v0.7h-0.7zM322.6 253.6h0.7v0.7h-0.7zM333.6 266.4h0.7v0.7h-0.7zM324.1 259.2h0.7v0.7h-0.7zM334.6 271.9h0.7v0.7h-0.7zM332.2 259.7h0.7v0.7h-0.7zM324.0 252.0h0.7v0.7h-0.7zM325.2 262.7h0.7v0.7h-0.7zM329.7 267.8h0.7v0.7h-0.7zM313.3 250.9h0.7v0.7h-0.7zM324.1 260.1h0.7v0.7h-0.7zM318.1 264.9h0.7v0.7h-0.7zM327.6 250.0h0.7v0.7h-0.7zM322.3 250.4h0.7v0.7h-0.7zM328.6 265.9h0.7v0.7h-0.7zM323.7 252.4h0.7v0.7h-0.7zM333.0 265.0h0.7v0.7h-0.7zM323.8 246.1h0.7v0.7h-0.7zM325.8 257.9h0.7v0.7h-0.7zM324.3 265.5h0.7v0.7h-0.7zM326.2 254.3h0.7v0.7h-0.7zM320.6 265.6h0.7v0.7h-0.7zM317.3 248.6h0.7v0.7h-0.7zM334.0 276.3h0.7v0.7h-0.7zM327.5 264.9h0.7v0.7h-0.7zM315.5 252.1h0.7v0.7h-0.7zM324.8 249.6h0.7v0.7h-0.7zM321.9 254.5h0.7v0.7h-0.7zM326.1 260.9h0.7v0.7h-0.7zM320.1 258.2h0.7v0.7h-0.7zM328.6 261.3h0.7v0.7h-0.7zM323.0 251.4h0.7v0.7h-0.7zM327.1 260.6h0.7v0.7h-0.7zM323.8 260.8h0.7v0.7h-0.7zM319.3 257.8h0.7v0.7h-0.7zM319.9 256.6h0.7v0.7h-0.7zM334.2 266.7h0.7v0.7h-0.7zM327.9 266.0h0.7v0.7h-0.7zM319.4 251.7h0.7v0.7h-0.7zM332.8 268.8h0.7v0.7h-0.7zM327.6 270.7h0.7v0.7h-0.7zM330.0 273.3h0.7v0.7h-0.7zM325.4 263.1h0.7v0.7h-0.7zM321.9 251.0h0.7v0.7h-0.7zM329.7 270.2h0.7v0.7h-0.7zM326.7 255.5h0.7v0.7h-0.7zM321.9 243.4h0.7v0.7h-0.7zM317.6 265.7h0.7v0.7h-0.7zM325.9 248.8h0.7v0.7h-0.7zM318.0 263.4h0.7v0.7h-0.7zM318.6 239.1h0.7v0.7h-0.7zM319.2 252.5h0.7v0.7h-0.7zM329.2 267.2h0.7v0.7h-0.7zM321.0 250.1h0.7v0.7h-0.7zM326.6 254.4h0.7v0.7h-0.7zM320.5 246.1h0.7v0.7h-0.7zM323.3 255.2h0.7v0.7h-0.7zM332.7 269.4h0.7v0.7h-0.7zM319.1 256.7h0.7v0.7h-0.7zM324.8 244.3h0.7v0.7h-0.7zM319.4 262.3h0.7v0.7h-0.7zM321.5 244.8h0.7v0.7h-0.7zM317.8 272.0h0.7v0.7h-0.7zM315.8 252.4h0.7v0.7h-0.7zM321.3 253.1h0.7v0.7h-0.7zM322.3 275.1h0.7v0.7h-0.7zM323.5 268.4h0.7v0.7h-0.7zM312.6 253.0h0.7v0.7h-0.7zM322.9 257.3h0.7v0.7h-0.7zM322.2 260.6h0.7v0.7h-0.7zM330.4 261.5h0.7v0.7h-0.7zM318.3 257.7h0.7v0.7h-0.7zM329.9 280.0h0.7v0.7h-0.7zM326.0 249.4h0.7v0.7h-0.7zM318.4 243.3h0.7v0.7h-0.7zM327.8 272.6h0.7v0.7h-0.7zM322.8 255.6h0.7v0.7h-0.7zM319.7 240.9h0.7v0.7h-0.7zM323.1 259.1h0.7v0.7h-0.7zM329.9 273.9h0.7v0.7h-0.7zM319.4 248.9h0.7v0.7h-0.7zM318.6 252.6h0.7v0.7h-0.7zM333.1 271.2h0.7v0.7h-0.7zM321.2 253.9h0.7v0.7h-0.7zM326.7 256.4h0.7v0.7h-0.7zM336.5 273.5h0.7v0.7h-0.7zM317.2 253.7h0.7v0.7h-0.7zM328.7 265.4h0.7v0.7h-0.7zM331.0 273.0h0.7v0.7h-0.7zM318.4 263.0h0.7v0.7h-0.7zM319.5 244.8h0.7v0.7h-0.7zM333.7 271.5h0.7v0.7h-0.7zM318.5 255.3h0.7v0.7h-0.7zM329.0 269.3h0.7v0.7h-0.7zM325.2 269.0h0.7v0.7h-0.7zM324.0 268.7h0.7v0.7h-0.7zM321.9 256.3h0.7v0.7h-0.7zM324.2 261.0h0.7v0.7h-0.7zM322.7 253.9h0.7v0.7h-0.7zM330.5 264.9h0.7v0.7h-0.7zM318.7 251.3h0.7v0.7h-0.7zM326.1 265.8h0.7v0.7h-0.7zM318.8 248.8h0.7v0.7h-0.7zM323.2 267.6h0.7v0.7h-0.7zM319.7 256.4h0.7v0.7h-0.7zM330.3 262.0h0.7v0.7h-0.7zM323.2 251.5h0.7v0.7h-0.7zM323.8 261.8h0.7v0.7h-0.7zM325.2 259.1h0.7v0.7h-0.7zM345.3 279.8h0.7v0.7h-0.7zM324.3 254.0h0.7v0.7h-0.7zM327.9 268.8h0.7v0.7h-0.7zM329.8 270.5h0.7v0.7h-0.7zM327.0 252.5h0.7v0.7h-0.7zM328.5 271.2h0.7v0.7h-0.7zM323.6 242.3h0.7v0.7h-0.7zM326.1 255.5h0.7v0.7h-0.7zM321.2 260.4h0.7v0.7h-0.7zM317.2 260.1h0.7v0.7h-0.7zM325.3 256.4h0.7v0.7h-0.7zM325.6 276.4h0.7v0.7h-0.7zM316.2 250.4h0.7v0.7h-0.7zM323.8 260.5h0.7v0.7h-0.7zM329.0 268.5h0.7v0.7h-0.7zM329.1 268.5h0.7v0.7h-0.7zM328.6 267.6h0.7v0.7h-0.7zM319.6 252.2h0.7v0.7h-0.7zM328.0 264.5h0.7v0.7h-0.7zM325.2 249.5h0.7v0.7h-0.7zM323.7 243.3h0.7v0.7h-0.7zM315.7 258.1h0.7v0.7h-0.7zM316.9 254.9h0.7v0.7h-0.7zM330.4 263.9h0.7v0.7h-0.7zM322.6 267.9h0.7v0.7h-0.7zM326.2 257.6h0.7v0.7h-0.7zM332.1 260.9h0.7v0.7h-0.7zM317.5 252.4h0.7v0.7h-0.7zM333.3 270.6h0.7v0.7h-0.7zM325.5 242.1h0.7v0.7h-0.7zM333.4 264.6h0.7v0.7h-0.7zM324.2 256.7h0.7v0.7h-0.7zM336.6 272.2h0.7v0.7h-0.7zM326.0 250.6h0.7v0.7h-0.7zM334.0 267.8h0.7v0.7h-0.7zM330.3 271.3h0.7v0.7h-0.7zM324.6 253.7h0.7v0.7h-0.7zM333.7 268.8h0.7v0.7h-0.7zM327.6 271.6h0.7v0.7h-0.7zM331.5 266.6h0.7v0.7h-0.7zM315.9 246.4h0.7v0.7h-0.7zM332.2 258.9h0.7v0.7h-0.7zM332.0 268.5h0.7v0.7h-0.7zM317.1 251.3h0.7v0.7h-0.7zM317.0 252.2h0.7v0.7h-0.7zM330.6 266.7h0.7v0.7h-0.7zM326.1 253.4h0.7v0.7h-0.7zM327.5 252.5h0.7v0.7h-0.7zM331.3 267.3h0.7v0.7h-0.7zM337.9 265.4h0.7v0.7h-0.7zM322.8 254.1h0.7v0.7h-0.7zM322.1 257.5h0.7v0.7h-0.7zM333.1 250.5h0.7v0.7h-0.7zM323.4 268.2h0.7v0.7h-0.7zM329.3 270.8h0.7v0.7h-0.7zM321.2 257.1h0.7v0.7h-0.7zM326.9 250.7h0.7v0.7h-0.7zM332.4 267.5h0.7v0.7h-0.7zM326.8 268.6h0.7v0.7h-0.7zM327.4 268.4h0.7v0.7h-0.7zM321.0 247.6h0.7v0.7h-0.7zM327.8 246.6h0.7v0.7h-0.7zM336.5 271.3h0.7v0.7h-0.7zM314.7 248.5h0.7v0.7h-0.7zM315.5 259.8h0.7v0.7h-0.7zM314.8 252.4h0.7v0.7h-0.7zM321.6 275.6h0.7v0.7h-0.7zM320.6 250.6h0.7v0.7h-0.7zM336.3 259.3h0.7v0.7h-0.7zM314.9 257.1h0.7v0.7h-0.7zM327.6 267.0h0.7v0.7h-0.7zM329.9 273.4h0.7v0.7h-0.7zM316.3 246.0h0.7v0.7h-0.7zM323.7 272.3h0.7v0.7h-0.7zM324.9 258.0h0.7v0.7h-0.7zM317.2 259.8h0.7v0.7h-0.7zM327.1 259.0h0.7v0.7h-0.7zM324.8 255.9h0.7v0.7h-0.7zM319.0 255.5h0.7v0.7h-0.7zM322.0 266.5h0.7v0.7h-0.7zM317.9 254.9h0.7v0.7h-0.7zM319.0 259.9h0.7v0.7h-0.7zM326.5 271.0h0.7v0.7h-0.7zM326.9 258.9h0.7v0.7h-0.7zM320.3 258.9h0.7v0.7h-0.7zM319.4 253.4h0.7v0.7h-0.7zM324.3 261.3h0.7v0.7h-0.7zM322.7 258.8h0.7v0.7h-0.7zM328.3 238.1h0.7v0.7h-0.7zM326.9 252.1h0.7v0.7h-0.7zM325.9 251.1h0.7v0.7h-0.7zM323.6 263.4h0.7v0.7h-0.7zM317.4 271.2h0.7v0.7h-0.7zM330.4 269.0h0.7v0.7h-0.7zM324.5 264.8h0.7v0.7h-0.7zM326.8 269.9h0.7v0.7h-0.7zM327.6 268.2h0.7v0.7h-0.7zM317.7 252.7h0.7v0.7h-0.7zM320.9 250.9h0.7v0.7h-0.7zM323.7 268.4h0.7v0.7h-0.7zM328.9 258.8h0.7v0.7h-0.7zM327.9 272.3h0.7v0.7h-0.7zM327.9 258.8h0.7v0.7h-0.7zM324.3 245.1h0.7v0.7h-0.7zM319.4 253.1h0.7v0.7h-0.7zM323.4 256.8h0.7v0.7h-0.7zM328.5 254.2h0.7v0.7h-0.7zM327.2 250.3h0.7v0.7h-0.7zM333.4 274.8h0.7v0.7h-0.7zM318.6 255.1h0.7v0.7h-0.7zM326.8 262.0h0.7v0.7h-0.7zM325.4 250.6h0.7v0.7h-0.7zM319.6 245.1h0.7v0.7h-0.7zM322.1 251.9h0.7v0.7h-0.7zM333.5 275.8h0.7v0.7h-0.7zM328.8 269.0h0.7v0.7h-0.7zM323.1 260.9h0.7v0.7h-0.7zM334.7 265.9h0.7v0.7h-0.7zM324.6 247.9h0.7v0.7h-0.7zM318.1 265.6h0.7v0.7h-0.7zM319.3 256.3h0.7v0.7h-0.7zM330.9 256.8h0.7v0.7h-0.7zM330.7 275.6h0.7v0.7h-0.7zM327.4 263.0h0.7v0.7h-0.7zM321.5 255.3h0.7v0.7h-0.7zM331.7 261.4h0.7v0.7h-0.7zM320.0 251.6h0.7v0.7h-0.7zM328.6 265.2h0.7v0.7h-0.7zM321.2 253.1h0.7v0.7h-0.7zM321.8 255.7h0.7v0.7h-0.7zM323.2 262.5h0.7v0.7h-0.7zM319.4 246.3h0.7v0.7h-0.7zM327.4 265.0h0.7v0.7h-0.7zM321.1 253.0h0.7v0.7h-0.7zM330.7 271.3h0.7v0.7h-0.7zM322.8 256.2h0.7v0.7h-0.7zM317.1 244.2h0.7v0.7h-0.7zM323.4 263.6h0.7v0.7h-0.7zM322.3 254.7h0.7v0.7h-0.7zM331.3 264.8h0.7v0.7h-0.7zM319.0 256.1h0.7v0.7h-0.7z" fill="#dc8040"/>
<path d="M318.8,246.5 C320.5,244.8 324,245 325.2,248.5 C326.5,252.5 326.8,256.5 328.5,260.5 C330.5,264.5 334.5,266.5 333.8,270.2 C332.5,273.2 326,273.2 321.5,271.8 C318.2,270.5 317.8,265 318.0,259 C318.2,253.5 317.5,248.5 318.8,246.5Z" fill="#f2c890" stroke="#e8a060" stroke-width="0.5"/>
<path d="M319.8,249 C321.3,247.6 323.2,248.3 323.8,251.5 C324.5,255.5 325,259 326.5,262.5 C328,266 331,267.5 330.5,269.6 C329,271.2 324.5,270.8 321.8,269.4 C319.6,268 319.3,263 319.3,258 C319.3,254 319,250.5 319.8,249Z" fill="#f6dcb4" stroke="#eab070" stroke-width="0.4"/>
<path d="M320.8,251.5 C321.8,251 322.4,253.5 322.8,256.5 C323.3,260 324.2,263.5 326,266 C324.8,267.3 322.6,266.8 321.6,265 C320.8,262 320.5,256 320.8,251.5Z" fill="#fffaf2"/>
<path d="M456.8 218.7h0.85v0.85h-0.85zM483.4 218.4h0.85v0.85h-0.85zM485.8 218.5h0.85v0.85h-0.85zM485.5 219.4h0.85v0.85h-0.85zM451.5 222.4h0.85v0.85h-0.85zM453.4 222.5h0.85v0.85h-0.85zM454.3 222.6h0.85v0.85h-0.85zM474.8 222.6h0.85v0.85h-0.85zM478.4 223.6h0.85v0.85h-0.85zM453.7 224.7h0.85v0.85h-0.85zM452.8 244.5h0.85v0.85h-0.85zM450.6 245.4h0.85v0.85h-0.85zM450.4 246.6h0.85v0.85h-0.85zM452.8 246.4h0.85v0.85h-0.85zM449.7 247.8h0.85v0.85h-0.85zM459.6 247.4h0.85v0.85h-0.85zM459.6 248.4h0.85v0.85h-0.85zM447.6 249.7h0.85v0.85h-0.85zM458.6 250.4h0.85v0.85h-0.85zM460.4 250.5h0.85v0.85h-0.85zM460.4 252.6h0.85v0.85h-0.85zM446.5 253.8h0.85v0.85h-0.85zM459.3 253.6h0.85v0.85h-0.85zM460.8 255.6h0.85v0.85h-0.85zM447.5 257.4h0.85v0.85h-0.85zM448.7 257.7h0.85v0.85h-0.85zM447.6 258.4h0.85v0.85h-0.85zM448.3 258.6h0.85v0.85h-0.85zM447.8 259.4h0.85v0.85h-0.85zM449.4 259.8h0.85v0.85h-0.85zM458.5 259.5h0.85v0.85h-0.85zM449.8 261.5h0.85v0.85h-0.85zM450.5 261.6h0.85v0.85h-0.85zM451.7 261.5h0.85v0.85h-0.85zM455.7 262.7h0.85v0.85h-0.85zM453.7 263.8h0.85v0.85h-0.85z" fill="rgb(32, 40, 136)"/>
<path d="M460.5 218.7h0.85v0.85h-0.85zM461.3 218.5h0.85v0.85h-0.85zM462.7 218.4h0.85v0.85h-0.85zM468.6 218.4h0.85v0.85h-0.85zM477.7 218.5h0.85v0.85h-0.85zM478.8 218.5h0.85v0.85h-0.85zM481.4 218.4h0.85v0.85h-0.85zM457.6 219.8h0.85v0.85h-0.85zM458.7 219.4h0.85v0.85h-0.85zM459.6 219.8h0.85v0.85h-0.85zM460.5 219.6h0.85v0.85h-0.85zM476.4 219.4h0.85v0.85h-0.85zM477.8 219.7h0.85v0.85h-0.85zM479.8 219.6h0.85v0.85h-0.85zM480.4 219.8h0.85v0.85h-0.85zM466.7 222.6h0.85v0.85h-0.85zM472.8 222.8h0.85v0.85h-0.85zM449.6 223.7h0.85v0.85h-0.85zM452.6 223.4h0.85v0.85h-0.85zM473.7 223.5h0.85v0.85h-0.85zM453.4 246.8h0.85v0.85h-0.85zM454.8 246.3h0.85v0.85h-0.85zM452.6 247.7h0.85v0.85h-0.85zM455.3 247.8h0.85v0.85h-0.85zM456.7 247.7h0.85v0.85h-0.85zM449.4 248.7h0.85v0.85h-0.85zM451.8 248.4h0.85v0.85h-0.85zM456.6 248.4h0.85v0.85h-0.85zM449.5 249.8h0.85v0.85h-0.85zM457.7 249.6h0.85v0.85h-0.85zM448.3 251.7h0.85v0.85h-0.85zM458.8 251.5h0.85v0.85h-0.85zM448.8 252.8h0.85v0.85h-0.85zM458.5 253.7h0.85v0.85h-0.85zM448.8 254.6h0.85v0.85h-0.85zM458.8 255.6h0.85v0.85h-0.85zM448.5 256.6h0.85v0.85h-0.85zM457.6 257.7h0.85v0.85h-0.85zM449.7 258.7h0.85v0.85h-0.85zM457.7 258.7h0.85v0.85h-0.85zM450.6 259.4h0.85v0.85h-0.85zM450.5 260.6h0.85v0.85h-0.85zM452.4 260.6h0.85v0.85h-0.85zM455.7 260.7h0.85v0.85h-0.85z" fill="rgb(32, 48, 144)"/>
<path d="M463.6 218.7h0.85v0.85h-0.85zM472.4 218.6h0.85v0.85h-0.85zM474.5 218.5h1v1h-1zM475.5 218.5h1v1h-1zM476.5 218.5h1v1h-1zM461.5 219.5h1v1h-1zM478.5 219.5h1v1h-1zM457.7 222.7h0.85v0.85h-0.85zM458.8 222.5h0.85v0.85h-0.85zM467.5 222.5h1v1h-1zM472.5 223.5h1v1h-1zM453.5 247.5h1v1h-1zM454.8 247.7h0.85v0.85h-0.85zM450.4 248.4h0.85v0.85h-0.85zM449.5 250.5h1v1h-1zM457.5 250.5h1v1h-1zM448.5 255.5h1v1h-1zM457.5 256.5h1v1h-1zM456.5 258.5h1v1h-1zM451.5 260.5h1v1h-1zM453.5 260.5h1v1h-1z" fill="rgb(32, 48, 152)"/>
<path d="M464.5 218.5h1v1h-1zM473.5 218.5h1v1h-1zM454.5 223.5h1v1h-1zM450.5 249.5h1v1h-1zM456.5 249.5h1v1h-1z" fill="rgb(32, 56, 152)"/>
<path d="M465.5 218.5h1v1h-1z" fill="rgb(40, 64, 176)"/>
<path d="M466.5 218.5h1v1h-1zM465.5 219.5h1v1h-1zM466.5 219.5h1v1h-1zM472.5 219.5h1v1h-1zM457.5 251.5h1v1h-1z" fill="rgb(32, 64, 160)"/>
<path d="M467.5 218.5h1v1h-1zM469.5 218.5h1v1h-1zM470.5 218.5h1v1h-1zM462.5 219.5h1v1h-1zM463.5 219.5h1v1h-1zM468.5 219.5h1v1h-1zM474.5 219.5h1v1h-1zM459.5 222.5h1v1h-1zM453.5 223.5h1v1h-1zM470.5 223.5h1v1h-1zM471.5 223.5h1v1h-1zM461.5 224.5h1v1h-1zM452.5 248.5h1v1h-1zM455.5 248.5h1v1h-1zM457.5 252.5h1v1h-1zM458.5 254.5h1v1h-1zM449.5 257.5h1v1h-1zM451.5 259.5h1v1h-1zM455.5 259.5h1v1h-1zM454.5 260.5h1v1h-1z" fill="rgb(32, 56, 160)"/>
<path d="M471.5 218.5h1v1h-1zM464.5 219.5h1v1h-1zM470.5 219.5h1v1h-1zM475.5 219.5h1v1h-1zM455.5 223.5h1v1h-1zM464.5 224.5h1v1h-1zM454.5 248.5h1v1h-1zM449.5 251.5h1v1h-1zM457.5 254.5h1v1h-1zM452.5 259.5h1v1h-1zM453.5 259.5h1v1h-1z" fill="rgb(32, 64, 168)"/>
<path d="M467.5 219.5h1v1h-1zM473.5 219.5h1v1h-1zM463.5 224.5h1v1h-1zM450.5 250.5h1v1h-1zM449.5 252.5h1v1h-1zM457.5 253.5h1v1h-1zM449.5 254.5h1v1h-1zM449.5 256.5h1v1h-1zM456.5 257.5h1v1h-1zM454.5 259.5h1v1h-1z" fill="rgb(40, 72, 176)"/>
<path d="M469.5 219.5h1v1h-1zM471.5 219.5h1v1h-1zM460.5 222.5h1v1h-1zM456.5 223.5h1v1h-1zM457.5 223.5h1v1h-1zM462.5 224.5h1v1h-1zM453.5 248.5h1v1h-1zM457.5 255.5h1v1h-1zM450.5 258.5h1v1h-1zM455.5 258.5h1v1h-1z" fill="rgb(40, 80, 184)"/>
<path d="M461.5 222.5h1v1h-1z" fill="rgb(80, 192, 112)"/>
<path d="M462.5 222.5h1v1h-1z" fill="rgb(104, 200, 80)"/>
<path d="M463.5 222.5h1v1h-1zM455.5 253.5h1v1h-1zM451.5 255.5h1v1h-1zM453.5 256.5h1v1h-1zM454.5 256.5h1v1h-1zM455.5 256.5h1v1h-1z" fill="rgb(144, 200, 56)"/>
<path d="M464.5 222.5h1v1h-1zM450.5 253.5h1v1h-1zM450.5 254.5h1v1h-1zM450.5 255.5h1v1h-1z" fill="rgb(96, 192, 88)"/>
<path d="M465.5 222.5h1v1h-1z" fill="rgb(40, 128, 208)"/>
<path d="M448.6 223.7h0.85v0.85h-0.85zM477.7 223.8h0.85v0.85h-0.85zM451.4 246.5h0.85v0.85h-0.85zM447.8 250.3h0.85v0.85h-0.85zM458.6 256.7h0.85v0.85h-0.85zM457.6 259.6h0.85v0.85h-0.85zM457.6 260.4h0.85v0.85h-0.85zM453.3 261.5h0.85v0.85h-0.85zM452.6 262.7h0.85v0.85h-0.85z" fill="rgb(32, 40, 144)"/>
<path d="M458.5 223.5h1v1h-1zM468.5 223.5h1v1h-1z" fill="rgb(40, 120, 200)"/>
<path d="M459.5 223.5h1v1h-1zM469.5 223.5h1v1h-1zM449.5 253.5h1v1h-1zM449.5 255.5h1v1h-1zM450.5 257.5h1v1h-1zM451.5 258.5h1v1h-1z" fill="rgb(40, 96, 192)"/>
<path d="M460.5 223.5h1v1h-1zM453.5 250.5h1v1h-1zM454.5 250.5h1v1h-1zM455.5 251.5h1v1h-1z" fill="rgb(112, 200, 72)"/>
<path d="M461.5 223.5h1v1h-1z" fill="rgb(224, 200, 40)"/>
<path d="M462.5 223.5h1v1h-1z" fill="rgb(232, 112, 32)"/>
<path d="M463.5 223.5h1v1h-1z" fill="rgb(224, 88, 24)"/>
<path d="M464.5 223.5h1v1h-1z" fill="rgb(232, 184, 32)"/>
<path d="M465.5 223.5h1v1h-1zM451.5 251.5h1v1h-1zM452.5 256.5h1v1h-1z" fill="rgb(136, 200, 56)"/>
<path d="M466.5 223.5h1v1h-1zM451.5 249.5h1v1h-1z" fill="rgb(40, 112, 200)"/>
<path d="M467.5 223.5h1v1h-1z" fill="rgb(40, 104, 192)"/>
<path d="M452.5 249.5h1v1h-1zM455.5 257.5h1v1h-1z" fill="rgb(56, 184, 184)"/>
<path d="M453.5 249.5h1v1h-1z" fill="rgb(48, 168, 200)"/>
<path d="M454.5 249.5h1v1h-1zM455.5 250.5h1v1h-1z" fill="rgb(48, 160, 208)"/>
<path d="M455.5 249.5h1v1h-1z" fill="rgb(40, 88, 192)"/>
<path d="M451.5 250.5h1v1h-1z" fill="rgb(64, 192, 160)"/>
<path d="M452.5 250.5h1v1h-1z" fill="rgb(96, 192, 80)"/>
<path d="M456.5 250.5h1v1h-1z" fill="rgb(40, 80, 176)"/>
<path d="M450.5 251.5h1v1h-1zM456.5 255.5h1v1h-1z" fill="rgb(48, 160, 200)"/>
<path d="M452.5 251.5h1v1h-1zM454.5 252.5h1v1h-1zM454.5 255.5h1v1h-1zM455.5 255.5h1v1h-1zM453.5 257.5h1v1h-1z" fill="rgb(128, 200, 64)"/>
<path d="M453.5 251.5h1v1h-1zM452.5 255.5h1v1h-1z" fill="rgb(152, 208, 56)"/>
<path d="M454.5 251.5h1v1h-1zM451.5 252.5h1v1h-1zM455.5 252.5h1v1h-1zM451.5 253.5h1v1h-1zM451.5 256.5h1v1h-1z" fill="rgb(120, 200, 64)"/>
<path d="M456.5 251.5h1v1h-1z" fill="rgb(48, 136, 208)"/>
<path d="M450.5 252.5h1v1h-1zM451.5 257.5h1v1h-1z" fill="rgb(80, 192, 120)"/>
<path d="M452.5 252.5h1v1h-1z" fill="rgb(200, 216, 48)"/>
<path d="M453.5 252.5h1v1h-1zM452.5 254.5h1v1h-1z" fill="rgb(176, 208, 48)"/>
<path d="M456.5 252.5h1v1h-1zM450.5 256.5h1v1h-1zM454.5 258.5h1v1h-1z" fill="rgb(56, 176, 192)"/>
<path d="M445.6 253.8h0.85v0.85h-0.85zM445.7 256.4h0.85v0.85h-0.85z" fill="rgb(32, 40, 128)"/>
<path d="M452.5 253.5h1v1h-1zM453.5 254.5h1v1h-1zM454.5 254.5h1v1h-1z" fill="rgb(224, 216, 40)"/>
<path d="M453.5 253.5h1v1h-1z" fill="rgb(216, 216, 40)"/>
<path d="M454.5 253.5h1v1h-1z" fill="rgb(184, 208, 48)"/>
<path d="M456.5 253.5h1v1h-1z" fill="rgb(64, 192, 176)"/>
<path d="M451.5 254.5h1v1h-1zM454.5 257.5h1v1h-1z" fill="rgb(120, 200, 72)"/>
<path d="M455.5 254.5h1v1h-1z" fill="rgb(128, 200, 56)"/>
<path d="M456.5 254.5h1v1h-1zM452.5 258.5h1v1h-1z" fill="rgb(72, 192, 136)"/>
<path d="M453.5 255.5h1v1h-1z" fill="rgb(192, 216, 48)"/>
<path d="M456.5 256.5h1v1h-1z" fill="rgb(48, 152, 216)"/>
<path d="M452.5 257.5h1v1h-1z" fill="rgb(104, 192, 80)"/>
<path d="M453.5 258.5h1v1h-1z" fill="rgb(64, 192, 168)"/>
<text transform="translate(7.40,22.20)" font-size="13.5" font-weight="bold" fill="#000">A</text>
<text transform="translate(140.20,22.20)" font-size="13.5" font-weight="bold" fill="#000">B</text>
<text transform="translate(265.00,22.60)" font-size="13.5" font-weight="bold" fill="#000">C</text>
<text transform="translate(292.80,192.60)" font-size="13.5" font-weight="bold" fill="#000">D</text>
<text transform="translate(293.00,327.80)" font-size="13.5" font-weight="bold" fill="#000">E</text>
<text transform="translate(8.80,453.60)" font-size="13.5" font-weight="bold" fill="#000">F</text>
<line x1="168.20" y1="68.50" x2="168.20" y2="136.50" stroke="#000" stroke-width="1.1"/>
<line x1="167.70" y1="136.00" x2="258.80" y2="136.00" stroke="#000" stroke-width="1.1"/>
<line x1="165.00" y1="136.00" x2="168.20" y2="136.00" stroke="#000" stroke-width="1"/>
<text transform="translate(161.30,139.00)" font-size="8.4" text-anchor="end" fill="#000" stroke="#000" stroke-width="0.07">0.0</text>
<line x1="165.00" y1="125.00" x2="168.20" y2="125.00" stroke="#000" stroke-width="1"/>
<text transform="translate(161.30,128.00)" font-size="8.4" text-anchor="end" fill="#000" stroke="#000" stroke-width="0.07">0.2</text>
<line x1="165.00" y1="114.00" x2="168.20" y2="114.00" stroke="#000" stroke-width="1"/>
<text transform="translate(161.30,117.00)" font-size="8.4" text-anchor="end" fill="#000" stroke="#000" stroke-width="0.07">0.4</text>
<line x1="165.00" y1="103.00" x2="168.20" y2="103.00" stroke="#000" stroke-width="1"/>
<text transform="translate(161.30,106.00)" font-size="8.4" text-anchor="end" fill="#000" stroke="#000" stroke-width="0.07">0.6</text>
<line x1="165.00" y1="92.00" x2="168.20" y2="92.00" stroke="#000" stroke-width="1"/>
<text transform="translate(161.30,95.00)" font-size="8.4" text-anchor="end" fill="#000" stroke="#000" stroke-width="0.07">0.8</text>
<line x1="165.00" y1="81.00" x2="168.20" y2="81.00" stroke="#000" stroke-width="1"/>
<text transform="translate(161.30,84.00)" font-size="8.4" text-anchor="end" fill="#000" stroke="#000" stroke-width="0.07">1.0</text>
<line x1="165.00" y1="70.00" x2="168.20" y2="70.00" stroke="#000" stroke-width="1"/>
<text transform="translate(161.30,73.00)" font-size="8.4" text-anchor="end" fill="#000" stroke="#000" stroke-width="0.07">1.2</text>
<rect x="172.00" y="81.00" width="12.00" height="55.00" fill="#2b4a7f" stroke="none" stroke-width="1"/>
<line x1="178.00" y1="76.60" x2="178.00" y2="81.00" stroke="#000" stroke-width="1"/>
<line x1="175.20" y1="76.60" x2="180.80" y2="76.60" stroke="#000" stroke-width="1.1"/>
<line x1="178.00" y1="136.00" x2="178.00" y2="138.50" stroke="#000" stroke-width="1"/>
<text transform="translate(177.80,150.80)" font-size="9" text-anchor="middle" fill="#000" stroke="#000" stroke-width="0.07">G1</text>
<rect x="190.00" y="100.80" width="12.00" height="35.20" fill="#52245e" stroke="none" stroke-width="1"/>
<line x1="196.00" y1="100.25" x2="196.00" y2="100.80" stroke="#000" stroke-width="1"/>
<line x1="193.20" y1="100.25" x2="198.80" y2="100.25" stroke="#000" stroke-width="1.1"/>
<line x1="196.00" y1="136.00" x2="196.00" y2="138.50" stroke="#000" stroke-width="1"/>
<text transform="translate(195.80,150.80)" font-size="9" text-anchor="middle" fill="#000" stroke="#000" stroke-width="0.07">G2</text>
<rect x="208.00" y="111.80" width="12.00" height="24.20" fill="#5b3913" stroke="none" stroke-width="1"/>
<line x1="214.00" y1="111.25" x2="214.00" y2="111.80" stroke="#000" stroke-width="1"/>
<line x1="211.20" y1="111.25" x2="216.80" y2="111.25" stroke="#000" stroke-width="1.1"/>
<line x1="214.00" y1="136.00" x2="214.00" y2="138.50" stroke="#000" stroke-width="1"/>
<text transform="translate(213.80,150.80)" font-size="9" text-anchor="middle" fill="#000" stroke="#000" stroke-width="0.07">G3</text>
<rect x="226.00" y="122.80" width="12.00" height="13.20" fill="#d4117f" stroke="none" stroke-width="1"/>
<line x1="232.00" y1="121.70" x2="232.00" y2="122.80" stroke="#000" stroke-width="1"/>
<line x1="229.20" y1="121.70" x2="234.80" y2="121.70" stroke="#000" stroke-width="1.1"/>
<line x1="232.00" y1="136.00" x2="232.00" y2="138.50" stroke="#000" stroke-width="1"/>
<text transform="translate(231.80,150.80)" font-size="9" text-anchor="middle" fill="#000" stroke="#000" stroke-width="0.07">G4</text>
<rect x="244.00" y="132.70" width="12.00" height="3.30" fill="#b8102f" stroke="none" stroke-width="1"/>
<line x1="250.00" y1="132.15" x2="250.00" y2="132.70" stroke="#000" stroke-width="1"/>
<line x1="247.20" y1="132.15" x2="252.80" y2="132.15" stroke="#000" stroke-width="1.1"/>
<line x1="250.00" y1="136.00" x2="250.00" y2="138.50" stroke="#000" stroke-width="1"/>
<text transform="translate(249.80,150.80)" font-size="9" text-anchor="middle" fill="#000" stroke="#000" stroke-width="0.07">G5</text>
<line x1="179.20" y1="73.50" x2="194.20" y2="73.50" stroke="#000" stroke-width="1.1"/>
<circle cx="183.40" cy="69.00" r="1.05" fill="#111"/>
<circle cx="186.70" cy="69.00" r="1.05" fill="#111"/>
<circle cx="190.00" cy="69.00" r="1.05" fill="#111"/>
<line x1="197.50" y1="96.10" x2="212.50" y2="96.10" stroke="#000" stroke-width="1.1"/>
<circle cx="205.00" cy="91.60" r="1.05" fill="#111"/>
<line x1="216.20" y1="108.20" x2="231.00" y2="108.20" stroke="#000" stroke-width="1.1"/>
<circle cx="223.60" cy="103.70" r="1.05" fill="#111"/>
<line x1="234.30" y1="119.20" x2="249.40" y2="119.20" stroke="#000" stroke-width="1.1"/>
<circle cx="240.20" cy="114.70" r="1.05" fill="#111"/>
<circle cx="243.50" cy="114.70" r="1.05" fill="#111"/>
<line x1="168.20" y1="208.36" x2="168.20" y2="276.00" stroke="#000" stroke-width="1.1"/>
<line x1="167.70" y1="275.50" x2="258.20" y2="275.50" stroke="#000" stroke-width="1.1"/>
<line x1="165.00" y1="275.50" x2="168.20" y2="275.50" stroke="#000" stroke-width="1"/>
<text transform="translate(161.30,278.50)" font-size="8.4" text-anchor="end" fill="#000" stroke="#000" stroke-width="0.07">0.0</text>
<line x1="165.00" y1="264.56" x2="168.20" y2="264.56" stroke="#000" stroke-width="1"/>
<text transform="translate(161.30,267.56)" font-size="8.4" text-anchor="end" fill="#000" stroke="#000" stroke-width="0.07">0.2</text>
<line x1="165.00" y1="253.62" x2="168.20" y2="253.62" stroke="#000" stroke-width="1"/>
<text transform="translate(161.30,256.62)" font-size="8.4" text-anchor="end" fill="#000" stroke="#000" stroke-width="0.07">0.4</text>
<line x1="165.00" y1="242.68" x2="168.20" y2="242.68" stroke="#000" stroke-width="1"/>
<text transform="translate(161.30,245.68)" font-size="8.4" text-anchor="end" fill="#000" stroke="#000" stroke-width="0.07">0.6</text>
<line x1="165.00" y1="231.74" x2="168.20" y2="231.74" stroke="#000" stroke-width="1"/>
<text transform="translate(161.30,234.74)" font-size="8.4" text-anchor="end" fill="#000" stroke="#000" stroke-width="0.07">0.8</text>
<line x1="165.00" y1="220.80" x2="168.20" y2="220.80" stroke="#000" stroke-width="1"/>
<text transform="translate(161.30,223.80)" font-size="8.4" text-anchor="end" fill="#000" stroke="#000" stroke-width="0.07">1.0</text>
<line x1="165.00" y1="209.86" x2="168.20" y2="209.86" stroke="#000" stroke-width="1"/>
<text transform="translate(161.30,212.86)" font-size="8.4" text-anchor="end" fill="#000" stroke="#000" stroke-width="0.07">1.2</text>
<rect x="171.20" y="220.80" width="12.00" height="54.70" fill="#2b4a7f" stroke="none" stroke-width="1"/>
<line x1="177.20" y1="216.97" x2="177.20" y2="220.80" stroke="#000" stroke-width="1"/>
<line x1="174.40" y1="216.97" x2="180.00" y2="216.97" stroke="#000" stroke-width="1.1"/>
<line x1="177.20" y1="275.50" x2="177.20" y2="278.00" stroke="#000" stroke-width="1"/>
<text transform="translate(177.00,290.30)" font-size="9" text-anchor="middle" fill="#000" stroke="#000" stroke-width="0.07">G1</text>
<rect x="189.20" y="243.23" width="12.00" height="32.27" fill="#52245e" stroke="none" stroke-width="1"/>
<line x1="195.20" y1="241.59" x2="195.20" y2="243.23" stroke="#000" stroke-width="1"/>
<line x1="192.40" y1="241.59" x2="198.00" y2="241.59" stroke="#000" stroke-width="1.1"/>
<line x1="195.20" y1="275.50" x2="195.20" y2="278.00" stroke="#000" stroke-width="1"/>
<text transform="translate(195.00,290.30)" font-size="9" text-anchor="middle" fill="#000" stroke="#000" stroke-width="0.07">G2</text>
<rect x="207.20" y="257.45" width="12.00" height="18.05" fill="#5b3913" stroke="none" stroke-width="1"/>
<line x1="213.20" y1="256.90" x2="213.20" y2="257.45" stroke="#000" stroke-width="1"/>
<line x1="210.40" y1="256.90" x2="216.00" y2="256.90" stroke="#000" stroke-width="1.1"/>
<line x1="213.20" y1="275.50" x2="213.20" y2="278.00" stroke="#000" stroke-width="1"/>
<text transform="translate(213.00,290.30)" font-size="9" text-anchor="middle" fill="#000" stroke="#000" stroke-width="0.07">G3</text>
<rect x="225.20" y="270.85" width="12.00" height="4.65" fill="#d4117f" stroke="none" stroke-width="1"/>
<line x1="231.20" y1="270.30" x2="231.20" y2="270.85" stroke="#000" stroke-width="1"/>
<line x1="228.40" y1="270.30" x2="234.00" y2="270.30" stroke="#000" stroke-width="1.1"/>
<line x1="231.20" y1="275.50" x2="231.20" y2="278.00" stroke="#000" stroke-width="1"/>
<text transform="translate(231.00,290.30)" font-size="9" text-anchor="middle" fill="#000" stroke="#000" stroke-width="0.07">G4</text>
<line x1="246.40" y1="275.50" x2="252.00" y2="275.50" stroke="#000" stroke-width="1.1"/>
<line x1="249.20" y1="275.50" x2="249.20" y2="278.00" stroke="#000" stroke-width="1"/>
<text transform="translate(249.00,290.30)" font-size="9" text-anchor="middle" fill="#000" stroke="#000" stroke-width="0.07">G5</text>
<line x1="179.70" y1="213.40" x2="194.70" y2="213.40" stroke="#000" stroke-width="1.1"/>
<circle cx="183.90" cy="208.90" r="1.05" fill="#111"/>
<circle cx="187.20" cy="208.90" r="1.05" fill="#111"/>
<circle cx="190.50" cy="208.90" r="1.05" fill="#111"/>
<line x1="197.20" y1="235.80" x2="212.00" y2="235.80" stroke="#000" stroke-width="1.1"/>
<circle cx="201.30" cy="231.30" r="1.05" fill="#111"/>
<circle cx="204.60" cy="231.30" r="1.05" fill="#111"/>
<circle cx="207.90" cy="231.30" r="1.05" fill="#111"/>
<line x1="215.00" y1="249.60" x2="230.00" y2="249.60" stroke="#000" stroke-width="1.1"/>
<circle cx="219.20" cy="245.10" r="1.05" fill="#111"/>
<circle cx="222.50" cy="245.10" r="1.05" fill="#111"/>
<circle cx="225.80" cy="245.10" r="1.05" fill="#111"/>
<line x1="231.20" y1="265.80" x2="247.80" y2="265.80" stroke="#000" stroke-width="1.1"/>
<text transform="translate(239.50,263.60)" font-size="7.5" text-anchor="middle" fill="#000" stroke="#000" stroke-width="0.07">n.s.</text>
<line x1="168.20" y1="334.75" x2="168.20" y2="401.25" stroke="#000" stroke-width="1.1"/>
<line x1="167.70" y1="400.75" x2="253.75" y2="400.75" stroke="#000" stroke-width="1.1"/>
<line x1="165.00" y1="400.75" x2="168.20" y2="400.75" stroke="#000" stroke-width="1"/>
<text transform="translate(161.30,403.75)" font-size="8.4" text-anchor="end" fill="#000" stroke="#000" stroke-width="0.07">0.0</text>
<line x1="165.00" y1="390.00" x2="168.20" y2="390.00" stroke="#000" stroke-width="1"/>
<text transform="translate(161.30,393.00)" font-size="8.4" text-anchor="end" fill="#000" stroke="#000" stroke-width="0.07">0.2</text>
<line x1="165.00" y1="379.25" x2="168.20" y2="379.25" stroke="#000" stroke-width="1"/>
<text transform="translate(161.30,382.25)" font-size="8.4" text-anchor="end" fill="#000" stroke="#000" stroke-width="0.07">0.4</text>
<line x1="165.00" y1="368.50" x2="168.20" y2="368.50" stroke="#000" stroke-width="1"/>
<text transform="translate(161.30,371.50)" font-size="8.4" text-anchor="end" fill="#000" stroke="#000" stroke-width="0.07">0.6</text>
<line x1="165.00" y1="357.75" x2="168.20" y2="357.75" stroke="#000" stroke-width="1"/>
<text transform="translate(161.30,360.75)" font-size="8.4" text-anchor="end" fill="#000" stroke="#000" stroke-width="0.07">0.8</text>
<line x1="165.00" y1="347.00" x2="168.20" y2="347.00" stroke="#000" stroke-width="1"/>
<text transform="translate(161.30,350.00)" font-size="8.4" text-anchor="end" fill="#000" stroke="#000" stroke-width="0.07">1.0</text>
<line x1="165.00" y1="336.25" x2="168.20" y2="336.25" stroke="#000" stroke-width="1"/>
<text transform="translate(161.30,339.25)" font-size="8.4" text-anchor="end" fill="#000" stroke="#000" stroke-width="0.07">1.2</text>
<rect x="171.25" y="348.07" width="11.25" height="52.68" fill="#2b4a7f" stroke="none" stroke-width="1"/>
<line x1="176.88" y1="343.77" x2="176.88" y2="348.07" stroke="#000" stroke-width="1"/>
<line x1="174.07" y1="343.77" x2="179.68" y2="343.77" stroke="#000" stroke-width="1.1"/>
<line x1="176.88" y1="400.75" x2="176.88" y2="403.25" stroke="#000" stroke-width="1"/>
<text transform="translate(176.68,415.55)" font-size="9" text-anchor="middle" fill="#000" stroke="#000" stroke-width="0.07">G1</text>
<rect x="188.65" y="351.84" width="11.25" height="48.91" fill="#52245e" stroke="none" stroke-width="1"/>
<line x1="194.28" y1="349.15" x2="194.28" y2="351.84" stroke="#000" stroke-width="1"/>
<line x1="191.47" y1="349.15" x2="197.08" y2="349.15" stroke="#000" stroke-width="1.1"/>
<line x1="194.28" y1="400.75" x2="194.28" y2="403.25" stroke="#000" stroke-width="1"/>
<text transform="translate(194.08,415.55)" font-size="9" text-anchor="middle" fill="#000" stroke="#000" stroke-width="0.07">G2</text>
<rect x="206.05" y="361.24" width="11.25" height="39.51" fill="#5b3913" stroke="none" stroke-width="1"/>
<line x1="211.68" y1="359.09" x2="211.68" y2="361.24" stroke="#000" stroke-width="1"/>
<line x1="208.88" y1="359.09" x2="214.48" y2="359.09" stroke="#000" stroke-width="1.1"/>
<line x1="211.68" y1="400.75" x2="211.68" y2="403.25" stroke="#000" stroke-width="1"/>
<text transform="translate(211.48,415.55)" font-size="9" text-anchor="middle" fill="#000" stroke="#000" stroke-width="0.07">G3</text>
<rect x="223.45" y="380.49" width="11.25" height="20.26" fill="#d4117f" stroke="none" stroke-width="1"/>
<line x1="229.07" y1="379.95" x2="229.07" y2="380.49" stroke="#000" stroke-width="1"/>
<line x1="226.27" y1="379.95" x2="231.88" y2="379.95" stroke="#000" stroke-width="1.1"/>
<line x1="229.07" y1="400.75" x2="229.07" y2="403.25" stroke="#000" stroke-width="1"/>
<text transform="translate(228.88,415.55)" font-size="9" text-anchor="middle" fill="#000" stroke="#000" stroke-width="0.07">G4</text>
<rect x="240.85" y="398.06" width="11.25" height="2.69" fill="#b8102f" stroke="none" stroke-width="1"/>
<line x1="246.47" y1="397.52" x2="246.47" y2="398.06" stroke="#000" stroke-width="1"/>
<line x1="243.67" y1="397.52" x2="249.28" y2="397.52" stroke="#000" stroke-width="1.1"/>
<line x1="246.47" y1="400.75" x2="246.47" y2="403.25" stroke="#000" stroke-width="1"/>
<text transform="translate(246.28,415.55)" font-size="9" text-anchor="middle" fill="#000" stroke="#000" stroke-width="0.07">G5</text>
<line x1="178.25" y1="338.00" x2="193.00" y2="338.00" stroke="#000" stroke-width="1.1"/>
<text transform="translate(185.62,335.80)" font-size="7.5" text-anchor="middle" fill="#000" stroke="#000" stroke-width="0.07">n.s.</text>
<line x1="194.50" y1="346.25" x2="208.75" y2="346.25" stroke="#000" stroke-width="1.1"/>
<circle cx="201.62" cy="341.75" r="1.05" fill="#111"/>
<line x1="212.50" y1="357.00" x2="228.00" y2="357.00" stroke="#000" stroke-width="1.1"/>
<circle cx="216.95" cy="352.50" r="1.05" fill="#111"/>
<circle cx="220.25" cy="352.50" r="1.05" fill="#111"/>
<circle cx="223.55" cy="352.50" r="1.05" fill="#111"/>
<line x1="230.00" y1="377.50" x2="244.50" y2="377.50" stroke="#000" stroke-width="1.1"/>
<circle cx="233.95" cy="373.00" r="1.05" fill="#111"/>
<circle cx="237.25" cy="373.00" r="1.05" fill="#111"/>
<circle cx="240.55" cy="373.00" r="1.05" fill="#111"/>
<line x1="318.80" y1="41.65" x2="318.80" y2="143.40" stroke="#000" stroke-width="1.1"/>
<line x1="318.30" y1="142.90" x2="474.20" y2="142.90" stroke="#000" stroke-width="1.1"/>
<line x1="315.60" y1="142.90" x2="318.80" y2="142.90" stroke="#000" stroke-width="1"/>
<text transform="translate(312.00,146.10) scale(0.95,1)" font-size="9.0" text-anchor="end" fill="#000" stroke="#000" stroke-width="0.07">0</text>
<line x1="315.60" y1="109.65" x2="318.80" y2="109.65" stroke="#000" stroke-width="1"/>
<text transform="translate(312.00,112.85) scale(0.95,1)" font-size="9.0" text-anchor="end" fill="#000" stroke="#000" stroke-width="0.07">5</text>
<line x1="315.60" y1="76.40" x2="318.80" y2="76.40" stroke="#000" stroke-width="1"/>
<text transform="translate(312.00,79.60) scale(0.95,1)" font-size="9.0" text-anchor="end" fill="#000" stroke="#000" stroke-width="0.07">10</text>
<line x1="315.60" y1="43.15" x2="318.80" y2="43.15" stroke="#000" stroke-width="1"/>
<text transform="translate(312.00,46.35) scale(0.95,1)" font-size="9.0" text-anchor="end" fill="#000" stroke="#000" stroke-width="0.07">15</text>
<line x1="318.80" y1="142.90" x2="318.80" y2="146.10" stroke="#000" stroke-width="1"/>
<text transform="translate(318.80,157.20) scale(0.95,1)" font-size="9.0" text-anchor="middle" fill="#000" stroke="#000" stroke-width="0.07">0</text>
<line x1="357.30" y1="142.90" x2="357.30" y2="146.10" stroke="#000" stroke-width="1"/>
<text transform="translate(357.30,157.20) scale(0.95,1)" font-size="9.0" text-anchor="middle" fill="#000" stroke="#000" stroke-width="0.07">20</text>
<line x1="395.80" y1="142.90" x2="395.80" y2="146.10" stroke="#000" stroke-width="1"/>
<text transform="translate(395.80,157.20) scale(0.95,1)" font-size="9.0" text-anchor="middle" fill="#000" stroke="#000" stroke-width="0.07">40</text>
<line x1="434.30" y1="142.90" x2="434.30" y2="146.10" stroke="#000" stroke-width="1"/>
<text transform="translate(434.30,157.20) scale(0.95,1)" font-size="9.0" text-anchor="middle" fill="#000" stroke="#000" stroke-width="0.07">60</text>
<line x1="472.80" y1="142.90" x2="472.80" y2="146.10" stroke="#000" stroke-width="1"/>
<text transform="translate(472.80,157.20) scale(0.95,1)" font-size="9.0" text-anchor="middle" fill="#000" stroke="#000" stroke-width="0.07">80</text>
<path d="M349.10,41.60 L349.10,62.20" stroke="#000" stroke-width="1.15"/>
<path d="M349.10,69.20 L345.50,61.20 L349.10,62.70 L352.70,61.20Z" fill="#000"/>
<text transform="translate(351.90,37.50) rotate(-90)" font-size="8.2" fill="#000" stroke="#000" stroke-width="0.07">Oligo</text>
<path d="M387.00,41.60 L387.00,62.20" stroke="#000" stroke-width="1.15"/>
<path d="M387.00,69.20 L383.40,61.20 L387.00,62.70 L390.60,61.20Z" fill="#000"/>
<text transform="translate(389.80,37.50) rotate(-90)" font-size="8.2" fill="#000" stroke="#000" stroke-width="0.07">FCCP</text>
<path d="M423.70,41.60 L423.70,62.20" stroke="#000" stroke-width="1.15"/>
<path d="M423.70,69.20 L420.10,61.20 L423.70,62.70 L427.30,61.20Z" fill="#000"/>
<text transform="translate(426.50,37.50) rotate(-90)" font-size="8.2" fill="#000" stroke="#000" stroke-width="0.07">Rot/AA</text>
<polyline points="321.9,78.9 334.5,83.1 347.0,85.8 359.6,119.2 372.4,127.7 385.0,123.8 397.9,96.9 410.4,94.6 423.3,98.5 435.8,121.2 448.3,124.4 460.8,123.5" fill="none" stroke="#b8103a" stroke-width="1.3"/>
<line x1="321.90" y1="65.40" x2="321.90" y2="92.40" stroke="#b8103a" stroke-width="1"/>
<line x1="320.10" y1="65.40" x2="323.70" y2="65.40" stroke="#b8103a" stroke-width="1"/>
<line x1="320.10" y1="92.40" x2="323.70" y2="92.40" stroke="#b8103a" stroke-width="1"/>
<rect x="320.10" y="77.10" width="3.60" height="3.60" fill="#b8103a" stroke="none" stroke-width="1"/>
<line x1="334.50" y1="79.30" x2="334.50" y2="86.90" stroke="#b8103a" stroke-width="1"/>
<line x1="332.70" y1="79.30" x2="336.30" y2="79.30" stroke="#b8103a" stroke-width="1"/>
<line x1="332.70" y1="86.90" x2="336.30" y2="86.90" stroke="#b8103a" stroke-width="1"/>
<rect x="332.70" y="81.30" width="3.60" height="3.60" fill="#b8103a" stroke="none" stroke-width="1"/>
<line x1="347.00" y1="85.00" x2="347.00" y2="86.60" stroke="#b8103a" stroke-width="1"/>
<line x1="345.20" y1="85.00" x2="348.80" y2="85.00" stroke="#b8103a" stroke-width="1"/>
<line x1="345.20" y1="86.60" x2="348.80" y2="86.60" stroke="#b8103a" stroke-width="1"/>
<rect x="345.20" y="84.00" width="3.60" height="3.60" fill="#b8103a" stroke="none" stroke-width="1"/>
<line x1="359.60" y1="116.70" x2="359.60" y2="121.70" stroke="#b8103a" stroke-width="1"/>
<line x1="357.80" y1="116.70" x2="361.40" y2="116.70" stroke="#b8103a" stroke-width="1"/>
<line x1="357.80" y1="121.70" x2="361.40" y2="121.70" stroke="#b8103a" stroke-width="1"/>
<rect x="357.80" y="117.40" width="3.60" height="3.60" fill="#b8103a" stroke="none" stroke-width="1"/>
<line x1="372.40" y1="125.70" x2="372.40" y2="129.70" stroke="#b8103a" stroke-width="1"/>
<line x1="370.60" y1="125.70" x2="374.20" y2="125.70" stroke="#b8103a" stroke-width="1"/>
<line x1="370.60" y1="129.70" x2="374.20" y2="129.70" stroke="#b8103a" stroke-width="1"/>
<rect x="370.60" y="125.90" width="3.60" height="3.60" fill="#b8103a" stroke="none" stroke-width="1"/>
<line x1="385.00" y1="123.00" x2="385.00" y2="124.60" stroke="#b8103a" stroke-width="1"/>
<line x1="383.20" y1="123.00" x2="386.80" y2="123.00" stroke="#b8103a" stroke-width="1"/>
<line x1="383.20" y1="124.60" x2="386.80" y2="124.60" stroke="#b8103a" stroke-width="1"/>
<rect x="383.20" y="122.00" width="3.60" height="3.60" fill="#b8103a" stroke="none" stroke-width="1"/>
<line x1="397.90" y1="93.70" x2="397.90" y2="100.10" stroke="#b8103a" stroke-width="1"/>
<line x1="396.10" y1="93.70" x2="399.70" y2="93.70" stroke="#b8103a" stroke-width="1"/>
<line x1="396.10" y1="100.10" x2="399.70" y2="100.10" stroke="#b8103a" stroke-width="1"/>
<rect x="396.10" y="95.10" width="3.60" height="3.60" fill="#b8103a" stroke="none" stroke-width="1"/>
<line x1="410.40" y1="91.60" x2="410.40" y2="97.60" stroke="#b8103a" stroke-width="1"/>
<line x1="408.60" y1="91.60" x2="412.20" y2="91.60" stroke="#b8103a" stroke-width="1"/>
<line x1="408.60" y1="97.60" x2="412.20" y2="97.60" stroke="#b8103a" stroke-width="1"/>
<rect x="408.60" y="92.80" width="3.60" height="3.60" fill="#b8103a" stroke="none" stroke-width="1"/>
<line x1="423.30" y1="91.70" x2="423.30" y2="105.30" stroke="#b8103a" stroke-width="1"/>
<line x1="421.50" y1="91.70" x2="425.10" y2="91.70" stroke="#b8103a" stroke-width="1"/>
<line x1="421.50" y1="105.30" x2="425.10" y2="105.30" stroke="#b8103a" stroke-width="1"/>
<rect x="421.50" y="96.70" width="3.60" height="3.60" fill="#b8103a" stroke="none" stroke-width="1"/>
<line x1="435.80" y1="116.40" x2="435.80" y2="126.00" stroke="#b8103a" stroke-width="1"/>
<line x1="434.00" y1="116.40" x2="437.60" y2="116.40" stroke="#b8103a" stroke-width="1"/>
<line x1="434.00" y1="126.00" x2="437.60" y2="126.00" stroke="#b8103a" stroke-width="1"/>
<rect x="434.00" y="119.40" width="3.60" height="3.60" fill="#b8103a" stroke="none" stroke-width="1"/>
<line x1="448.30" y1="120.60" x2="448.30" y2="128.20" stroke="#b8103a" stroke-width="1"/>
<line x1="446.50" y1="120.60" x2="450.10" y2="120.60" stroke="#b8103a" stroke-width="1"/>
<line x1="446.50" y1="128.20" x2="450.10" y2="128.20" stroke="#b8103a" stroke-width="1"/>
<rect x="446.50" y="122.60" width="3.60" height="3.60" fill="#b8103a" stroke="none" stroke-width="1"/>
<line x1="460.80" y1="119.20" x2="460.80" y2="127.80" stroke="#b8103a" stroke-width="1"/>
<line x1="459.00" y1="119.20" x2="462.60" y2="119.20" stroke="#b8103a" stroke-width="1"/>
<line x1="459.00" y1="127.80" x2="462.60" y2="127.80" stroke="#b8103a" stroke-width="1"/>
<rect x="459.00" y="121.70" width="3.60" height="3.60" fill="#b8103a" stroke="none" stroke-width="1"/>
<polyline points="321.9,80.0 334.5,90.8 347.0,96.9 359.6,121.2 372.4,126.2 385.0,120.9 397.9,80.6 410.4,78.7 423.3,78.8 435.8,116.2 448.3,118.7 460.8,119.6" fill="none" stroke="#264a8a" stroke-width="1.3"/>
<line x1="321.90" y1="71.30" x2="321.90" y2="88.70" stroke="#264a8a" stroke-width="1"/>
<line x1="320.10" y1="71.30" x2="323.70" y2="71.30" stroke="#264a8a" stroke-width="1"/>
<line x1="320.10" y1="88.70" x2="323.70" y2="88.70" stroke="#264a8a" stroke-width="1"/>
<circle cx="321.9" cy="80.0" r="1.7" fill="#264a8a"/>
<line x1="334.50" y1="87.80" x2="334.50" y2="93.80" stroke="#264a8a" stroke-width="1"/>
<line x1="332.70" y1="87.80" x2="336.30" y2="87.80" stroke="#264a8a" stroke-width="1"/>
<line x1="332.70" y1="93.80" x2="336.30" y2="93.80" stroke="#264a8a" stroke-width="1"/>
<circle cx="334.5" cy="90.8" r="1.7" fill="#264a8a"/>
<circle cx="347.0" cy="96.9" r="1.7" fill="#264a8a"/>
<line x1="359.60" y1="117.20" x2="359.60" y2="125.20" stroke="#264a8a" stroke-width="1"/>
<line x1="357.80" y1="117.20" x2="361.40" y2="117.20" stroke="#264a8a" stroke-width="1"/>
<line x1="357.80" y1="125.20" x2="361.40" y2="125.20" stroke="#264a8a" stroke-width="1"/>
<circle cx="359.6" cy="121.2" r="1.7" fill="#264a8a"/>
<line x1="372.40" y1="121.80" x2="372.40" y2="130.60" stroke="#264a8a" stroke-width="1"/>
<line x1="370.60" y1="121.80" x2="374.20" y2="121.80" stroke="#264a8a" stroke-width="1"/>
<line x1="370.60" y1="130.60" x2="374.20" y2="130.60" stroke="#264a8a" stroke-width="1"/>
<circle cx="372.4" cy="126.2" r="1.7" fill="#264a8a"/>
<line x1="385.00" y1="120.10" x2="385.00" y2="121.70" stroke="#264a8a" stroke-width="1"/>
<line x1="383.20" y1="120.10" x2="386.80" y2="120.10" stroke="#264a8a" stroke-width="1"/>
<line x1="383.20" y1="121.70" x2="386.80" y2="121.70" stroke="#264a8a" stroke-width="1"/>
<circle cx="385.0" cy="120.9" r="1.7" fill="#264a8a"/>
<line x1="397.90" y1="77.60" x2="397.90" y2="83.60" stroke="#264a8a" stroke-width="1"/>
<line x1="396.10" y1="77.60" x2="399.70" y2="77.60" stroke="#264a8a" stroke-width="1"/>
<line x1="396.10" y1="83.60" x2="399.70" y2="83.60" stroke="#264a8a" stroke-width="1"/>
<circle cx="397.9" cy="80.6" r="1.7" fill="#264a8a"/>
<line x1="410.40" y1="73.60" x2="410.40" y2="83.80" stroke="#264a8a" stroke-width="1"/>
<line x1="408.60" y1="73.60" x2="412.20" y2="73.60" stroke="#264a8a" stroke-width="1"/>
<line x1="408.60" y1="83.80" x2="412.20" y2="83.80" stroke="#264a8a" stroke-width="1"/>
<circle cx="410.4" cy="78.7" r="1.7" fill="#264a8a"/>
<line x1="423.30" y1="74.90" x2="423.30" y2="82.70" stroke="#264a8a" stroke-width="1"/>
<line x1="421.50" y1="74.90" x2="425.10" y2="74.90" stroke="#264a8a" stroke-width="1"/>
<line x1="421.50" y1="82.70" x2="425.10" y2="82.70" stroke="#264a8a" stroke-width="1"/>
<circle cx="423.3" cy="78.8" r="1.7" fill="#264a8a"/>
<line x1="435.80" y1="113.00" x2="435.80" y2="119.40" stroke="#264a8a" stroke-width="1"/>
<line x1="434.00" y1="113.00" x2="437.60" y2="113.00" stroke="#264a8a" stroke-width="1"/>
<line x1="434.00" y1="119.40" x2="437.60" y2="119.40" stroke="#264a8a" stroke-width="1"/>
<circle cx="435.8" cy="116.2" r="1.7" fill="#264a8a"/>
<line x1="448.30" y1="115.90" x2="448.30" y2="121.50" stroke="#264a8a" stroke-width="1"/>
<line x1="446.50" y1="115.90" x2="450.10" y2="115.90" stroke="#264a8a" stroke-width="1"/>
<line x1="446.50" y1="121.50" x2="450.10" y2="121.50" stroke="#264a8a" stroke-width="1"/>
<circle cx="448.3" cy="118.7" r="1.7" fill="#264a8a"/>
<line x1="460.80" y1="117.30" x2="460.80" y2="121.90" stroke="#264a8a" stroke-width="1"/>
<line x1="459.00" y1="117.30" x2="462.60" y2="117.30" stroke="#264a8a" stroke-width="1"/>
<line x1="459.00" y1="121.90" x2="462.60" y2="121.90" stroke="#264a8a" stroke-width="1"/>
<circle cx="460.8" cy="119.6" r="1.7" fill="#264a8a"/>
<line x1="448.30" y1="49.40" x2="459.80" y2="49.40" stroke="#264a8a" stroke-width="1.0"/>
<circle cx="454" cy="49.4" r="2.4" fill="#1f3f80"/>
<line x1="448.30" y1="63.40" x2="459.80" y2="63.40" stroke="#b8103a" stroke-width="1.0"/>
<rect x="451.20" y="60.60" width="5.60" height="5.60" fill="#b0002c" stroke="none" stroke-width="1"/>
<text transform="translate(462.90,52.00) scale(0.915,1)" font-size="8.8" fill="#000" stroke="#000" stroke-width="0.07">Erythroblast</text>
<text transform="translate(462.90,65.90) scale(0.915,1)" font-size="8.8" fill="#000" stroke="#000" stroke-width="0.07">Reticulocyte</text>
<line x1="373.30" y1="324.70" x2="373.30" y2="401.50" stroke="#000" stroke-width="1.1"/>
<line x1="372.80" y1="401.00" x2="458.80" y2="401.00" stroke="#000" stroke-width="1.1"/>
<line x1="370.10" y1="401.00" x2="373.30" y2="401.00" stroke="#000" stroke-width="1"/>
<text transform="translate(366.40,403.90)" font-size="8.2" text-anchor="end" fill="#000" stroke="#000" stroke-width="0.07">0.0</text>
<line x1="370.10" y1="376.50" x2="373.30" y2="376.50" stroke="#000" stroke-width="1"/>
<text transform="translate(366.40,379.40)" font-size="8.2" text-anchor="end" fill="#000" stroke="#000" stroke-width="0.07">0.5</text>
<line x1="370.10" y1="352.00" x2="373.30" y2="352.00" stroke="#000" stroke-width="1"/>
<text transform="translate(366.40,354.90)" font-size="8.2" text-anchor="end" fill="#000" stroke="#000" stroke-width="0.07">1.0</text>
<line x1="370.10" y1="327.50" x2="373.30" y2="327.50" stroke="#000" stroke-width="1"/>
<text transform="translate(366.40,330.40)" font-size="8.2" text-anchor="end" fill="#000" stroke="#000" stroke-width="0.07">1.5</text>
<rect x="380.10" y="347.10" width="12.70" height="53.90" fill="#e6c3b7" stroke="none" stroke-width="1"/>
<line x1="386.45" y1="339.75" x2="386.45" y2="347.10" stroke="#000" stroke-width="1"/>
<line x1="383.45" y1="339.75" x2="389.45" y2="339.75" stroke="#000" stroke-width="1.1"/>
<line x1="386.45" y1="401.00" x2="386.45" y2="403.50" stroke="#000" stroke-width="1"/>
<text transform="translate(386.45,415.70)" font-size="9" text-anchor="middle" fill="#000" stroke="#000" stroke-width="0.07">0</text>
<rect x="399.80" y="385.81" width="12.70" height="15.19" fill="#cf8a7b" stroke="none" stroke-width="1"/>
<line x1="406.15" y1="382.87" x2="406.15" y2="385.81" stroke="#000" stroke-width="1"/>
<line x1="403.15" y1="382.87" x2="409.15" y2="382.87" stroke="#000" stroke-width="1.1"/>
<line x1="406.15" y1="401.00" x2="406.15" y2="403.50" stroke="#000" stroke-width="1"/>
<text transform="translate(406.15,415.70)" font-size="9" text-anchor="middle" fill="#000" stroke="#000" stroke-width="0.07">5</text>
<circle cx="403.25" cy="378.67" r="0.85" fill="#111"/>
<circle cx="406.15" cy="378.67" r="0.85" fill="#111"/>
<circle cx="409.05" cy="378.67" r="0.85" fill="#111"/>
<rect x="419.70" y="394.14" width="12.70" height="6.86" fill="#b8554d" stroke="none" stroke-width="1"/>
<line x1="426.05" y1="392.18" x2="426.05" y2="394.14" stroke="#000" stroke-width="1"/>
<line x1="423.05" y1="392.18" x2="429.05" y2="392.18" stroke="#000" stroke-width="1.1"/>
<line x1="426.05" y1="401.00" x2="426.05" y2="403.50" stroke="#000" stroke-width="1"/>
<text transform="translate(426.05,415.70)" font-size="9" text-anchor="middle" fill="#000" stroke="#000" stroke-width="0.07">10</text>
<circle cx="423.15" cy="387.98" r="0.85" fill="#111"/>
<circle cx="426.05" cy="387.98" r="0.85" fill="#111"/>
<circle cx="428.95" cy="387.98" r="0.85" fill="#111"/>
<rect x="439.30" y="392.67" width="12.70" height="8.33" fill="#a80c2c" stroke="none" stroke-width="1"/>
<line x1="445.65" y1="390.22" x2="445.65" y2="392.67" stroke="#000" stroke-width="1"/>
<line x1="442.65" y1="390.22" x2="448.65" y2="390.22" stroke="#000" stroke-width="1.1"/>
<line x1="445.65" y1="401.00" x2="445.65" y2="403.50" stroke="#000" stroke-width="1"/>
<text transform="translate(445.65,415.70)" font-size="9" text-anchor="middle" fill="#000" stroke="#000" stroke-width="0.07">20</text>
<circle cx="442.75" cy="386.02" r="0.85" fill="#111"/>
<circle cx="445.65" cy="386.02" r="0.85" fill="#111"/>
<circle cx="448.55" cy="386.02" r="0.85" fill="#111"/>
<text transform="translate(373.20,415.70)" font-size="9" text-anchor="end" fill="#000" stroke="#000" stroke-width="0.07">BAM15 (µM):</text>
<line x1="410.60" y1="451.80" x2="410.60" y2="529.70" stroke="#000" stroke-width="1.1"/>
<line x1="410.10" y1="529.20" x2="490.00" y2="529.20" stroke="#000" stroke-width="1.1"/>
<line x1="407.40" y1="529.20" x2="410.60" y2="529.20" stroke="#000" stroke-width="1"/>
<text transform="translate(403.60,532.10)" font-size="8.2" text-anchor="end" fill="#000" stroke="#000" stroke-width="0.07">0.0</text>
<line x1="407.40" y1="515.08" x2="410.60" y2="515.08" stroke="#000" stroke-width="1"/>
<text transform="translate(403.60,517.98)" font-size="8.2" text-anchor="end" fill="#000" stroke="#000" stroke-width="0.07">0.2</text>
<line x1="407.40" y1="500.96" x2="410.60" y2="500.96" stroke="#000" stroke-width="1"/>
<text transform="translate(403.60,503.86)" font-size="8.2" text-anchor="end" fill="#000" stroke="#000" stroke-width="0.07">0.4</text>
<line x1="407.40" y1="486.84" x2="410.60" y2="486.84" stroke="#000" stroke-width="1"/>
<text transform="translate(403.60,489.74)" font-size="8.2" text-anchor="end" fill="#000" stroke="#000" stroke-width="0.07">0.6</text>
<line x1="407.40" y1="472.72" x2="410.60" y2="472.72" stroke="#000" stroke-width="1"/>
<text transform="translate(403.60,475.62)" font-size="8.2" text-anchor="end" fill="#000" stroke="#000" stroke-width="0.07">0.8</text>
<line x1="407.40" y1="458.60" x2="410.60" y2="458.60" stroke="#000" stroke-width="1"/>
<text transform="translate(403.60,461.50)" font-size="8.2" text-anchor="end" fill="#000" stroke="#000" stroke-width="0.07">1.0</text>
<rect x="413.00" y="458.60" width="10.70" height="70.60" fill="#2b4a7f" stroke="none" stroke-width="1"/>
<line x1="418.35" y1="458.25" x2="418.35" y2="458.60" stroke="#000" stroke-width="1"/>
<line x1="415.55" y1="458.25" x2="421.15" y2="458.25" stroke="#000" stroke-width="1.1"/>
<line x1="418.35" y1="529.20" x2="418.35" y2="531.70" stroke="#000" stroke-width="1"/>
<rect x="429.20" y="515.79" width="10.70" height="13.41" fill="#e2921e" stroke="none" stroke-width="1"/>
<line x1="434.55" y1="509.43" x2="434.55" y2="515.79" stroke="#000" stroke-width="1"/>
<line x1="431.75" y1="509.43" x2="437.35" y2="509.43" stroke="#000" stroke-width="1.1"/>
<line x1="434.55" y1="529.20" x2="434.55" y2="531.70" stroke="#000" stroke-width="1"/>
<circle cx="431.65" cy="505.23" r="0.85" fill="#111"/>
<circle cx="434.55" cy="505.23" r="0.85" fill="#111"/>
<circle cx="437.45" cy="505.23" r="0.85" fill="#111"/>
<rect x="444.90" y="503.43" width="10.70" height="25.77" fill="#a8002c" stroke="none" stroke-width="1"/>
<line x1="450.25" y1="499.90" x2="450.25" y2="503.43" stroke="#000" stroke-width="1"/>
<line x1="447.45" y1="499.90" x2="453.05" y2="499.90" stroke="#000" stroke-width="1.1"/>
<line x1="450.25" y1="529.20" x2="450.25" y2="531.70" stroke="#000" stroke-width="1"/>
<circle cx="447.35" cy="495.70" r="0.85" fill="#111"/>
<circle cx="450.25" cy="495.70" r="0.85" fill="#111"/>
<circle cx="453.15" cy="495.70" r="0.85" fill="#111"/>
<rect x="461.00" y="501.67" width="10.70" height="27.53" fill="#52245e" stroke="none" stroke-width="1"/>
<line x1="466.35" y1="498.14" x2="466.35" y2="501.67" stroke="#000" stroke-width="1"/>
<line x1="463.55" y1="498.14" x2="469.15" y2="498.14" stroke="#000" stroke-width="1.1"/>
<line x1="466.35" y1="529.20" x2="466.35" y2="531.70" stroke="#000" stroke-width="1"/>
<circle cx="463.45" cy="493.94" r="0.85" fill="#111"/>
<circle cx="466.35" cy="493.94" r="0.85" fill="#111"/>
<circle cx="469.25" cy="493.94" r="0.85" fill="#111"/>
<rect x="477.00" y="468.13" width="10.70" height="61.07" fill="#c6c3ca" stroke="none" stroke-width="1"/>
<line x1="482.35" y1="465.66" x2="482.35" y2="468.13" stroke="#000" stroke-width="1"/>
<line x1="479.55" y1="465.66" x2="485.15" y2="465.66" stroke="#000" stroke-width="1.1"/>
<line x1="482.35" y1="529.20" x2="482.35" y2="531.70" stroke="#000" stroke-width="1"/>
<text transform="translate(482.30,462.50)" font-size="7" text-anchor="middle" fill="#000" stroke="#000" stroke-width="0.07">n.s.</text>
<text transform="translate(403.50,544.40)" font-size="9" text-anchor="end" fill="#000" stroke="#000" stroke-width="0.07">DMSO:</text>
<text transform="translate(418.00,544.40)" font-size="9" text-anchor="middle" fill="#000" stroke="#000" stroke-width="0.07">+</text>
<text transform="translate(434.10,544.40)" font-size="9" text-anchor="middle" fill="#000" stroke="#000" stroke-width="0.07">–</text>
<text transform="translate(449.90,544.40)" font-size="9" text-anchor="middle" fill="#000" stroke="#000" stroke-width="0.07">–</text>
<text transform="translate(466.00,544.40)" font-size="9" text-anchor="middle" fill="#000" stroke="#000" stroke-width="0.07">–</text>
<text transform="translate(403.50,557.80)" font-size="9" text-anchor="end" fill="#000" stroke="#000" stroke-width="0.07">CCCP (10 µM):</text>
<text transform="translate(418.00,557.80)" font-size="9" text-anchor="middle" fill="#000" stroke="#000" stroke-width="0.07">–</text>
<text transform="translate(434.10,557.80)" font-size="9" text-anchor="middle" fill="#000" stroke="#000" stroke-width="0.07">+</text>
<text transform="translate(449.90,557.80)" font-size="9" text-anchor="middle" fill="#000" stroke="#000" stroke-width="0.07">–</text>
<text transform="translate(466.00,557.80)" font-size="9" text-anchor="middle" fill="#000" stroke="#000" stroke-width="0.07">–</text>
<text transform="translate(403.50,571.20)" font-size="9" text-anchor="end" fill="#000" stroke="#000" stroke-width="0.07">BAM15 (20 µM):</text>
<text transform="translate(418.00,571.20)" font-size="9" text-anchor="middle" fill="#000" stroke="#000" stroke-width="0.07">–</text>
<text transform="translate(434.10,571.20)" font-size="9" text-anchor="middle" fill="#000" stroke="#000" stroke-width="0.07">–</text>
<text transform="translate(449.90,571.20)" font-size="9" text-anchor="middle" fill="#000" stroke="#000" stroke-width="0.07">+</text>
<text transform="translate(466.00,571.20)" font-size="9" text-anchor="middle" fill="#000" stroke="#000" stroke-width="0.07">–</text>
<text transform="translate(403.50,584.40)" font-size="8.8" text-anchor="end" fill="#000" stroke="#000" stroke-width="0.07">Oligomycin (5 µM):</text>
<text transform="translate(418.00,584.40)" font-size="9" text-anchor="middle" fill="#000" stroke="#000" stroke-width="0.07">–</text>
<text transform="translate(434.10,584.40)" font-size="9" text-anchor="middle" fill="#000" stroke="#000" stroke-width="0.07">–</text>
<text transform="translate(449.90,584.40)" font-size="9" text-anchor="middle" fill="#000" stroke="#000" stroke-width="0.07">–</text>
<text transform="translate(466.00,584.40)" font-size="9" text-anchor="middle" fill="#000" stroke="#000" stroke-width="0.07">+</text>
<text transform="translate(479.60,537.00) rotate(90)" font-size="8.7" font-weight="bold" fill="#000">CCCP Pulse</text>
<rect x="32.80" y="465.40" width="74.20" height="74.30" fill="none" stroke="#c8c8c8" stroke-width="0.8"/>
<text transform="translate(70.00,460.00)" font-size="9" text-anchor="middle" fill="#000" stroke="#000" stroke-width="0.07">DMSO</text>
<rect x="34.80" y="497.40" width="23.60" height="25.70" fill="none" stroke="#333" stroke-width="1.0"/>
<text transform="translate(60.40,516.60)" font-size="8.3" fill="#000" stroke="#000" stroke-width="0.07">62.4%</text>
<rect x="110.30" y="465.10" width="74.20" height="74.30" fill="none" stroke="#c8c8c8" stroke-width="0.8"/>
<text transform="translate(148.20,460.00)" font-size="9" text-anchor="middle" fill="#000" stroke="#000" stroke-width="0.07">10 µM CCCP</text>
<rect x="111.30" y="497.40" width="23.60" height="25.70" fill="none" stroke="#333" stroke-width="1.0"/>
<text transform="translate(138.60,516.60)" font-size="8.3" fill="#000" stroke="#000" stroke-width="0.07">6.98%</text>
<rect x="187.30" y="465.10" width="74.20" height="74.30" fill="none" stroke="#c8c8c8" stroke-width="0.8"/>
<text transform="translate(226.30,460.00)" font-size="9" text-anchor="middle" fill="#000" stroke="#000" stroke-width="0.07">20 µM BAM15</text>
<rect x="189.50" y="497.40" width="23.60" height="25.70" fill="none" stroke="#333" stroke-width="1.0"/>
<text transform="translate(216.10,516.60)" font-size="8.3" fill="#000" stroke="#000" stroke-width="0.07">11.4%</text>
<rect x="266.80" y="465.10" width="74.20" height="74.30" fill="none" stroke="#c8c8c8" stroke-width="0.8"/>
<text transform="translate(305.00,460.00)" font-size="9" text-anchor="middle" fill="#000" stroke="#000" stroke-width="0.07">5 µM Oligomycin</text>
<rect x="268.40" y="497.40" width="23.60" height="25.70" fill="none" stroke="#333" stroke-width="1.0"/>
<text transform="translate(297.20,516.60)" font-size="8.3" fill="#000" stroke="#000" stroke-width="0.07">23.9%</text>
<path d="M25.80,515.00 L25.80,546.70 L72.50,546.70" fill="none" stroke="#000" stroke-width="1.3"/>
<path d="M25.80,508.50 L22.60,516.00 L25.80,514.50 L29.00,516.00Z" fill="#000"/>
<path d="M79.00,546.70 L71.50,543.50 L73.00,546.70 L71.50,549.90Z" fill="#000"/>
<rect x="312.80" y="206.70" width="70.80" height="70.00" fill="none" stroke="#c8c8c8" stroke-width="0.8"/>
<rect x="441.80" y="206.60" width="70.50" height="70.30" fill="none" stroke="#c8c8c8" stroke-width="0.8"/>
<text transform="translate(313.00,201.00)" font-size="9" fill="#000" stroke="#000" stroke-width="0.07">TER119<tspan font-size="6.5" dy="-3.6">+</tspan><tspan dy="3.6"> BM</tspan></text>
<path d="M388.00,208.60 L430.40,208.60" stroke="#000" stroke-width="1.3"/>
<path d="M438.20,208.60 L429.40,204.90 L430.90,208.60 L429.40,212.30Z" fill="#000"/>
<text transform="translate(413.50,219.60)" font-size="8.8" text-anchor="middle" fill="#000" stroke="#000" stroke-width="0.07">Culture</text>
<path d="M305.80,252.70 L305.80,285.00 L354.80,285.00" fill="none" stroke="#000" stroke-width="1.3"/>
<path d="M305.80,246.20 L302.60,253.70 L305.80,252.20 L309.00,253.70Z" fill="#000"/>
<path d="M361.30,285.00 L353.80,281.80 L355.30,285.00 L353.80,288.20Z" fill="#000"/>
<path d="M435.20,252.90 L435.20,284.90 L483.90,284.90" fill="none" stroke="#000" stroke-width="1.3"/>
<path d="M435.20,246.40 L432.00,253.90 L435.20,252.40 L438.40,253.90Z" fill="#000"/>
<path d="M490.40,284.90 L482.90,281.70 L484.40,284.90 L482.90,288.10Z" fill="#000"/>
<text transform="translate(323.70,221.60)" font-size="8" fill="#000" stroke="#000" stroke-width="0.07">Ortho</text>
<text transform="translate(363.10,242.80)" font-size="8" fill="#5a64a8" stroke="#5a64a8" stroke-width="0.07">Nucleated</text>
<text transform="translate(342.90,266.30)" font-size="8" fill="#d2643e" stroke="#d2643e" stroke-width="0.07">Enucleated</text>
<path d="M327.3,235.3 L342.5,225.6 L356.4,247.1 L341,256.6Z" fill="none" stroke="#333" stroke-width="0.9"/>
<rect x="446.10" y="243.20" width="19.60" height="24.30" fill="none" stroke="#444" stroke-width="0.9"/>
<text transform="translate(488.00,253.80)" font-size="8" text-anchor="middle" fill="#000" stroke="#000" stroke-width="0.07">73.8%</text>
<text transform="translate(488.20,263.80)" font-size="8" text-anchor="middle" fill="#000" stroke="#000" stroke-width="0.07">Enucleated</text>
<text transform="translate(74.80,46.80)" font-size="9" text-anchor="middle" fill="#000" stroke="#000" stroke-width="0.07">TER119<tspan font-size="6.5" dy="-3.6">+</tspan><tspan dy="3.6"> BM</tspan></text>
<rect x="30.70" y="52.00" width="87.90" height="84.70" fill="none" stroke="#c8c8c8" stroke-width="0.8"/>
<path d="M24.20,107.70 L24.20,143.50 L74.20,143.50" fill="none" stroke="#000" stroke-width="1.3"/>
<path d="M24.20,101.20 L21.00,108.70 L24.20,107.20 L27.40,108.70Z" fill="#000"/>
<path d="M80.70,143.50 L73.20,140.30 L74.70,143.50 L73.20,146.70Z" fill="#000"/>
<text transform="translate(85.00,83.60)" font-size="8.5" fill="#000" stroke="#000" stroke-width="0.07">G1</text>
<text transform="translate(74.40,93.90)" font-size="8.5" fill="#000" stroke="#000" stroke-width="0.07">G2</text>
<text transform="translate(62.50,102.20)" font-size="8.5" fill="#000" stroke="#000" stroke-width="0.07">G3</text>
<text transform="translate(52.40,111.60)" font-size="8.5" fill="#000" stroke="#000" stroke-width="0.07">G4</text>
<text transform="translate(54.50,124.00)" font-size="8.5" fill="#000" stroke="#000" stroke-width="0.07">G5</text>
<rect x="29.50" y="188.50" width="87.80" height="89.60" fill="none" stroke="#000" stroke-width="1.3"/>
<rect x="28.00" y="320.50" width="90.20" height="89.40" fill="none" stroke="#000" stroke-width="1.3"/>
<path d="M23.50,249.00 L23.50,284.00 L73.50,284.00" fill="none" stroke="#000" stroke-width="1.3"/>
<path d="M23.50,242.50 L20.30,250.00 L23.50,248.50 L26.70,250.00Z" fill="#000"/>
<path d="M80.00,284.00 L72.50,280.80 L74.00,284.00 L72.50,287.20Z" fill="#000"/>
<path d="M22.70,383.20 L22.70,417.10 L72.30,417.10" fill="none" stroke="#000" stroke-width="1.3"/>
<path d="M22.70,376.70 L19.50,384.20 L22.70,382.70 L25.90,384.20Z" fill="#000"/>
<path d="M78.80,417.10 L71.30,413.90 L72.80,417.10 L71.30,420.30Z" fill="#000"/>
<text transform="translate(36.30,197.40)" font-size="9" fill="#000" stroke="#000" stroke-width="0.07">G5</text>
<text transform="translate(58.80,197.40)" font-size="9" fill="#000" stroke="#000" stroke-width="0.07">G4</text>
<text transform="translate(78.00,197.40)" font-size="9" fill="#000" stroke="#000" stroke-width="0.07">G3</text>
<text transform="translate(83.80,208.40)" font-size="9" fill="#000" stroke="#000" stroke-width="0.07">G2</text>
<text transform="translate(89.90,220.60)" font-size="9" fill="#000" stroke="#000" stroke-width="0.07">G1</text>
<text transform="translate(29.70,328.50)" font-size="9" fill="#000" stroke="#000" stroke-width="0.07">G5</text>
<text transform="translate(72.00,328.50)" font-size="9" fill="#000" stroke="#000" stroke-width="0.07">G4</text>
<text transform="translate(85.80,326.90)" font-size="9" fill="#000" stroke="#000" stroke-width="0.07">G3</text>
<text transform="translate(98.00,336.20)" font-size="9" fill="#000" stroke="#000" stroke-width="0.07">G2</text>
<text transform="translate(104.30,348.70)" font-size="9" fill="#000" stroke="#000" stroke-width="0.07">G1</text>
<path d="M70.5,63.3 L89.0,63.8 L91.3,73.9 L74.4,81.5 L62.5,71.2Z" fill="none" stroke="#111" stroke-width="1.05" stroke-linejoin="round"/>
<path d="M62.5,71.2 L74.4,81.5 L65.2,91.9 L54.2,79.2Z" fill="none" stroke="#111" stroke-width="1.05" stroke-linejoin="round"/>
<path d="M54.2,79.2 L65.2,91.9 L55.4,103.1 L45.7,86.3Z" fill="none" stroke="#111" stroke-width="1.05" stroke-linejoin="round"/>
<path d="M45.7,86.3 L55.4,103.1 L48.9,107.1 L31.5,107.1 L31.5,88.0 L35.1,85.4Z" fill="none" stroke="#111" stroke-width="1.05" stroke-linejoin="round"/>
<path d="M31.5,107.1 L48.9,107.1 L48.6,108.3 L48.6,125.4 L38.4,130.0 L31.5,127.2Z" fill="none" stroke="#111" stroke-width="1.05" stroke-linejoin="round"/>
<text transform="translate(18.60,130.32) rotate(-90) scale(0.542,1)" font-size="11" letter-spacing="1" fill="#111" stroke="#111" stroke-width="0.3">CD44</text>
<text transform="translate(45.75,156.30) scale(0.565,1)" font-size="11" letter-spacing="1" fill="#111" stroke="#111" stroke-width="0.3">FSC</text>
<text transform="translate(19.05,273.33) rotate(-90) scale(0.586,1)" font-size="11" letter-spacing="1" fill="#111" stroke="#111" stroke-width="0.3">Count</text>
<text transform="translate(44.28,297.20) scale(0.586,1)" font-size="11" letter-spacing="1" fill="#111" stroke="#111" stroke-width="0.3">MTG</text>
<text transform="translate(17.70,405.92) rotate(-90) scale(0.561,1)" font-size="11" letter-spacing="1" fill="#111" stroke="#111" stroke-width="0.3">Count</text>
<text transform="translate(43.10,429.70) scale(0.565,1)" font-size="11" letter-spacing="1" fill="#111" stroke="#111" stroke-width="0.3">TMRE</text>
<text transform="translate(142.80,108.97) rotate(-90) scale(0.588,1)" font-size="11" letter-spacing="1" fill="#111" stroke="#111" stroke-width="0.3">MTG</text>
<text transform="translate(142.60,250.90) rotate(-90) scale(0.589,1)" font-size="11" letter-spacing="1" fill="#111" stroke="#111" stroke-width="0.3">TMRE</text>
<text transform="translate(143.00,386.20) rotate(-90) scale(0.586,1)" font-size="11" letter-spacing="1" fill="#111" stroke="#111" stroke-width="0.3">TMRE/MTG</text>
<text transform="translate(296.00,119.23) rotate(-90) scale(0.586,1)" font-size="11" letter-spacing="1" fill="#111" stroke="#111" stroke-width="0.3">OCR (pmol/min)</text>
<text transform="translate(379.10,172.10) scale(0.587,1)" font-size="11" letter-spacing="1" fill="#111" stroke="#111" stroke-width="0.3">Time (min)</text>
<text transform="translate(300.30,273.02) rotate(-90) scale(0.539,1)" font-size="11" letter-spacing="1" fill="#111" stroke="#111" stroke-width="0.3">CD44</text>
<text transform="translate(327.66,297.60) scale(0.552,1)" font-size="11" letter-spacing="1" fill="#111" stroke="#111" stroke-width="0.3">FSC</text>
<text transform="translate(429.10,276.25) rotate(-90) scale(0.566,1)" font-size="11" letter-spacing="1" fill="#111" stroke="#111" stroke-width="0.3">DRAQ5</text>
<text transform="translate(456.06,296.80) scale(0.552,1)" font-size="11" letter-spacing="1" fill="#111" stroke="#111" stroke-width="0.3">FSC</text>
<text transform="translate(349.30,368.69) rotate(-90) scale(0.563,1)" font-size="11" letter-spacing="1" fill="#111" stroke="#111" stroke-width="0.3">ATP</text>
<text transform="translate(19.90,539.25) rotate(-90) scale(0.564,1)" font-size="11" letter-spacing="1" fill="#111" stroke="#111" stroke-width="0.3">DRAQ5</text>
<text transform="translate(45.86,559.40) scale(0.552,1)" font-size="11" letter-spacing="1" fill="#111" stroke="#111" stroke-width="0.3">FSC</text>
<text transform="translate(384.90,503.45) rotate(-90) scale(0.569,1)" font-size="11" letter-spacing="1" fill="#111" stroke="#111" stroke-width="0.3">DRAQ5</text>
<line x1="378.0" y1="478.6" x2="378.0" y2="480.4" stroke="#222" stroke-width="0.7"/>
<rect x="0.5" y="0.5" width="519" height="594" fill="none" stroke="#000" stroke-width="1"/>
</svg>
</body></html>
